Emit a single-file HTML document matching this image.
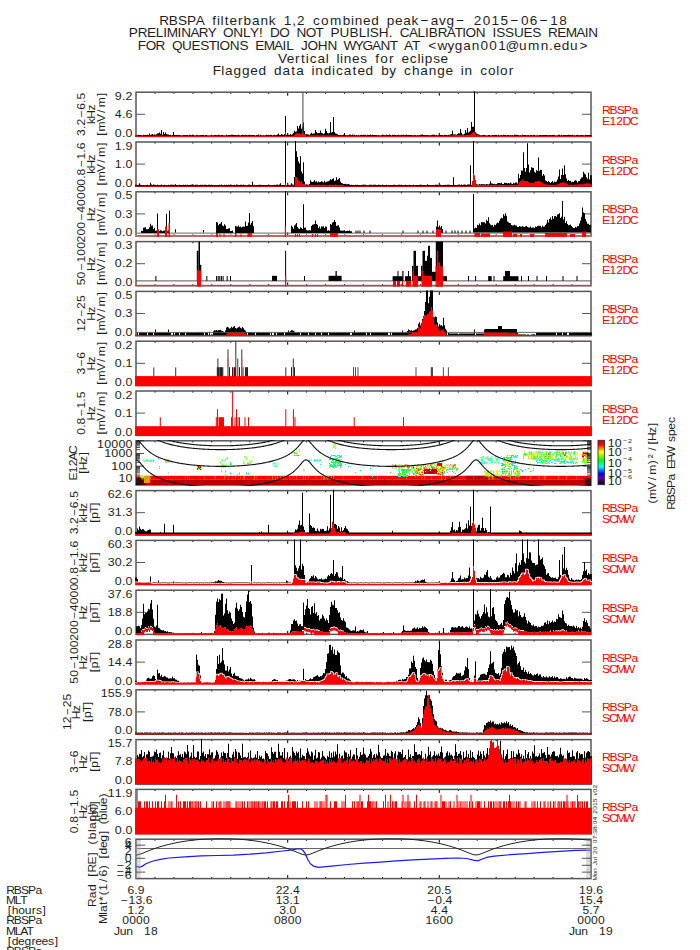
<!DOCTYPE html>
<html><head><meta charset="utf-8"><style>
html,body{margin:0;padding:0;background:#fff;}
svg{display:block;font-family:"Liberation Sans", sans-serif;}
</style></head><body>
<svg width="700" height="950" viewBox="0 0 700 950">
<rect width="700" height="950" fill="#fff"/>
<text transform="translate(363.40,24.60) scale(1.0,1)" x="-204.26 -194.54 -185.42 -176.30 -167.62 -157.41 -151.18 -146.36 -142.80 -138.72 -133.94 -125.53 -119.92 -111.47 -103.01 -94.62 -85.77 -79.65 -71.08 -66.30 -56.40 -50.34 -42.49 -33.47 -20.69 -12.41 -8.67 -0.44 7.79 17.47 23.37 31.60 39.83 48.22 57.22 67.42 75.59 83.00 92.82 104.25 110.37 119.27 128.17 137.07 147.11 157.54 166.44 176.48 186.91 195.81" y="0" font-size="13.58" fill="#1e1e1e">RBSPA filterbank 1,2 combined peak−avg− 2015−06−18</text>
<text transform="translate(363.40,37.20) scale(1.0,1)" x="-234.59 -225.62 -216.35 -207.59 -200.13 -196.78 -185.89 -182.24 -172.96 -164.66 -155.61 -145.40 -140.34 -130.17 -120.37 -113.33 -104.46 -98.67 -93.46 -84.27 -72.42 -66.98 -57.57 -47.98 -38.60 -33.01 -23.82 -13.87 -4.67 2.79 6.37 15.34 25.48 31.27 36.48 45.53 54.07 61.53 65.34 74.31 83.36 91.30 98.91 102.18 112.35 123.83 129.17 132.75 141.65 150.62 160.12 168.80 179.45 184.67 193.94 202.38 212.85 221.28 224.94" y="0" font-size="13.58" fill="#1e1e1e">PRELIMINARY ONLY! DO NOT PUBLISH. CALIBRATION ISSUES REMAIN</text>
<text transform="translate(363.40,49.90) scale(1.0,1)" x="-225.54 -217.77 -207.82 -196.57 -191.52 -181.35 -171.85 -163.17 -154.78 -147.18 -143.90 -133.73 -124.01 -113.36 -108.21 -99.77 -89.30 -80.87 -77.20 -67.97 -62.36 -55.79 -45.62 -35.83 -24.36 -19.98 -8.76 -0.83 8.60 17.12 26.33 35.72 40.64 48.58 57.97 64.79 74.08 84.05 91.45 99.91 108.36 117.04 125.94 134.84 142.18 155.53 164.56 177.34 185.68 190.02 198.25 206.71 216.09" y="0" font-size="13.58" fill="#1e1e1e">FOR QUESTIONS EMAIL JOHN WYGANT AT &lt;wygan001@umn.edu&gt;</text>
<text transform="translate(363.40,62.60) scale(1.0,1)" x="-85.52 -76.76 -68.34 -62.41 -57.58 -53.68 -45.83 -37.55 -32.59 -26.87 -23.31 -19.57 -11.34 -3.17 5.68 11.91 16.92 25.55 32.38 38.05 46.44 54.12 57.68 61.42 69.81 77.21" y="0" font-size="13.58" fill="#1e1e1e">Vertical lines for eclipse</text>
<text transform="translate(363.40,75.30) scale(1.0,1)" x="-150.55 -142.13 -138.39 -129.93 -121.48 -113.25 -105.01 -95.34 -89.44 -80.98 -72.20 -67.19 -57.51 -51.79 -48.05 -39.60 -31.32 -27.43 -19.57 -10.79 -6.00 2.23 11.91 17.81 25.97 34.60 40.66 48.51 56.97 65.42 73.88 82.11 91.56 97.28 101.02 110.70 116.75 124.61 132.88 136.62 145.26" y="0" font-size="13.58" fill="#1e1e1e">Flagged data indicated by change in color</text>
<path d="M155.0,92.2v1.6M155.0,136.4v-1.6M173.9,92.2v1.6M173.9,136.4v-1.6M192.9,92.2v1.6M192.9,136.4v-1.6M211.8,92.2v1.6M211.8,136.4v-1.6M230.8,92.2v1.6M230.8,136.4v-1.6M249.8,92.2v1.6M249.8,136.4v-1.6M268.7,92.2v1.6M268.7,136.4v-1.6M287.7,92.2v3.5M287.7,136.4v-3.5M306.6,92.2v1.6M306.6,136.4v-1.6M325.6,92.2v1.6M325.6,136.4v-1.6M344.5,92.2v1.6M344.5,136.4v-1.6M363.5,92.2v1.6M363.5,136.4v-1.6M382.5,92.2v1.6M382.5,136.4v-1.6M401.4,92.2v1.6M401.4,136.4v-1.6M420.4,92.2v1.6M420.4,136.4v-1.6M439.3,92.2v3.5M439.3,136.4v-3.5M458.3,92.2v1.6M458.3,136.4v-1.6M477.2,92.2v1.6M477.2,136.4v-1.6M496.2,92.2v1.6M496.2,136.4v-1.6M515.2,92.2v1.6M515.2,136.4v-1.6M534.1,92.2v1.6M534.1,136.4v-1.6M553.1,92.2v1.6M553.1,136.4v-1.6M572.0,92.2v1.6M572.0,136.4v-1.6" stroke="#000" stroke-width="1" fill="none"/>
<line x1="136.0" y1="114.3" x2="145.0" y2="114.3" stroke="#575757" stroke-width="1"/>
<line x1="582.0" y1="114.3" x2="591.0" y2="114.3" stroke="#575757" stroke-width="1"/>
<rect x="136.0" y="92.2" width="455.0" height="44.2" fill="none" stroke="#575757" stroke-width="1.5"/>
<path d="M155.0,142.0v1.6M155.0,186.2v-1.6M173.9,142.0v1.6M173.9,186.2v-1.6M192.9,142.0v1.6M192.9,186.2v-1.6M211.8,142.0v1.6M211.8,186.2v-1.6M230.8,142.0v1.6M230.8,186.2v-1.6M249.8,142.0v1.6M249.8,186.2v-1.6M268.7,142.0v1.6M268.7,186.2v-1.6M287.7,142.0v3.5M287.7,186.2v-3.5M306.6,142.0v1.6M306.6,186.2v-1.6M325.6,142.0v1.6M325.6,186.2v-1.6M344.5,142.0v1.6M344.5,186.2v-1.6M363.5,142.0v1.6M363.5,186.2v-1.6M382.5,142.0v1.6M382.5,186.2v-1.6M401.4,142.0v1.6M401.4,186.2v-1.6M420.4,142.0v1.6M420.4,186.2v-1.6M439.3,142.0v3.5M439.3,186.2v-3.5M458.3,142.0v1.6M458.3,186.2v-1.6M477.2,142.0v1.6M477.2,186.2v-1.6M496.2,142.0v1.6M496.2,186.2v-1.6M515.2,142.0v1.6M515.2,186.2v-1.6M534.1,142.0v1.6M534.1,186.2v-1.6M553.1,142.0v1.6M553.1,186.2v-1.6M572.0,142.0v1.6M572.0,186.2v-1.6" stroke="#000" stroke-width="1" fill="none"/>
<line x1="136.0" y1="164.1" x2="145.0" y2="164.1" stroke="#575757" stroke-width="1"/>
<line x1="582.0" y1="164.1" x2="591.0" y2="164.1" stroke="#575757" stroke-width="1"/>
<rect x="136.0" y="142.0" width="455.0" height="44.2" fill="none" stroke="#575757" stroke-width="1.5"/>
<path d="M155.0,191.8v1.6M155.0,236.0v-1.6M173.9,191.8v1.6M173.9,236.0v-1.6M192.9,191.8v1.6M192.9,236.0v-1.6M211.8,191.8v1.6M211.8,236.0v-1.6M230.8,191.8v1.6M230.8,236.0v-1.6M249.8,191.8v1.6M249.8,236.0v-1.6M268.7,191.8v1.6M268.7,236.0v-1.6M287.7,191.8v3.5M287.7,236.0v-3.5M306.6,191.8v1.6M306.6,236.0v-1.6M325.6,191.8v1.6M325.6,236.0v-1.6M344.5,191.8v1.6M344.5,236.0v-1.6M363.5,191.8v1.6M363.5,236.0v-1.6M382.5,191.8v1.6M382.5,236.0v-1.6M401.4,191.8v1.6M401.4,236.0v-1.6M420.4,191.8v1.6M420.4,236.0v-1.6M439.3,191.8v3.5M439.3,236.0v-3.5M458.3,191.8v1.6M458.3,236.0v-1.6M477.2,191.8v1.6M477.2,236.0v-1.6M496.2,191.8v1.6M496.2,236.0v-1.6M515.2,191.8v1.6M515.2,236.0v-1.6M534.1,191.8v1.6M534.1,236.0v-1.6M553.1,191.8v1.6M553.1,236.0v-1.6M572.0,191.8v1.6M572.0,236.0v-1.6" stroke="#000" stroke-width="1" fill="none"/>
<line x1="136.0" y1="213.9" x2="145.0" y2="213.9" stroke="#575757" stroke-width="1"/>
<line x1="582.0" y1="213.9" x2="591.0" y2="213.9" stroke="#575757" stroke-width="1"/>
<rect x="136.0" y="191.8" width="455.0" height="44.2" fill="none" stroke="#575757" stroke-width="1.5"/>
<path d="M155.0,241.6v1.6M155.0,285.8v-1.6M173.9,241.6v1.6M173.9,285.8v-1.6M192.9,241.6v1.6M192.9,285.8v-1.6M211.8,241.6v1.6M211.8,285.8v-1.6M230.8,241.6v1.6M230.8,285.8v-1.6M249.8,241.6v1.6M249.8,285.8v-1.6M268.7,241.6v1.6M268.7,285.8v-1.6M287.7,241.6v3.5M287.7,285.8v-3.5M306.6,241.6v1.6M306.6,285.8v-1.6M325.6,241.6v1.6M325.6,285.8v-1.6M344.5,241.6v1.6M344.5,285.8v-1.6M363.5,241.6v1.6M363.5,285.8v-1.6M382.5,241.6v1.6M382.5,285.8v-1.6M401.4,241.6v1.6M401.4,285.8v-1.6M420.4,241.6v1.6M420.4,285.8v-1.6M439.3,241.6v3.5M439.3,285.8v-3.5M458.3,241.6v1.6M458.3,285.8v-1.6M477.2,241.6v1.6M477.2,285.8v-1.6M496.2,241.6v1.6M496.2,285.8v-1.6M515.2,241.6v1.6M515.2,285.8v-1.6M534.1,241.6v1.6M534.1,285.8v-1.6M553.1,241.6v1.6M553.1,285.8v-1.6M572.0,241.6v1.6M572.0,285.8v-1.6" stroke="#000" stroke-width="1" fill="none"/>
<line x1="136.0" y1="263.7" x2="145.0" y2="263.7" stroke="#575757" stroke-width="1"/>
<line x1="582.0" y1="263.7" x2="591.0" y2="263.7" stroke="#575757" stroke-width="1"/>
<rect x="136.0" y="241.6" width="455.0" height="44.2" fill="none" stroke="#575757" stroke-width="1.5"/>
<path d="M155.0,291.4v1.6M155.0,335.6v-1.6M173.9,291.4v1.6M173.9,335.6v-1.6M192.9,291.4v1.6M192.9,335.6v-1.6M211.8,291.4v1.6M211.8,335.6v-1.6M230.8,291.4v1.6M230.8,335.6v-1.6M249.8,291.4v1.6M249.8,335.6v-1.6M268.7,291.4v1.6M268.7,335.6v-1.6M287.7,291.4v3.5M287.7,335.6v-3.5M306.6,291.4v1.6M306.6,335.6v-1.6M325.6,291.4v1.6M325.6,335.6v-1.6M344.5,291.4v1.6M344.5,335.6v-1.6M363.5,291.4v1.6M363.5,335.6v-1.6M382.5,291.4v1.6M382.5,335.6v-1.6M401.4,291.4v1.6M401.4,335.6v-1.6M420.4,291.4v1.6M420.4,335.6v-1.6M439.3,291.4v3.5M439.3,335.6v-3.5M458.3,291.4v1.6M458.3,335.6v-1.6M477.2,291.4v1.6M477.2,335.6v-1.6M496.2,291.4v1.6M496.2,335.6v-1.6M515.2,291.4v1.6M515.2,335.6v-1.6M534.1,291.4v1.6M534.1,335.6v-1.6M553.1,291.4v1.6M553.1,335.6v-1.6M572.0,291.4v1.6M572.0,335.6v-1.6" stroke="#000" stroke-width="1" fill="none"/>
<line x1="136.0" y1="313.5" x2="145.0" y2="313.5" stroke="#575757" stroke-width="1"/>
<line x1="582.0" y1="313.5" x2="591.0" y2="313.5" stroke="#575757" stroke-width="1"/>
<rect x="136.0" y="291.4" width="455.0" height="44.2" fill="none" stroke="#575757" stroke-width="1.5"/>
<path d="M155.0,341.2v1.6M155.0,385.4v-1.6M173.9,341.2v1.6M173.9,385.4v-1.6M192.9,341.2v1.6M192.9,385.4v-1.6M211.8,341.2v1.6M211.8,385.4v-1.6M230.8,341.2v1.6M230.8,385.4v-1.6M249.8,341.2v1.6M249.8,385.4v-1.6M268.7,341.2v1.6M268.7,385.4v-1.6M287.7,341.2v3.5M287.7,385.4v-3.5M306.6,341.2v1.6M306.6,385.4v-1.6M325.6,341.2v1.6M325.6,385.4v-1.6M344.5,341.2v1.6M344.5,385.4v-1.6M363.5,341.2v1.6M363.5,385.4v-1.6M382.5,341.2v1.6M382.5,385.4v-1.6M401.4,341.2v1.6M401.4,385.4v-1.6M420.4,341.2v1.6M420.4,385.4v-1.6M439.3,341.2v3.5M439.3,385.4v-3.5M458.3,341.2v1.6M458.3,385.4v-1.6M477.2,341.2v1.6M477.2,385.4v-1.6M496.2,341.2v1.6M496.2,385.4v-1.6M515.2,341.2v1.6M515.2,385.4v-1.6M534.1,341.2v1.6M534.1,385.4v-1.6M553.1,341.2v1.6M553.1,385.4v-1.6M572.0,341.2v1.6M572.0,385.4v-1.6" stroke="#000" stroke-width="1" fill="none"/>
<line x1="136.0" y1="363.3" x2="145.0" y2="363.3" stroke="#575757" stroke-width="1"/>
<line x1="582.0" y1="363.3" x2="591.0" y2="363.3" stroke="#575757" stroke-width="1"/>
<rect x="136.0" y="341.2" width="455.0" height="44.2" fill="none" stroke="#575757" stroke-width="1.5"/>
<path d="M155.0,391.0v1.6M155.0,435.2v-1.6M173.9,391.0v1.6M173.9,435.2v-1.6M192.9,391.0v1.6M192.9,435.2v-1.6M211.8,391.0v1.6M211.8,435.2v-1.6M230.8,391.0v1.6M230.8,435.2v-1.6M249.8,391.0v1.6M249.8,435.2v-1.6M268.7,391.0v1.6M268.7,435.2v-1.6M287.7,391.0v3.5M287.7,435.2v-3.5M306.6,391.0v1.6M306.6,435.2v-1.6M325.6,391.0v1.6M325.6,435.2v-1.6M344.5,391.0v1.6M344.5,435.2v-1.6M363.5,391.0v1.6M363.5,435.2v-1.6M382.5,391.0v1.6M382.5,435.2v-1.6M401.4,391.0v1.6M401.4,435.2v-1.6M420.4,391.0v1.6M420.4,435.2v-1.6M439.3,391.0v3.5M439.3,435.2v-3.5M458.3,391.0v1.6M458.3,435.2v-1.6M477.2,391.0v1.6M477.2,435.2v-1.6M496.2,391.0v1.6M496.2,435.2v-1.6M515.2,391.0v1.6M515.2,435.2v-1.6M534.1,391.0v1.6M534.1,435.2v-1.6M553.1,391.0v1.6M553.1,435.2v-1.6M572.0,391.0v1.6M572.0,435.2v-1.6" stroke="#000" stroke-width="1" fill="none"/>
<line x1="136.0" y1="413.1" x2="145.0" y2="413.1" stroke="#575757" stroke-width="1"/>
<line x1="582.0" y1="413.1" x2="591.0" y2="413.1" stroke="#575757" stroke-width="1"/>
<rect x="136.0" y="391.0" width="455.0" height="44.2" fill="none" stroke="#575757" stroke-width="1.5"/>
<path d="M155.0,440.8v1.6M155.0,485.0v-1.6M173.9,440.8v1.6M173.9,485.0v-1.6M192.9,440.8v1.6M192.9,485.0v-1.6M211.8,440.8v1.6M211.8,485.0v-1.6M230.8,440.8v1.6M230.8,485.0v-1.6M249.8,440.8v1.6M249.8,485.0v-1.6M268.7,440.8v1.6M268.7,485.0v-1.6M287.7,440.8v3.5M287.7,485.0v-3.5M306.6,440.8v1.6M306.6,485.0v-1.6M325.6,440.8v1.6M325.6,485.0v-1.6M344.5,440.8v1.6M344.5,485.0v-1.6M363.5,440.8v1.6M363.5,485.0v-1.6M382.5,440.8v1.6M382.5,485.0v-1.6M401.4,440.8v1.6M401.4,485.0v-1.6M420.4,440.8v1.6M420.4,485.0v-1.6M439.3,440.8v3.5M439.3,485.0v-3.5M458.3,440.8v1.6M458.3,485.0v-1.6M477.2,440.8v1.6M477.2,485.0v-1.6M496.2,440.8v1.6M496.2,485.0v-1.6M515.2,440.8v1.6M515.2,485.0v-1.6M534.1,440.8v1.6M534.1,485.0v-1.6M553.1,440.8v1.6M553.1,485.0v-1.6M572.0,440.8v1.6M572.0,485.0v-1.6" stroke="#000" stroke-width="1" fill="none"/>
<rect x="136.0" y="440.8" width="455.0" height="44.2" fill="none" stroke="#575757" stroke-width="1.5"/>
<path d="M155.0,490.6v1.6M155.0,534.8v-1.6M173.9,490.6v1.6M173.9,534.8v-1.6M192.9,490.6v1.6M192.9,534.8v-1.6M211.8,490.6v1.6M211.8,534.8v-1.6M230.8,490.6v1.6M230.8,534.8v-1.6M249.8,490.6v1.6M249.8,534.8v-1.6M268.7,490.6v1.6M268.7,534.8v-1.6M287.7,490.6v3.5M287.7,534.8v-3.5M306.6,490.6v1.6M306.6,534.8v-1.6M325.6,490.6v1.6M325.6,534.8v-1.6M344.5,490.6v1.6M344.5,534.8v-1.6M363.5,490.6v1.6M363.5,534.8v-1.6M382.5,490.6v1.6M382.5,534.8v-1.6M401.4,490.6v1.6M401.4,534.8v-1.6M420.4,490.6v1.6M420.4,534.8v-1.6M439.3,490.6v3.5M439.3,534.8v-3.5M458.3,490.6v1.6M458.3,534.8v-1.6M477.2,490.6v1.6M477.2,534.8v-1.6M496.2,490.6v1.6M496.2,534.8v-1.6M515.2,490.6v1.6M515.2,534.8v-1.6M534.1,490.6v1.6M534.1,534.8v-1.6M553.1,490.6v1.6M553.1,534.8v-1.6M572.0,490.6v1.6M572.0,534.8v-1.6" stroke="#000" stroke-width="1" fill="none"/>
<line x1="136.0" y1="512.7" x2="145.0" y2="512.7" stroke="#575757" stroke-width="1"/>
<line x1="582.0" y1="512.7" x2="591.0" y2="512.7" stroke="#575757" stroke-width="1"/>
<rect x="136.0" y="490.6" width="455.0" height="44.2" fill="none" stroke="#575757" stroke-width="1.5"/>
<path d="M155.0,540.4v1.6M155.0,584.6v-1.6M173.9,540.4v1.6M173.9,584.6v-1.6M192.9,540.4v1.6M192.9,584.6v-1.6M211.8,540.4v1.6M211.8,584.6v-1.6M230.8,540.4v1.6M230.8,584.6v-1.6M249.8,540.4v1.6M249.8,584.6v-1.6M268.7,540.4v1.6M268.7,584.6v-1.6M287.7,540.4v3.5M287.7,584.6v-3.5M306.6,540.4v1.6M306.6,584.6v-1.6M325.6,540.4v1.6M325.6,584.6v-1.6M344.5,540.4v1.6M344.5,584.6v-1.6M363.5,540.4v1.6M363.5,584.6v-1.6M382.5,540.4v1.6M382.5,584.6v-1.6M401.4,540.4v1.6M401.4,584.6v-1.6M420.4,540.4v1.6M420.4,584.6v-1.6M439.3,540.4v3.5M439.3,584.6v-3.5M458.3,540.4v1.6M458.3,584.6v-1.6M477.2,540.4v1.6M477.2,584.6v-1.6M496.2,540.4v1.6M496.2,584.6v-1.6M515.2,540.4v1.6M515.2,584.6v-1.6M534.1,540.4v1.6M534.1,584.6v-1.6M553.1,540.4v1.6M553.1,584.6v-1.6M572.0,540.4v1.6M572.0,584.6v-1.6" stroke="#000" stroke-width="1" fill="none"/>
<line x1="136.0" y1="562.5" x2="145.0" y2="562.5" stroke="#575757" stroke-width="1"/>
<line x1="582.0" y1="562.5" x2="591.0" y2="562.5" stroke="#575757" stroke-width="1"/>
<rect x="136.0" y="540.4" width="455.0" height="44.2" fill="none" stroke="#575757" stroke-width="1.5"/>
<path d="M155.0,590.2v1.6M155.0,634.4v-1.6M173.9,590.2v1.6M173.9,634.4v-1.6M192.9,590.2v1.6M192.9,634.4v-1.6M211.8,590.2v1.6M211.8,634.4v-1.6M230.8,590.2v1.6M230.8,634.4v-1.6M249.8,590.2v1.6M249.8,634.4v-1.6M268.7,590.2v1.6M268.7,634.4v-1.6M287.7,590.2v3.5M287.7,634.4v-3.5M306.6,590.2v1.6M306.6,634.4v-1.6M325.6,590.2v1.6M325.6,634.4v-1.6M344.5,590.2v1.6M344.5,634.4v-1.6M363.5,590.2v1.6M363.5,634.4v-1.6M382.5,590.2v1.6M382.5,634.4v-1.6M401.4,590.2v1.6M401.4,634.4v-1.6M420.4,590.2v1.6M420.4,634.4v-1.6M439.3,590.2v3.5M439.3,634.4v-3.5M458.3,590.2v1.6M458.3,634.4v-1.6M477.2,590.2v1.6M477.2,634.4v-1.6M496.2,590.2v1.6M496.2,634.4v-1.6M515.2,590.2v1.6M515.2,634.4v-1.6M534.1,590.2v1.6M534.1,634.4v-1.6M553.1,590.2v1.6M553.1,634.4v-1.6M572.0,590.2v1.6M572.0,634.4v-1.6" stroke="#000" stroke-width="1" fill="none"/>
<line x1="136.0" y1="612.3" x2="145.0" y2="612.3" stroke="#575757" stroke-width="1"/>
<line x1="582.0" y1="612.3" x2="591.0" y2="612.3" stroke="#575757" stroke-width="1"/>
<rect x="136.0" y="590.2" width="455.0" height="44.2" fill="none" stroke="#575757" stroke-width="1.5"/>
<path d="M155.0,640.0v1.6M155.0,684.2v-1.6M173.9,640.0v1.6M173.9,684.2v-1.6M192.9,640.0v1.6M192.9,684.2v-1.6M211.8,640.0v1.6M211.8,684.2v-1.6M230.8,640.0v1.6M230.8,684.2v-1.6M249.8,640.0v1.6M249.8,684.2v-1.6M268.7,640.0v1.6M268.7,684.2v-1.6M287.7,640.0v3.5M287.7,684.2v-3.5M306.6,640.0v1.6M306.6,684.2v-1.6M325.6,640.0v1.6M325.6,684.2v-1.6M344.5,640.0v1.6M344.5,684.2v-1.6M363.5,640.0v1.6M363.5,684.2v-1.6M382.5,640.0v1.6M382.5,684.2v-1.6M401.4,640.0v1.6M401.4,684.2v-1.6M420.4,640.0v1.6M420.4,684.2v-1.6M439.3,640.0v3.5M439.3,684.2v-3.5M458.3,640.0v1.6M458.3,684.2v-1.6M477.2,640.0v1.6M477.2,684.2v-1.6M496.2,640.0v1.6M496.2,684.2v-1.6M515.2,640.0v1.6M515.2,684.2v-1.6M534.1,640.0v1.6M534.1,684.2v-1.6M553.1,640.0v1.6M553.1,684.2v-1.6M572.0,640.0v1.6M572.0,684.2v-1.6" stroke="#000" stroke-width="1" fill="none"/>
<line x1="136.0" y1="662.1" x2="145.0" y2="662.1" stroke="#575757" stroke-width="1"/>
<line x1="582.0" y1="662.1" x2="591.0" y2="662.1" stroke="#575757" stroke-width="1"/>
<rect x="136.0" y="640.0" width="455.0" height="44.2" fill="none" stroke="#575757" stroke-width="1.5"/>
<path d="M155.0,689.8v1.6M155.0,734.0v-1.6M173.9,689.8v1.6M173.9,734.0v-1.6M192.9,689.8v1.6M192.9,734.0v-1.6M211.8,689.8v1.6M211.8,734.0v-1.6M230.8,689.8v1.6M230.8,734.0v-1.6M249.8,689.8v1.6M249.8,734.0v-1.6M268.7,689.8v1.6M268.7,734.0v-1.6M287.7,689.8v3.5M287.7,734.0v-3.5M306.6,689.8v1.6M306.6,734.0v-1.6M325.6,689.8v1.6M325.6,734.0v-1.6M344.5,689.8v1.6M344.5,734.0v-1.6M363.5,689.8v1.6M363.5,734.0v-1.6M382.5,689.8v1.6M382.5,734.0v-1.6M401.4,689.8v1.6M401.4,734.0v-1.6M420.4,689.8v1.6M420.4,734.0v-1.6M439.3,689.8v3.5M439.3,734.0v-3.5M458.3,689.8v1.6M458.3,734.0v-1.6M477.2,689.8v1.6M477.2,734.0v-1.6M496.2,689.8v1.6M496.2,734.0v-1.6M515.2,689.8v1.6M515.2,734.0v-1.6M534.1,689.8v1.6M534.1,734.0v-1.6M553.1,689.8v1.6M553.1,734.0v-1.6M572.0,689.8v1.6M572.0,734.0v-1.6" stroke="#000" stroke-width="1" fill="none"/>
<line x1="136.0" y1="711.9" x2="145.0" y2="711.9" stroke="#575757" stroke-width="1"/>
<line x1="582.0" y1="711.9" x2="591.0" y2="711.9" stroke="#575757" stroke-width="1"/>
<rect x="136.0" y="689.8" width="455.0" height="44.2" fill="none" stroke="#575757" stroke-width="1.5"/>
<path d="M155.0,739.6v1.6M155.0,783.8v-1.6M173.9,739.6v1.6M173.9,783.8v-1.6M192.9,739.6v1.6M192.9,783.8v-1.6M211.8,739.6v1.6M211.8,783.8v-1.6M230.8,739.6v1.6M230.8,783.8v-1.6M249.8,739.6v1.6M249.8,783.8v-1.6M268.7,739.6v1.6M268.7,783.8v-1.6M287.7,739.6v3.5M287.7,783.8v-3.5M306.6,739.6v1.6M306.6,783.8v-1.6M325.6,739.6v1.6M325.6,783.8v-1.6M344.5,739.6v1.6M344.5,783.8v-1.6M363.5,739.6v1.6M363.5,783.8v-1.6M382.5,739.6v1.6M382.5,783.8v-1.6M401.4,739.6v1.6M401.4,783.8v-1.6M420.4,739.6v1.6M420.4,783.8v-1.6M439.3,739.6v3.5M439.3,783.8v-3.5M458.3,739.6v1.6M458.3,783.8v-1.6M477.2,739.6v1.6M477.2,783.8v-1.6M496.2,739.6v1.6M496.2,783.8v-1.6M515.2,739.6v1.6M515.2,783.8v-1.6M534.1,739.6v1.6M534.1,783.8v-1.6M553.1,739.6v1.6M553.1,783.8v-1.6M572.0,739.6v1.6M572.0,783.8v-1.6" stroke="#000" stroke-width="1" fill="none"/>
<line x1="136.0" y1="761.7" x2="145.0" y2="761.7" stroke="#575757" stroke-width="1"/>
<line x1="582.0" y1="761.7" x2="591.0" y2="761.7" stroke="#575757" stroke-width="1"/>
<rect x="136.0" y="739.6" width="455.0" height="44.2" fill="none" stroke="#575757" stroke-width="1.5"/>
<path d="M155.0,789.4v1.6M155.0,833.6v-1.6M173.9,789.4v1.6M173.9,833.6v-1.6M192.9,789.4v1.6M192.9,833.6v-1.6M211.8,789.4v1.6M211.8,833.6v-1.6M230.8,789.4v1.6M230.8,833.6v-1.6M249.8,789.4v1.6M249.8,833.6v-1.6M268.7,789.4v1.6M268.7,833.6v-1.6M287.7,789.4v3.5M287.7,833.6v-3.5M306.6,789.4v1.6M306.6,833.6v-1.6M325.6,789.4v1.6M325.6,833.6v-1.6M344.5,789.4v1.6M344.5,833.6v-1.6M363.5,789.4v1.6M363.5,833.6v-1.6M382.5,789.4v1.6M382.5,833.6v-1.6M401.4,789.4v1.6M401.4,833.6v-1.6M420.4,789.4v1.6M420.4,833.6v-1.6M439.3,789.4v3.5M439.3,833.6v-3.5M458.3,789.4v1.6M458.3,833.6v-1.6M477.2,789.4v1.6M477.2,833.6v-1.6M496.2,789.4v1.6M496.2,833.6v-1.6M515.2,789.4v1.6M515.2,833.6v-1.6M534.1,789.4v1.6M534.1,833.6v-1.6M553.1,789.4v1.6M553.1,833.6v-1.6M572.0,789.4v1.6M572.0,833.6v-1.6" stroke="#000" stroke-width="1" fill="none"/>
<line x1="136.0" y1="811.5" x2="145.0" y2="811.5" stroke="#575757" stroke-width="1"/>
<line x1="582.0" y1="811.5" x2="591.0" y2="811.5" stroke="#575757" stroke-width="1"/>
<rect x="136.0" y="789.4" width="455.0" height="44.2" fill="none" stroke="#575757" stroke-width="1.5"/>
<path d="M155.0,839.2v1.6M155.0,878.6v-1.6M173.9,839.2v1.6M173.9,878.6v-1.6M192.9,839.2v1.6M192.9,878.6v-1.6M211.8,839.2v1.6M211.8,878.6v-1.6M230.8,839.2v1.6M230.8,878.6v-1.6M249.8,839.2v1.6M249.8,878.6v-1.6M268.7,839.2v1.6M268.7,878.6v-1.6M287.7,839.2v3.5M287.7,878.6v-3.5M306.6,839.2v1.6M306.6,878.6v-1.6M325.6,839.2v1.6M325.6,878.6v-1.6M344.5,839.2v1.6M344.5,878.6v-1.6M363.5,839.2v1.6M363.5,878.6v-1.6M382.5,839.2v1.6M382.5,878.6v-1.6M401.4,839.2v1.6M401.4,878.6v-1.6M420.4,839.2v1.6M420.4,878.6v-1.6M439.3,839.2v3.5M439.3,878.6v-3.5M458.3,839.2v1.6M458.3,878.6v-1.6M477.2,839.2v1.6M477.2,878.6v-1.6M496.2,839.2v1.6M496.2,878.6v-1.6M515.2,839.2v1.6M515.2,878.6v-1.6M534.1,839.2v1.6M534.1,878.6v-1.6M553.1,839.2v1.6M553.1,878.6v-1.6M572.0,839.2v1.6M572.0,878.6v-1.6" stroke="#000" stroke-width="1" fill="none"/>
<rect x="136.0" y="839.2" width="455.0" height="39.4" fill="none" stroke="#575757" stroke-width="1.5"/>
<defs><clipPath id="cp0"><rect x="135.1" y="91.3" width="456.8" height="46.0"/></clipPath><clipPath id="cp1"><rect x="135.1" y="141.1" width="456.8" height="46.0"/></clipPath><clipPath id="cp2"><rect x="135.1" y="190.9" width="456.8" height="46.0"/></clipPath><clipPath id="cp3"><rect x="135.1" y="240.7" width="456.8" height="46.0"/></clipPath><clipPath id="cp4"><rect x="135.1" y="290.5" width="456.8" height="46.0"/></clipPath><clipPath id="cp5"><rect x="135.1" y="340.3" width="456.8" height="46.0"/></clipPath><clipPath id="cp6"><rect x="135.1" y="390.1" width="456.8" height="46.0"/></clipPath><clipPath id="cp7"><rect x="135.1" y="439.9" width="456.8" height="46.0"/></clipPath><clipPath id="cp8"><rect x="135.1" y="489.7" width="456.8" height="46.0"/></clipPath><clipPath id="cp9"><rect x="135.1" y="539.5" width="456.8" height="46.0"/></clipPath><clipPath id="cp10"><rect x="135.1" y="589.3" width="456.8" height="46.0"/></clipPath><clipPath id="cp11"><rect x="135.1" y="639.1" width="456.8" height="46.0"/></clipPath><clipPath id="cp12"><rect x="135.1" y="688.9" width="456.8" height="46.0"/></clipPath><clipPath id="cp13"><rect x="135.1" y="738.7" width="456.8" height="46.0"/></clipPath><clipPath id="cp14"><rect x="135.1" y="788.5" width="456.8" height="46.0"/></clipPath><clipPath id="cp15"><rect x="135.1" y="838.3" width="456.8" height="41.2"/></clipPath></defs>
<path d="M135.1,137.0V135.4h0.9V135.4h1V135.3h1V134.8h1V135.0h1V135.1h1V135.2h1V135.5h1V134.8h1V135.3h1V135.0h1V135.1h1V134.8h1V135.2h1V133.4h1V135.0h1V134.4h1V133.9h1V134.7h1V134.5h1V134.7h1V134.2h1V133.4h1V133.2h1V132.4h1V133.8h1V130.1h1V134.8h1V131.9h1V133.9h1V132.4h1V134.1h1V134.4h1V134.6h1V135.0h1V134.8h1V135.5h1V135.0h1V132.1h1V135.2h1V134.9h1V135.0h1V135.0h1V135.3h1V135.0h1V135.3h1V135.5h1V135.5h1V135.0h1V135.1h1V135.2h1V135.0h1V135.0h1V135.6h1V134.8h1V134.9h1V135.3h1V134.8h1V135.0h1V135.4h1V135.5h1V135.1h1V134.9h1V135.5h1V135.3h1V135.2h1V135.0h1V135.0h1V135.0h1V135.4h1V135.1h1V134.9h1V135.5h1V135.4h1V135.5h1V135.5h1V134.9h1V135.5h1V135.4h1V135.1h1V135.0h1V135.2h1V135.2h1V134.8h1V135.1h1V135.5h1V135.1h1V135.0h1V135.5h1V135.5h1V135.5h1V134.7h1V135.4h1V134.9h1V135.0h1V135.4h1V134.8h1V134.8h1V134.9h1V134.9h1V135.0h1V135.3h1V135.2h1V134.8h1V135.3h1V135.5h1V135.2h1V134.8h1V135.1h1V135.3h1V134.8h1V135.2h1V135.2h1V134.9h1V134.8h1V135.3h1V135.1h1V135.0h1V135.1h1V135.3h1V135.4h1V135.0h1V135.3h1V134.6h1V135.4h1V134.7h1V135.5h1V135.5h1V135.2h1V135.4h1V135.2h1V134.7h1V135.2h1V135.5h1V135.3h1V134.8h1V135.0h1V135.4h1V135.3h1V134.8h1V135.3h1V134.9h1V134.5h1V133.4h1V134.9h1V135.0h1V133.9h1V134.7h1V135.1h1V134.1h1V116.1h1V134.7h1V134.8h1V134.8h1V134.9h1V134.1h1V134.7h1V134.2h1V132.7h1V130.8h1V131.8h1V131.4h1V125.9h1V128.6h1V125.7h1V123.9h1V128.8h1V126.6h1V122.4h1V130.9h1V134.1h1V134.2h1V134.2h1V134.5h1V135.0h1V133.7h1V132.8h1V133.7h1V133.6h1V133.4h1V130.1h1V132.0h1V133.2h1V133.1h1V132.9h1V130.6h1V132.9h1V133.2h1V133.9h1V133.3h1V128.8h1V131.1h1V132.9h1V133.6h1V133.0h1V121.9h1V132.6h1V132.0h1V117.0h1V132.1h1V133.5h1V133.8h1V134.3h1V135.1h1V135.2h1V134.9h1V135.3h1V134.9h1V134.7h1V133.1h1V135.2h1V135.2h1V135.3h1V135.3h1V134.6h1V134.8h1V135.3h1V134.6h1V135.3h1V134.8h1V135.5h1V135.1h1V135.5h1V134.9h1V135.5h1V134.9h1V134.7h1V135.0h1V135.0h1V134.9h1V134.7h1V135.4h1V134.8h1V135.0h1V135.0h1V134.6h1V135.2h1V134.8h1V134.9h1V135.1h1V135.0h1V135.1h1V135.5h1V135.0h1V135.5h1V135.4h1V135.2h1V134.7h1V135.0h1V135.2h1V135.2h1V134.7h1V135.0h1V135.0h1V134.6h1V135.0h1V135.4h1V134.7h1V134.9h1V134.8h1V135.1h1V135.2h1V135.2h1V134.7h1V135.2h1V135.2h1V135.4h1V135.2h1V134.7h1V135.2h1V134.9h1V134.6h1V135.3h1V135.1h1V135.0h1V135.1h1V135.0h1V135.3h1V135.5h1V134.9h1V135.3h1V135.4h1V134.9h1V135.4h1V135.2h1V134.9h1V134.7h1V134.6h1V134.9h1V134.9h1V135.2h1V135.1h1V135.2h1V135.2h1V135.2h1V135.5h1V135.0h1V134.7h1V134.8h1V134.8h1V135.3h1V134.9h1V135.5h1V135.3h1V135.3h1V135.0h1V135.1h1V135.1h1V135.4h1V134.8h1V135.0h1V134.9h1V135.2h1V134.7h1V134.7h1V134.6h1V134.1h1V130.5h1V134.5h1V134.3h1V134.4h1V134.7h1V134.1h1V133.3h1V133.6h1V129.1h1V132.8h1V134.6h1V134.5h1V133.8h1V130.1h1V132.8h1V127.9h1V132.6h1V131.7h1V130.6h1V121.9h1V126.8h1V126.8h1V90.4h1V131.7h1V133.6h1V134.1h1V134.6h1V134.7h1V135.6h1V135.2h1V135.2h1V134.9h1V135.0h1V135.5h1V135.4h1V135.5h1V134.9h1V134.9h1V135.4h1V135.5h1V135.0h1V135.3h1V134.9h1V135.1h1V135.0h1V135.6h1V134.8h1V135.5h1V135.2h1V134.9h1V135.6h1V134.8h1V135.1h1V134.9h1V135.4h1V134.9h1V135.0h1V135.4h1V135.1h1V135.5h1V135.1h1V135.4h1V134.8h1V135.2h1V134.8h1V135.1h1V135.0h1V135.4h1V135.2h1V135.4h1V134.8h1V135.2h1V135.0h1V134.9h1V135.4h1V135.2h1V134.9h1V135.4h1V135.1h1V135.0h1V135.5h1V135.1h1V135.0h1V135.4h1V135.5h1V135.3h1V135.4h1V134.9h1V134.9h1V135.2h1V135.3h1V135.0h1V135.0h1V135.0h1V134.9h1V135.2h1V135.3h1V135.3h1V135.1h1V135.2h1V134.9h1V135.0h1V135.2h1V135.4h1V135.4h1V135.5h1V134.8h1V134.8h1V135.4h1V134.8h1V135.6h1V134.9h1V135.0h1V135.0h1V135.2h1V134.9h1V134.8h1V135.1h1V135.0h1V135.5h1V135.1h1V135.4h1V135.2h1V135.5h1V134.9h1V134.8h1V135.3h1V135.5h1V135.1h1V135.1h1V135.3h1V135.2h1V135.4h1V134.8h1V134.9h1V135.0h1V135.0h1V135.1h1V135.2h1h0.9V137.0Z" fill="#000" clip-path="url(#cp0)"/>
<path d="M135.1,137.0V136.0h0.9V136.0h1V136.1h1V136.0h1V136.0h1V136.0h1V136.0h1V135.9h1V136.0h1V136.0h1V135.9h1V136.0h1V135.9h1V136.0h1V135.8h1V135.9h1V135.8h1V135.7h1V135.6h1V135.7h1V135.4h1V135.5h1V135.5h1V135.4h1V135.4h1V135.4h1V135.6h1V135.5h1V135.7h1V135.7h1V135.8h1V135.8h1V136.0h1V136.0h1V136.1h1V136.0h1V136.0h1V136.0h1V136.0h1V136.0h1V136.0h1V136.0h1V136.1h1V136.1h1V136.0h1V136.0h1V136.0h1V136.0h1V136.0h1V136.0h1V136.0h1V136.0h1V136.0h1V136.0h1V136.0h1V136.1h1V136.0h1V136.0h1V136.0h1V136.1h1V136.0h1V136.1h1V136.0h1V136.1h1V136.0h1V136.1h1V136.0h1V136.1h1V136.0h1V136.0h1V136.0h1V136.0h1V136.1h1V136.0h1V136.0h1V136.0h1V136.0h1V136.1h1V136.1h1V136.0h1V136.0h1V136.0h1V136.0h1V136.0h1V136.0h1V136.0h1V136.1h1V136.0h1V136.0h1V136.0h1V136.0h1V136.1h1V136.1h1V136.0h1V136.0h1V136.0h1V136.1h1V136.0h1V136.0h1V136.0h1V136.0h1V136.0h1V136.1h1V136.0h1V136.0h1V136.0h1V136.1h1V136.0h1V136.0h1V136.0h1V136.0h1V136.0h1V136.0h1V136.0h1V136.0h1V136.1h1V136.0h1V136.0h1V136.0h1V136.0h1V136.1h1V136.0h1V136.0h1V136.0h1V136.0h1V136.1h1V136.0h1V136.0h1V136.1h1V136.0h1V136.0h1V136.1h1V136.0h1V136.0h1V136.0h1V136.0h1V136.0h1V136.0h1V136.0h1V136.0h1V136.0h1V136.0h1V136.0h1V136.0h1V136.1h1V136.0h1V136.1h1V136.0h1V136.0h1V136.0h1V132.5h1V136.0h1V136.0h1V136.0h1V136.0h1V136.0h1V136.0h1V135.8h1V135.8h1V135.1h1V134.0h1V133.3h1V133.9h1V133.6h1V133.2h1V133.9h1V133.4h1V133.0h1V133.7h1V134.1h1V135.1h1V135.8h1V135.7h1V135.7h1V135.4h1V135.2h1V135.2h1V135.3h1V135.3h1V135.4h1V135.3h1V135.5h1V135.2h1V135.2h1V135.6h1V135.3h1V135.5h1V135.3h1V135.3h1V135.3h1V135.6h1V135.3h1V135.4h1V135.5h1V135.5h1V135.3h1V135.5h1V135.5h1V135.4h1V135.3h1V135.4h1V135.6h1V135.6h1V135.8h1V135.9h1V136.1h1V136.0h1V136.0h1V136.0h1V136.0h1V136.0h1V136.0h1V136.0h1V136.1h1V136.0h1V136.0h1V136.0h1V136.0h1V136.0h1V136.0h1V136.0h1V136.1h1V136.0h1V136.1h1V136.1h1V136.0h1V136.0h1V136.0h1V136.1h1V136.0h1V136.0h1V136.0h1V136.0h1V136.0h1V136.0h1V136.0h1V136.0h1V136.1h1V136.0h1V136.1h1V136.1h1V136.0h1V136.0h1V136.0h1V136.0h1V136.1h1V136.0h1V136.0h1V136.1h1V136.0h1V136.0h1V136.0h1V136.0h1V136.0h1V136.1h1V136.0h1V136.0h1V136.0h1V136.0h1V136.1h1V136.0h1V136.0h1V136.0h1V136.0h1V136.0h1V136.0h1V136.0h1V136.0h1V136.0h1V136.1h1V136.0h1V136.0h1V136.1h1V136.1h1V136.1h1V136.0h1V136.0h1V136.0h1V136.0h1V136.1h1V136.1h1V136.1h1V136.0h1V136.1h1V136.0h1V136.0h1V136.1h1V136.0h1V136.0h1V136.0h1V136.0h1V136.0h1V136.0h1V136.1h1V136.0h1V136.0h1V136.0h1V136.1h1V136.0h1V136.0h1V136.0h1V136.1h1V136.1h1V136.0h1V136.0h1V136.0h1V136.0h1V136.0h1V136.0h1V136.0h1V136.0h1V135.8h1V135.7h1V135.6h1V135.4h1V135.4h1V135.4h1V135.4h1V135.2h1V135.2h1V135.0h1V135.3h1V135.2h1V135.0h1V135.0h1V135.2h1V135.2h1V135.2h1V134.9h1V135.2h1V135.0h1V135.1h1V135.1h1V135.0h1V134.8h1V134.5h1V133.8h1V132.8h1V132.1h1V131.7h1V134.3h1V134.9h1V135.1h1V135.6h1V135.9h1V136.0h1V136.0h1V136.0h1V136.1h1V136.1h1V136.0h1V136.1h1V136.0h1V136.0h1V136.0h1V136.0h1V136.0h1V136.1h1V136.0h1V136.0h1V136.0h1V136.0h1V136.0h1V136.0h1V136.0h1V136.1h1V136.0h1V136.1h1V136.1h1V136.0h1V136.1h1V136.0h1V136.1h1V136.0h1V136.0h1V136.0h1V136.0h1V136.0h1V136.0h1V136.0h1V136.0h1V136.1h1V136.1h1V136.0h1V136.0h1V136.0h1V136.0h1V136.0h1V136.0h1V136.0h1V136.0h1V136.0h1V136.0h1V136.1h1V136.0h1V136.1h1V136.0h1V136.0h1V136.1h1V136.0h1V136.1h1V136.0h1V136.0h1V136.1h1V136.0h1V136.0h1V136.0h1V136.1h1V136.0h1V136.1h1V136.0h1V136.1h1V136.0h1V136.0h1V136.0h1V136.1h1V136.1h1V136.0h1V136.0h1V136.0h1V136.0h1V136.1h1V136.0h1V136.0h1V136.0h1V136.0h1V136.0h1V136.0h1V136.0h1V136.1h1V136.0h1V136.0h1V136.0h1V136.0h1V136.1h1V136.1h1V136.0h1V136.1h1V136.0h1V136.1h1V136.0h1V136.0h1V136.0h1V136.1h1V136.0h1V136.0h1V136.1h1V136.0h1V136.0h1V136.0h1V136.1h1V136.0h1V136.1h1V136.0h1V136.0h1V136.0h1h0.9V137.0Z" fill="#ff0000" clip-path="url(#cp0)"/>
<path d="M135.1,186.8V184.8h0.9V184.8h1V184.9h1V184.8h1V183.2h1V184.8h1V185.1h1V185.2h1V184.9h1V185.2h1V185.2h1V185.0h1V184.8h1V185.2h1V185.2h1V182.7h1V184.6h1V185.1h1V184.6h1V184.9h1V185.3h1V185.2h1V184.7h1V184.9h1V185.2h1V184.9h1V184.6h1V185.2h1V184.9h1V184.8h1V185.2h1V185.1h1V185.2h1V184.7h1V184.9h1V184.7h1V184.7h1V184.8h1V185.1h1V185.3h1V184.2h1V185.1h1V184.9h1V185.2h1V184.8h1V185.0h1V185.1h1V185.2h1V184.7h1V185.0h1V184.7h1V185.1h1V184.8h1V185.0h1V185.0h1V184.7h1V184.7h1V184.6h1V184.8h1V185.0h1V184.7h1V184.8h1V184.8h1V185.3h1V185.1h1V184.8h1V184.9h1V184.7h1V185.3h1V184.8h1V184.8h1V185.1h1V185.3h1V184.8h1V184.7h1V185.0h1V185.0h1V185.0h1V185.2h1V184.9h1V184.9h1V184.9h1V185.1h1V185.0h1V184.7h1V185.2h1V184.6h1V185.0h1V185.2h1V184.7h1V185.1h1V184.7h1V185.1h1V184.8h1V185.1h1V184.6h1V185.1h1V185.2h1V185.0h1V184.7h1V185.2h1V184.6h1V184.7h1V185.1h1V184.9h1V184.8h1V184.7h1V185.1h1V184.6h1V184.9h1V185.2h1V185.3h1V185.2h1V184.7h1V184.8h1V184.9h1V185.1h1V181.7h1V185.1h1V184.8h1V185.2h1V185.0h1V185.1h1V185.1h1V184.8h1V184.8h1V185.0h1V185.3h1V184.9h1V185.3h1V184.9h1V185.0h1V185.1h1V184.8h1V185.0h1V185.0h1V185.2h1V185.0h1V185.2h1V184.7h1V185.0h1V184.7h1V184.6h1V185.2h1V184.6h1V183.2h1V185.3h1V185.1h1V184.9h1V184.9h1V140.2h1V185.0h1V185.0h1V184.7h1V185.0h1V184.8h1V183.2h1V184.6h1V184.8h1V177.1h1V140.2h1V151.2h1V157.1h1V161.4h1V163.5h1V156.2h1V171.5h1V173.6h1V162.2h1V181.5h1V184.5h1V184.8h1V184.6h1V184.8h1V184.1h1V180.2h1V181.7h1V181.9h1V181.6h1V180.2h1V181.8h1V181.2h1V182.4h1V181.5h1V182.3h1V181.9h1V181.2h1V181.8h1V182.4h1V180.8h1V182.2h1V181.7h1V181.6h1V181.2h1V180.4h1V179.2h1V179.7h1V179.0h1V178.2h1V181.0h1V180.6h1V177.2h1V180.1h1V179.1h1V178.2h1V181.4h1V183.1h1V183.3h1V183.9h1V183.9h1V183.8h1V184.2h1V184.3h1V184.1h1V184.6h1V184.9h1V184.8h1V185.1h1V184.9h1V185.3h1V184.8h1V185.1h1V184.8h1V185.1h1V185.0h1V185.2h1V184.9h1V184.7h1V185.3h1V184.8h1V184.8h1V185.2h1V185.3h1V185.3h1V184.7h1V184.8h1V184.8h1V185.0h1V184.8h1V184.8h1V184.7h1V184.9h1V184.9h1V184.8h1V184.8h1V185.0h1V185.2h1V185.1h1V185.1h1V185.1h1V185.0h1V184.8h1V185.2h1V185.1h1V185.1h1V185.0h1V185.2h1V184.9h1V184.7h1V184.8h1V185.3h1V185.0h1V185.2h1V184.8h1V184.8h1V185.0h1V185.2h1V184.9h1V185.2h1V185.1h1V184.7h1V184.9h1V185.0h1V185.3h1V184.8h1V184.9h1V185.3h1V185.2h1V184.7h1V185.2h1V185.2h1V184.9h1V184.9h1V185.1h1V185.0h1V185.2h1V184.7h1V185.3h1V184.9h1V185.1h1V185.0h1V185.3h1V184.2h1V185.0h1V185.3h1V184.9h1V185.3h1V185.1h1V185.1h1V185.3h1V184.8h1V184.7h1V184.8h1V185.2h1V185.3h1V184.7h1V185.3h1V185.3h1V185.0h1V185.0h1V184.8h1V184.9h1V184.8h1V184.8h1V184.8h1V185.1h1V184.9h1V185.1h1V177.2h1V184.9h1V184.9h1V185.2h1V185.1h1V185.1h1V184.6h1V184.9h1V184.5h1V185.1h1V184.8h1V184.6h1V184.8h1V185.0h1V184.5h1V184.5h1V184.5h1V165.2h1V185.1h1V184.5h1V140.2h1V184.3h1V184.8h1V184.2h1V184.4h1V184.7h1V184.1h1V184.4h1V184.1h1V184.3h1V184.2h1V184.2h1V184.4h1V184.0h1V184.3h1V184.4h1V183.7h1V181.2h1V183.5h1V183.4h1V183.9h1V183.8h1V184.3h1V184.2h1V183.2h1V182.9h1V183.0h1V183.2h1V182.8h1V184.1h1V183.9h1V182.8h1V183.0h1V183.0h1V183.6h1V182.9h1V183.5h1V182.6h1V183.5h1V184.0h1V182.7h1V183.5h1V182.5h1V182.6h1V183.5h1V173.8h1V178.2h1V175.0h1V170.6h1V170.7h1V152.2h1V168.0h1V171.8h1V167.9h1V143.2h1V164.5h1V172.5h1V170.3h1V167.2h1V167.7h1V167.9h1V171.8h1V172.7h1V170.1h1V170.9h1V157.5h1V171.1h1V169.7h1V170.1h1V175.8h1V173.9h1V175.6h1V180.5h1V180.9h1V182.0h1V180.9h1V182.1h1V183.0h1V181.9h1V181.0h1V182.7h1V181.6h1V181.9h1V181.5h1V179.5h1V176.5h1V169.5h1V179.1h1V175.0h1V168.4h1V175.1h1V165.2h1V174.2h1V178.4h1V181.0h1V180.0h1V181.1h1V180.7h1V182.2h1V181.7h1V182.0h1V180.8h1V180.3h1V180.8h1V182.4h1V181.3h1V181.0h1V179.2h1V177.4h1V177.3h1V171.7h1V173.6h1V174.5h1V177.2h1V178.8h1V172.7h1V179.4h1V175.3h1h0.9V186.8Z" fill="#000" clip-path="url(#cp1)"/>
<path d="M135.1,186.8V185.8h0.9V185.8h1V185.8h1V185.8h1V185.9h1V185.9h1V185.9h1V185.9h1V185.8h1V185.9h1V185.9h1V185.9h1V185.9h1V185.8h1V185.8h1V185.8h1V185.9h1V185.8h1V185.8h1V185.8h1V185.8h1V185.9h1V185.8h1V185.9h1V185.9h1V185.8h1V185.8h1V185.8h1V185.9h1V185.8h1V185.8h1V185.8h1V185.8h1V185.8h1V185.8h1V185.9h1V185.8h1V185.9h1V185.8h1V185.9h1V185.8h1V185.8h1V185.8h1V185.9h1V185.9h1V185.9h1V185.9h1V185.9h1V185.9h1V185.9h1V185.8h1V185.8h1V185.8h1V185.8h1V185.8h1V185.9h1V185.9h1V185.8h1V185.8h1V185.8h1V185.8h1V185.8h1V185.8h1V185.8h1V185.9h1V185.8h1V185.8h1V185.9h1V185.8h1V185.9h1V185.8h1V185.9h1V185.9h1V185.8h1V185.9h1V185.9h1V185.8h1V185.9h1V185.9h1V185.8h1V185.8h1V185.8h1V185.8h1V185.8h1V185.8h1V185.8h1V185.8h1V185.8h1V185.8h1V185.8h1V185.8h1V185.8h1V185.9h1V185.8h1V185.9h1V185.9h1V185.8h1V185.9h1V185.8h1V185.8h1V185.8h1V185.9h1V185.8h1V185.8h1V185.8h1V185.9h1V185.8h1V185.8h1V185.9h1V185.8h1V185.8h1V185.9h1V185.8h1V185.8h1V185.9h1V185.8h1V185.8h1V185.8h1V185.8h1V185.9h1V185.8h1V185.8h1V185.8h1V185.9h1V185.8h1V185.9h1V185.8h1V185.8h1V185.9h1V185.9h1V185.8h1V185.8h1V185.8h1V185.8h1V185.8h1V185.8h1V185.8h1V185.8h1V185.9h1V185.8h1V185.8h1V185.8h1V185.8h1V185.8h1V185.9h1V185.9h1V185.8h1V185.8h1V185.9h1V185.9h1V183.3h1V185.4h1V185.5h1V185.4h1V185.4h1V185.5h1V185.6h1V185.6h1V185.8h1V185.6h1V176.5h1V176.9h1V178.5h1V180.4h1V181.1h1V182.7h1V181.6h1V183.5h1V183.8h1V184.2h1V185.7h1V185.4h1V185.5h1V185.0h1V185.1h1V185.1h1V184.7h1V185.0h1V184.8h1V185.1h1V185.1h1V184.9h1V184.6h1V184.8h1V184.7h1V185.0h1V184.8h1V184.8h1V184.9h1V184.6h1V184.9h1V185.2h1V185.0h1V185.0h1V184.6h1V184.8h1V185.1h1V184.8h1V184.9h1V184.7h1V184.6h1V184.8h1V184.9h1V184.9h1V185.1h1V184.8h1V184.6h1V185.0h1V185.3h1V185.7h1V185.9h1V185.8h1V185.9h1V185.9h1V185.8h1V185.9h1V185.9h1V185.9h1V185.8h1V185.9h1V185.8h1V185.9h1V185.8h1V185.9h1V185.9h1V185.8h1V185.9h1V185.9h1V185.8h1V185.8h1V185.9h1V185.9h1V185.8h1V185.8h1V185.8h1V185.8h1V185.8h1V185.8h1V185.8h1V185.8h1V185.8h1V185.8h1V185.9h1V185.8h1V185.9h1V185.9h1V185.8h1V185.8h1V185.8h1V185.9h1V185.8h1V185.8h1V185.9h1V185.8h1V185.8h1V185.9h1V185.9h1V185.8h1V185.8h1V185.9h1V185.8h1V185.8h1V185.9h1V185.8h1V185.9h1V185.8h1V185.8h1V185.8h1V185.9h1V185.9h1V185.9h1V185.9h1V185.8h1V185.9h1V185.8h1V185.9h1V185.8h1V185.9h1V185.8h1V185.8h1V185.9h1V185.8h1V185.8h1V185.9h1V185.8h1V185.9h1V185.9h1V185.9h1V185.9h1V185.8h1V185.8h1V185.8h1V185.9h1V185.9h1V185.9h1V185.9h1V185.8h1V185.8h1V185.9h1V185.9h1V185.8h1V185.9h1V185.9h1V185.9h1V185.8h1V185.9h1V185.9h1V185.8h1V185.8h1V185.9h1V185.9h1V185.8h1V185.9h1V185.8h1V185.8h1V185.9h1V185.9h1V185.9h1V185.9h1V185.9h1V185.8h1V185.8h1V185.9h1V185.8h1V185.8h1V185.8h1V185.9h1V185.9h1V185.8h1V185.9h1V185.8h1V185.8h1V185.8h1V185.8h1V185.8h1V185.9h1V185.8h1V180.9h1V173.5h1V175.2h1V180.1h1V185.2h1V185.0h1V185.1h1V185.0h1V185.2h1V184.8h1V184.9h1V185.0h1V185.0h1V185.0h1V184.8h1V185.1h1V185.2h1V185.0h1V184.7h1V185.0h1V185.2h1V184.7h1V184.7h1V184.9h1V185.2h1V185.2h1V184.8h1V184.8h1V185.0h1V185.1h1V184.8h1V185.0h1V184.8h1V185.0h1V185.0h1V185.1h1V185.1h1V185.1h1V184.8h1V184.8h1V185.0h1V184.9h1V184.7h1V185.2h1V185.0h1V184.8h1V183.7h1V181.9h1V180.8h1V181.3h1V179.4h1V181.1h1V181.0h1V181.0h1V181.2h1V181.0h1V182.0h1V183.1h1V183.2h1V183.2h1V183.0h1V182.8h1V182.2h1V181.2h1V181.4h1V181.0h1V180.9h1V180.8h1V181.6h1V182.0h1V182.8h1V183.4h1V184.0h1V184.6h1V184.5h1V184.4h1V184.5h1V184.8h1V185.0h1V184.9h1V185.0h1V185.0h1V185.0h1V184.9h1V184.7h1V184.1h1V184.2h1V183.5h1V182.7h1V183.0h1V182.6h1V183.1h1V182.6h1V183.4h1V183.2h1V184.1h1V185.2h1V185.0h1V184.7h1V184.6h1V185.1h1V184.9h1V184.6h1V184.5h1V184.8h1V184.4h1V184.3h1V184.3h1V184.3h1V184.0h1V184.5h1V184.0h1V183.6h1V184.1h1V183.4h1V183.6h1V183.3h1V183.6h1V184.2h1h0.9V186.8Z" fill="#ff0000" clip-path="url(#cp1)"/>
<rect x="302.35" y="92.20" width="1.10" height="43.20" fill="#555"/>
<line x1="136.0" y1="233.10" x2="591.0" y2="233.10" stroke="#666" stroke-width="1.0"/>
<path d="M136,236.0V236.0h1V236.0h1V236.0h1V236.0h1V236.0h1V230.8h1V231.0h1V227.7h1V227.5h1V227.2h1V229.3h1V229.3h1V229.1h1V227.2h1V223.8h1V225.8h1V225.5h1V229.0h1V227.7h1V230.7h1V230.6h1V231.0h1V230.7h1V231.0h1V230.3h1V230.4h1V231.2h1V230.8h1V230.5h1V230.5h1V236.0h1V231.1h1V230.6h1V236.0h1V236.0h1V236.0h1V236.0h1V236.0h1V236.0h1V236.0h1V236.0h1V236.0h1V236.0h1V236.0h1V236.0h1V236.0h1V236.0h1V236.0h1V236.0h1V236.0h1V236.0h1V236.0h1V236.0h1V236.0h1V236.0h1V236.0h1V236.0h1V236.0h1V236.0h1V236.0h1V236.0h1V236.0h1V236.0h1V236.0h1V236.0h1V236.0h1V236.0h1V236.0h1V236.0h1V236.0h1V236.0h1V236.0h1V236.0h1V236.0h1V236.0h1V236.0h1V236.0h1V236.0h1V236.0h1V236.0h1V222.1h1V222.6h1V225.2h1V223.9h1V223.6h1V222.0h1V225.6h1V226.3h1V224.2h1V225.6h1V229.0h1V229.0h1V228.5h1V228.3h1V231.0h1V230.9h1V230.5h1V236.0h1V236.0h1V225.9h1V226.4h1V226.5h1V225.4h1V227.1h1V226.6h1V227.6h1V226.8h1V226.6h1V226.8h1V221.6h1V226.1h1V225.7h1V222.6h1V222.2h1V224.8h1V222.8h1V220.9h1V226.3h1V236.0h1V236.0h1V236.0h1V236.0h1V236.0h1V236.0h1V236.0h1V236.0h1V236.0h1V236.0h1V236.0h1V236.0h1V236.0h1V236.0h1V236.0h1V236.0h1V236.0h1V236.0h1V236.0h1V236.0h1V236.0h1V236.0h1V236.0h1V236.0h1V236.0h1V236.0h1V236.0h1V236.0h1V236.0h1V236.0h1V236.0h1V236.0h1V236.0h1V236.0h1V236.0h1V236.0h1V236.0h1V225.4h1V227.0h1V228.7h1V225.6h1V224.6h1V222.9h1V227.0h1V228.4h1V229.0h1V227.2h1V228.1h1V228.9h1V228.5h1V227.8h1V227.6h1V230.0h1V230.5h1V230.6h1V230.3h1V230.6h1V226.1h1V224.7h1V224.6h1V223.9h1V224.0h1V224.1h1V224.8h1V228.2h1V226.4h1V228.6h1V226.4h1V226.5h1V226.2h1V228.0h1V226.4h1V226.8h1V230.7h1V230.3h1V230.8h1V224.0h1V224.7h1V222.6h1V221.9h1V220.1h1V222.1h1V226.0h1V225.4h1V225.2h1V227.5h1V230.4h1V230.5h1V230.8h1V230.5h1V230.3h1V231.3h1V231.0h1V230.7h1V230.9h1V230.6h1V231.3h1V231.3h1V236.0h1V236.0h1V236.0h1V236.0h1V236.0h1V236.0h1V236.0h1V236.0h1V236.0h1V236.0h1V236.0h1V236.0h1V236.0h1V236.0h1V236.0h1V236.0h1V236.0h1V236.0h1V236.0h1V236.0h1V236.0h1V236.0h1V236.0h1V236.0h1V236.0h1V236.0h1V236.0h1V236.0h1V236.0h1V236.0h1V236.0h1V236.0h1V236.0h1V236.0h1V236.0h1V236.0h1V236.0h1V236.0h1V236.0h1V236.0h1V236.0h1V236.0h1V236.0h1V236.0h1V236.0h1V236.0h1V236.0h1V236.0h1V236.0h1V236.0h1V236.0h1V236.0h1V236.0h1V236.0h1V236.0h1V236.0h1V236.0h1V236.0h1V236.0h1V236.0h1V236.0h1V236.0h1V236.0h1V236.0h1V236.0h1V236.0h1V236.0h1V236.0h1V236.0h1V236.0h1V236.0h1V236.0h1V236.0h1V236.0h1V236.0h1V236.0h1V236.0h1V236.0h1V236.0h1V236.0h1V236.0h1V236.0h1V236.0h1V236.0h1V226.6h1V226.4h1V227.3h1V225.4h1V227.5h1V226.1h1V229.1h1V236.0h1V236.0h1V236.0h1V236.0h1V236.0h1V236.0h1V236.0h1V236.0h1V236.0h1V236.0h1V236.0h1V236.0h1V236.0h1V236.0h1V236.0h1V236.0h1V236.0h1V236.0h1V236.0h1V236.0h1V236.0h1V236.0h1V236.0h1V236.0h1V236.0h1V236.0h1V236.0h1V236.0h1V236.0h1V236.0h1V236.0h1V236.0h1V236.0h1V236.0h1V236.0h1V236.0h1V236.0h1V236.0h1V236.0h1V236.0h1V236.0h1V236.0h1V236.0h1V236.0h1V236.0h1V236.0h1V236.0h1V236.0h1V236.0h1V236.0h1V236.0h1V236.0h1V236.0h1V236.0h1V236.0h1V236.0h1V236.0h1V236.0h1V236.0h1V236.0h1V236.0h1V236.0h1V236.0h1V236.0h1V236.0h1V236.0h1V236.0h1V236.0h1V236.0h1V236.0h1V236.0h1V236.0h1V236.0h1V236.0h1V236.0h1V236.0h1V236.0h1V236.0h1V236.0h1V236.0h1V236.0h1V236.0h1V236.0h1V236.0h1V236.0h1V236.0h1V236.0h1V236.0h1V236.0h1V236.0h1V236.0h1V236.0h1V236.0h1V236.0h1V236.0h1V236.0h1V236.0h1V236.0h1V236.0h1V236.0h1V236.0h1V236.0h1V236.0h1V236.0h1V236.0h1V236.0h1V236.0h1V236.0h1V236.0h1V236.0h1V236.0h1V236.0h1V236.0h1V236.0h1V236.0h1V236.0h1V236.0h1V236.0h1V236.0h1V236.0h1V236.0h1V236.0h1V236.0h1V236.0h1V236.0h1V236.0h1V236.0h1V236.0h1V236.0h1V236.0h1V236.0h1V236.0h1V236.0h1V236.0h1V236.0h1V236.0h1V236.0h1V236.0h1V236.0h1V236.0h1V236.0h1V236.0h1V236.0h1V236.0h1V236.0h1V236.0h1V236.0h1V236.0h1V236.0h-1V236.0h-1V236.0h-1V236.0h-1V236.0h-1V236.0h-1V236.0h-1V236.0h-1V236.0h-1V236.0h-1V236.0h-1V236.0h-1V236.0h-1V236.0h-1V236.0h-1V236.0h-1V236.0h-1V236.0h-1V236.0h-1V236.0h-1V236.0h-1V236.0h-1V236.0h-1V236.0h-1V236.0h-1V236.0h-1V236.0h-1V236.0h-1V236.0h-1V236.0h-1V236.0h-1V236.0h-1V236.0h-1V236.0h-1V236.0h-1V236.0h-1V236.0h-1V236.0h-1V236.0h-1V236.0h-1V236.0h-1V236.0h-1V236.0h-1V236.0h-1V236.0h-1V236.0h-1V236.0h-1V236.0h-1V236.0h-1V236.0h-1V236.0h-1V236.0h-1V236.0h-1V236.0h-1V236.0h-1V236.0h-1V236.0h-1V236.0h-1V236.0h-1V236.0h-1V236.0h-1V236.0h-1V236.0h-1V236.0h-1V236.0h-1V236.0h-1V236.0h-1V236.0h-1V236.0h-1V236.0h-1V236.0h-1V236.0h-1V236.0h-1V236.0h-1V236.0h-1V236.0h-1V236.0h-1V236.0h-1V236.0h-1V236.0h-1V236.0h-1V236.0h-1V236.0h-1V236.0h-1V236.0h-1V236.0h-1V236.0h-1V236.0h-1V236.0h-1V236.0h-1V236.0h-1V236.0h-1V236.0h-1V236.0h-1V236.0h-1V236.0h-1V236.0h-1V236.0h-1V236.0h-1V236.0h-1V236.0h-1V236.0h-1V236.0h-1V236.0h-1V236.0h-1V236.0h-1V236.0h-1V236.0h-1V236.0h-1V236.0h-1V236.0h-1V236.0h-1V236.0h-1V236.0h-1V236.0h-1V236.0h-1V236.0h-1V236.0h-1V236.0h-1V236.0h-1V236.0h-1V236.0h-1V236.0h-1V236.0h-1V236.0h-1V236.0h-1V236.0h-1V236.0h-1V236.0h-1V236.0h-1V236.0h-1V236.0h-1V236.0h-1V236.0h-1V236.0h-1V236.0h-1V236.0h-1V236.0h-1V236.0h-1V236.0h-1V236.0h-1V236.0h-1V236.0h-1V236.0h-1V236.0h-1V236.0h-1V236.0h-1V236.0h-1V233.1h-1V233.1h-1V233.1h-1V233.1h-1V233.1h-1V233.1h-1V233.1h-1V236.0h-1V236.0h-1V236.0h-1V236.0h-1V236.0h-1V236.0h-1V236.0h-1V236.0h-1V236.0h-1V236.0h-1V236.0h-1V236.0h-1V236.0h-1V236.0h-1V236.0h-1V236.0h-1V236.0h-1V236.0h-1V236.0h-1V236.0h-1V236.0h-1V236.0h-1V236.0h-1V236.0h-1V236.0h-1V236.0h-1V236.0h-1V236.0h-1V236.0h-1V236.0h-1V236.0h-1V236.0h-1V236.0h-1V236.0h-1V236.0h-1V236.0h-1V236.0h-1V236.0h-1V236.0h-1V236.0h-1V236.0h-1V236.0h-1V236.0h-1V236.0h-1V236.0h-1V236.0h-1V236.0h-1V236.0h-1V236.0h-1V236.0h-1V236.0h-1V236.0h-1V236.0h-1V236.0h-1V236.0h-1V236.0h-1V236.0h-1V236.0h-1V236.0h-1V236.0h-1V236.0h-1V236.0h-1V236.0h-1V236.0h-1V236.0h-1V236.0h-1V236.0h-1V236.0h-1V236.0h-1V236.0h-1V236.0h-1V236.0h-1V236.0h-1V236.0h-1V236.0h-1V236.0h-1V236.0h-1V236.0h-1V236.0h-1V236.0h-1V236.0h-1V236.0h-1V236.0h-1V236.0h-1V233.1h-1V233.1h-1V233.1h-1V233.1h-1V233.1h-1V233.1h-1V233.1h-1V233.1h-1V233.1h-1V233.1h-1V233.1h-1V233.1h-1V233.1h-1V233.1h-1V233.1h-1V233.1h-1V233.1h-1V233.1h-1V233.1h-1V233.1h-1V233.1h-1V233.1h-1V233.1h-1V233.1h-1V233.1h-1V233.1h-1V233.1h-1V233.1h-1V233.1h-1V233.1h-1V233.1h-1V233.1h-1V233.1h-1V233.1h-1V233.1h-1V233.1h-1V233.1h-1V233.1h-1V233.1h-1V233.1h-1V233.1h-1V233.1h-1V233.1h-1V233.1h-1V233.1h-1V233.1h-1V233.1h-1V233.1h-1V233.1h-1V233.1h-1V233.1h-1V233.1h-1V233.1h-1V233.1h-1V233.1h-1V233.1h-1V233.1h-1V233.1h-1V233.1h-1V233.1h-1V233.1h-1V236.0h-1V236.0h-1V236.0h-1V236.0h-1V236.0h-1V236.0h-1V236.0h-1V236.0h-1V236.0h-1V236.0h-1V236.0h-1V236.0h-1V236.0h-1V236.0h-1V236.0h-1V236.0h-1V236.0h-1V236.0h-1V236.0h-1V236.0h-1V236.0h-1V236.0h-1V236.0h-1V236.0h-1V236.0h-1V236.0h-1V236.0h-1V236.0h-1V236.0h-1V236.0h-1V236.0h-1V236.0h-1V236.0h-1V236.0h-1V236.0h-1V236.0h-1V236.0h-1V233.1h-1V233.1h-1V233.1h-1V233.1h-1V233.1h-1V233.1h-1V233.1h-1V233.1h-1V233.1h-1V233.1h-1V233.1h-1V233.1h-1V233.1h-1V233.1h-1V233.1h-1V233.1h-1V233.1h-1V233.1h-1V233.1h-1V236.0h-1V236.0h-1V233.1h-1V233.1h-1V233.1h-1V233.1h-1V233.1h-1V233.1h-1V233.1h-1V233.1h-1V233.1h-1V233.1h-1V233.1h-1V233.1h-1V233.1h-1V233.1h-1V233.1h-1V233.1h-1V233.1h-1V236.0h-1V236.0h-1V236.0h-1V236.0h-1V236.0h-1V236.0h-1V236.0h-1V236.0h-1V236.0h-1V236.0h-1V236.0h-1V236.0h-1V236.0h-1V236.0h-1V236.0h-1V236.0h-1V236.0h-1V236.0h-1V236.0h-1V236.0h-1V236.0h-1V236.0h-1V236.0h-1V236.0h-1V236.0h-1V236.0h-1V236.0h-1V236.0h-1V236.0h-1V236.0h-1V236.0h-1V236.0h-1V236.0h-1V236.0h-1V236.0h-1V236.0h-1V236.0h-1V236.0h-1V236.0h-1V236.0h-1V236.0h-1V236.0h-1V236.0h-1V236.0h-1V236.0h-1V236.0h-1V236.0h-1V233.1h-1V233.1h-1V236.0h-1V233.1h-1V233.1h-1V233.1h-1V233.1h-1V233.1h-1V233.1h-1V233.1h-1V233.1h-1V233.1h-1V233.1h-1V233.1h-1V233.1h-1V233.1h-1V233.1h-1V233.1h-1V233.1h-1V233.1h-1V233.1h-1V233.1h-1V233.1h-1V233.1h-1V233.1h-1V233.1h-1V233.1h-1V233.1h-1V236.0h-1V236.0h-1V236.0h-1V236.0h-1V236.0h-1Z" fill="#000" clip-path="url(#cp2)"/>
<path d="M136,236.0V236.0h1V236.0h1V236.0h1V236.0h1V236.0h1V236.0h1V236.0h1V236.0h1V236.0h1V236.0h1V236.0h1V236.0h1V236.0h1V236.0h1V236.0h1V236.0h1V236.0h1V236.0h1V236.0h1V236.0h1V236.0h1V213.4h1V236.0h1V236.0h1V236.0h1V236.0h1V236.0h1V236.0h1V236.0h1V236.0h1V213.8h1V236.0h1V236.0h1V210.5h1V236.0h1V236.0h1V236.0h1V236.0h1V236.0h1V229.2h1V236.0h1V236.0h1V236.0h1V236.0h1V236.0h1V236.0h1V236.0h1V236.0h1V236.0h1V236.0h1V236.0h1V236.0h1V236.0h1V236.0h1V236.0h1V236.0h1V236.0h1V236.0h1V236.0h1V236.0h1V236.0h1V236.0h1V236.0h1V236.0h1V236.0h1V236.0h1V236.0h1V230.0h1V236.0h1V236.0h1V236.0h1V236.0h1V236.0h1V236.0h1V236.0h1V236.0h1V236.0h1V236.0h1V236.0h1V236.0h1V236.0h1V236.0h1V236.0h1V236.0h1V236.0h1V236.0h1V236.0h1V236.0h1V236.0h1V236.0h1V236.0h1V236.0h1V236.0h1V236.0h1V236.0h1V236.0h1V236.0h1V236.0h1V236.0h1V236.0h1V236.0h1V236.0h1V236.0h1V236.0h1V236.0h1V236.0h1V236.0h1V236.0h1V236.0h1V236.0h1V236.0h1V236.0h1V236.0h1V213.0h1V236.0h1V236.0h1V236.0h1V236.0h1V236.0h1V236.0h1V236.0h1V236.0h1V236.0h1V236.0h1V236.0h1V236.0h1V236.0h1V236.0h1V236.0h1V236.0h1V236.0h1V236.0h1V236.0h1V236.0h1V236.0h1V236.0h1V236.0h1V236.0h1V236.0h1V236.0h1V236.0h1V236.0h1V236.0h1V236.0h1V236.0h1V236.0h1V236.0h1V236.0h1V236.0h1V190.0h1V236.0h1V236.0h1V236.0h1V236.0h1V236.0h1V236.0h1V236.0h1V236.0h1V236.0h1V236.0h1V236.0h1V236.0h1V236.0h1V236.0h1V236.0h1V236.0h1V236.0h1V204.2h1V236.0h1V236.0h1V236.0h1V236.0h1V236.0h1V236.0h1V236.0h1V236.0h1V236.0h1V236.0h1V236.0h1V220.5h1V236.0h1V236.0h1V236.0h1V236.0h1V236.0h1V236.0h1V236.0h1V236.0h1V236.0h1V236.0h1V236.0h1V236.0h1V236.0h1V236.0h1V236.0h1V236.0h1V236.0h1V236.0h1V236.0h1V236.0h1V236.0h1V236.0h1V236.0h1V236.0h1V236.0h1V236.0h1V236.0h1V236.0h1V236.0h1V236.0h1V236.0h1V236.0h1V236.0h1V236.0h1V236.0h1V236.0h1V236.0h1V236.0h1V236.0h1V236.0h1V236.0h1V236.0h1V236.0h1V236.0h1V236.0h1V236.0h1V236.0h1V236.0h1V236.0h1V236.0h1V236.0h1V236.0h1V236.0h1V236.0h1V236.0h1V236.0h1V236.0h1V236.0h1V236.0h1V236.0h1V236.0h1V236.0h1V236.0h1V236.0h1V236.0h1V236.0h1V236.0h1V236.0h1V236.0h1V236.0h1V236.0h1V236.0h1V236.0h1V236.0h1V236.0h1V236.0h1V236.0h1V236.0h1V236.0h1V236.0h1V236.0h1V236.0h1V236.0h1V236.0h1V236.0h1V236.0h1V236.0h1V236.0h1V236.0h1V236.0h1V236.0h1V236.0h1V236.0h1V236.0h1V236.0h1V236.0h1V236.0h1V236.0h1V236.0h1V236.0h1V236.0h1V236.0h1V236.0h1V236.0h1V236.0h1V236.0h1V236.0h1V236.0h1V236.0h1V236.0h1V236.0h1V236.0h1V236.0h1V236.0h1V236.0h1V236.0h1V236.0h1V236.0h1V236.0h1V236.0h1V236.0h1V220.5h1V236.0h1V236.0h1V236.0h1V236.0h1V236.0h1V236.0h1V236.0h1V236.0h1V236.0h1V236.0h1V236.0h1V236.0h1V236.0h1V236.0h1V236.0h1V236.0h1V236.0h1V236.0h1V236.0h1V236.0h1V236.0h1V236.0h1V236.0h1V236.0h1V236.0h1V236.0h1V236.0h1V236.0h1V236.0h1V236.0h1V236.0h1V236.0h1V236.0h1V236.0h1V236.0h1V194.0h1V228.2h1V227.5h1V228.1h1V224.8h1V225.3h1V223.6h1V225.3h1V222.0h1V222.3h1V222.2h1V222.2h1V223.6h1V219.8h1V221.0h1V217.2h1V223.3h1V224.5h1V225.2h1V225.1h1V226.8h1V224.7h1V225.2h1V223.4h1V222.5h1V223.1h1V220.7h1V218.7h1V217.7h1V218.2h1V214.3h1V215.7h1V213.3h1V215.8h1V221.5h1V222.3h1V222.9h1V223.3h1V225.0h1V225.4h1V225.2h1V224.7h1V225.4h1V225.5h1V227.0h1V227.0h1V226.0h1V226.4h1V226.8h1V225.9h1V226.7h1V227.0h1V226.2h1V226.1h1V226.9h1V227.6h1V227.4h1V226.6h1V227.8h1V227.5h1V227.6h1V227.9h1V226.4h1V227.1h1V226.0h1V225.8h1V225.7h1V226.1h1V227.4h1V225.7h1V226.8h1V226.5h1V225.1h1V223.4h1V219.7h1V222.4h1V218.9h1V217.6h1V219.7h1V216.0h1V218.7h1V216.2h1V216.1h1V216.8h1V214.6h1V213.9h1V213.2h1V217.9h1V216.8h1V201.0h1V219.6h1V216.8h1V222.9h1V221.2h1V223.9h1V225.2h1V225.0h1V224.5h1V225.9h1V227.2h1V228.1h1V228.1h1V226.8h1V227.4h1V226.3h1V226.1h1V223.5h1V220.8h1V216.8h1V207.5h1V212.5h1V213.2h1V218.9h1V221.5h1V223.8h1V223.8h1V225.0h1V224.8h1V232.5h-1V232.5h-1V232.5h-1V232.5h-1V232.5h-1V232.5h-1V232.5h-1V232.5h-1V232.5h-1V232.5h-1V232.5h-1V232.5h-1V232.5h-1V232.5h-1V232.5h-1V232.5h-1V232.5h-1V232.5h-1V232.5h-1V232.5h-1V232.5h-1V232.5h-1V232.5h-1V232.5h-1V232.5h-1V232.5h-1V232.5h-1V232.5h-1V232.5h-1V232.5h-1V232.5h-1V232.5h-1V232.5h-1V232.5h-1V232.5h-1V232.5h-1V232.5h-1V232.5h-1V232.5h-1V232.5h-1V232.5h-1V232.5h-1V232.5h-1V232.5h-1V232.5h-1V232.5h-1V232.5h-1V232.5h-1V232.5h-1V232.5h-1V232.5h-1V232.5h-1V232.5h-1V232.5h-1V232.5h-1V232.5h-1V232.5h-1V232.5h-1V232.5h-1V232.5h-1V232.5h-1V232.5h-1V232.5h-1V232.5h-1V232.5h-1V232.5h-1V232.5h-1V232.5h-1V232.5h-1V232.5h-1V232.5h-1V232.5h-1V232.5h-1V232.5h-1V232.5h-1V232.5h-1V232.5h-1V232.5h-1V232.5h-1V232.5h-1V232.5h-1V232.5h-1V232.5h-1V232.5h-1V232.5h-1V232.5h-1V232.5h-1V232.5h-1V232.5h-1V232.5h-1V232.5h-1V232.5h-1V232.5h-1V232.5h-1V232.5h-1V232.5h-1V232.5h-1V232.5h-1V232.5h-1V232.5h-1V232.5h-1V232.5h-1V232.5h-1V232.5h-1V232.5h-1V232.5h-1V232.5h-1V232.5h-1V232.5h-1V232.5h-1V232.5h-1V232.5h-1V232.5h-1V232.5h-1V232.5h-1V232.5h-1V232.5h-1V232.5h-1V236.0h-1V236.0h-1V236.0h-1V236.0h-1V236.0h-1V236.0h-1V236.0h-1V236.0h-1V236.0h-1V236.0h-1V236.0h-1V236.0h-1V236.0h-1V236.0h-1V236.0h-1V236.0h-1V236.0h-1V236.0h-1V236.0h-1V236.0h-1V236.0h-1V236.0h-1V236.0h-1V236.0h-1V236.0h-1V236.0h-1V236.0h-1V236.0h-1V236.0h-1V236.0h-1V236.0h-1V236.0h-1V236.0h-1V236.0h-1V236.0h-1V232.5h-1V236.0h-1V236.0h-1V236.0h-1V236.0h-1V236.0h-1V236.0h-1V236.0h-1V236.0h-1V236.0h-1V236.0h-1V236.0h-1V236.0h-1V236.0h-1V236.0h-1V236.0h-1V236.0h-1V236.0h-1V236.0h-1V236.0h-1V236.0h-1V236.0h-1V236.0h-1V236.0h-1V236.0h-1V236.0h-1V236.0h-1V236.0h-1V236.0h-1V236.0h-1V236.0h-1V236.0h-1V236.0h-1V236.0h-1V236.0h-1V236.0h-1V236.0h-1V236.0h-1V236.0h-1V236.0h-1V236.0h-1V236.0h-1V236.0h-1V236.0h-1V236.0h-1V236.0h-1V236.0h-1V236.0h-1V236.0h-1V236.0h-1V236.0h-1V236.0h-1V236.0h-1V236.0h-1V236.0h-1V236.0h-1V236.0h-1V236.0h-1V236.0h-1V236.0h-1V236.0h-1V236.0h-1V236.0h-1V236.0h-1V236.0h-1V236.0h-1V236.0h-1V236.0h-1V236.0h-1V236.0h-1V236.0h-1V236.0h-1V236.0h-1V236.0h-1V236.0h-1V236.0h-1V236.0h-1V236.0h-1V236.0h-1V236.0h-1V236.0h-1V236.0h-1V236.0h-1V236.0h-1V236.0h-1V236.0h-1V236.0h-1V236.0h-1V236.0h-1V236.0h-1V236.0h-1V236.0h-1V236.0h-1V236.0h-1V236.0h-1V236.0h-1V236.0h-1V236.0h-1V236.0h-1V236.0h-1V236.0h-1V236.0h-1V236.0h-1V236.0h-1V236.0h-1V236.0h-1V236.0h-1V236.0h-1V236.0h-1V236.0h-1V236.0h-1V236.0h-1V236.0h-1V236.0h-1V236.0h-1V236.0h-1V236.0h-1V236.0h-1V236.0h-1V236.0h-1V236.0h-1V236.0h-1V232.5h-1V236.0h-1V236.0h-1V236.0h-1V236.0h-1V236.0h-1V236.0h-1V236.0h-1V236.0h-1V236.0h-1V236.0h-1V236.0h-1V232.5h-1V236.0h-1V236.0h-1V236.0h-1V236.0h-1V236.0h-1V236.0h-1V236.0h-1V236.0h-1V236.0h-1V236.0h-1V236.0h-1V236.0h-1V236.0h-1V236.0h-1V236.0h-1V236.0h-1V236.0h-1V232.5h-1V236.0h-1V236.0h-1V236.0h-1V236.0h-1V236.0h-1V236.0h-1V236.0h-1V236.0h-1V236.0h-1V236.0h-1V236.0h-1V236.0h-1V236.0h-1V236.0h-1V236.0h-1V236.0h-1V236.0h-1V236.0h-1V236.0h-1V236.0h-1V236.0h-1V236.0h-1V236.0h-1V236.0h-1V236.0h-1V236.0h-1V236.0h-1V236.0h-1V236.0h-1V236.0h-1V236.0h-1V236.0h-1V236.0h-1V236.0h-1V236.0h-1V232.5h-1V236.0h-1V236.0h-1V236.0h-1V236.0h-1V236.0h-1V236.0h-1V236.0h-1V236.0h-1V236.0h-1V236.0h-1V236.0h-1V236.0h-1V236.0h-1V236.0h-1V236.0h-1V236.0h-1V236.0h-1V236.0h-1V236.0h-1V236.0h-1V236.0h-1V236.0h-1V236.0h-1V236.0h-1V236.0h-1V236.0h-1V236.0h-1V236.0h-1V236.0h-1V236.0h-1V236.0h-1V236.0h-1V236.0h-1V236.0h-1V236.0h-1V236.0h-1V236.0h-1V236.0h-1V236.0h-1V236.0h-1V236.0h-1V236.0h-1V236.0h-1V236.0h-1V236.0h-1V232.5h-1V236.0h-1V236.0h-1V236.0h-1V236.0h-1V236.0h-1V236.0h-1V236.0h-1V236.0h-1V236.0h-1V236.0h-1V236.0h-1V236.0h-1V236.0h-1V236.0h-1V236.0h-1V236.0h-1V236.0h-1V236.0h-1V236.0h-1V236.0h-1V236.0h-1V236.0h-1V236.0h-1V236.0h-1V236.0h-1V236.0h-1V236.0h-1V232.5h-1V236.0h-1V236.0h-1V236.0h-1V236.0h-1V236.0h-1V232.5h-1V236.0h-1V236.0h-1V232.5h-1V236.0h-1V236.0h-1V236.0h-1V236.0h-1V236.0h-1V236.0h-1V236.0h-1V236.0h-1V232.5h-1V236.0h-1V236.0h-1V236.0h-1V236.0h-1V236.0h-1V236.0h-1V236.0h-1V236.0h-1V236.0h-1V236.0h-1V236.0h-1V236.0h-1V236.0h-1V236.0h-1V236.0h-1V236.0h-1V236.0h-1V236.0h-1V236.0h-1V236.0h-1V236.0h-1Z" fill="#000" clip-path="url(#cp2)"/>
<rect x="355.50" y="230.50" width="1.00" height="2.60" fill="#000"/>
<rect x="357.50" y="230.50" width="1.00" height="2.60" fill="#000"/>
<rect x="359.50" y="230.50" width="1.00" height="2.60" fill="#000"/>
<rect x="363.50" y="230.50" width="1.00" height="2.60" fill="#000"/>
<rect x="369.50" y="230.50" width="1.00" height="2.60" fill="#000"/>
<rect x="402.50" y="230.50" width="1.00" height="2.60" fill="#000"/>
<rect x="417.50" y="230.50" width="1.00" height="2.60" fill="#000"/>
<rect x="422.50" y="230.50" width="1.00" height="2.60" fill="#000"/>
<rect x="426.50" y="230.50" width="1.00" height="2.60" fill="#000"/>
<rect x="432.50" y="230.50" width="1.00" height="2.60" fill="#000"/>
<rect x="445.50" y="230.50" width="1.00" height="2.60" fill="#000"/>
<rect x="451.50" y="230.50" width="1.00" height="2.60" fill="#000"/>
<rect x="454.50" y="230.50" width="1.00" height="2.60" fill="#000"/>
<rect x="457.50" y="230.50" width="1.00" height="2.60" fill="#000"/>
<rect x="461.50" y="230.50" width="1.00" height="2.60" fill="#000"/>
<rect x="465.50" y="230.50" width="1.00" height="2.60" fill="#000"/>
<rect x="469.50" y="230.50" width="1.00" height="2.60" fill="#000"/>
<path d="M135.1,236.6V235.1h0.9V235.1h1V235.1h1V235.1h1V235.1h1V235.1h1V235.1h1V235.1h1V235.1h1V235.1h1V235.1h1V235.1h1V235.1h1V235.1h1V235.1h1V235.1h1V235.1h1V235.1h1V235.1h1V235.1h1V235.1h1V235.1h1V235.1h1V235.1h1V235.1h1V235.1h1V235.1h1V235.1h1V235.1h1V235.1h1V235.1h1V235.1h1V235.1h1V235.1h1V235.1h1V235.1h1V235.1h1V235.1h1V235.1h1V235.1h1V235.1h1V235.1h1V235.1h1V235.1h1V235.1h1V235.1h1V235.1h1V235.1h1V235.1h1V235.1h1V235.1h1V235.1h1V235.1h1V235.1h1V235.1h1V235.1h1V235.1h1V235.1h1V235.1h1V235.1h1V235.1h1V235.1h1V235.1h1V235.1h1V235.1h1V235.1h1V235.1h1V235.1h1V235.1h1V235.1h1V235.1h1V235.1h1V235.1h1V235.1h1V235.1h1V235.1h1V235.1h1V235.1h1V235.1h1V235.1h1V235.1h1V235.1h1V235.1h1V235.1h1V235.1h1V235.1h1V235.1h1V235.1h1V235.1h1V235.1h1V235.1h1V235.1h1V235.1h1V235.1h1V235.1h1V235.1h1V235.1h1V235.1h1V235.1h1V235.1h1V235.1h1V235.1h1V235.1h1V235.1h1V235.1h1V235.1h1V235.1h1V235.1h1V235.1h1V235.1h1V235.1h1V235.1h1V235.1h1V235.1h1V235.1h1V235.1h1V235.1h1V235.1h1V235.1h1V235.1h1V235.1h1V235.1h1V235.1h1V235.1h1V235.1h1V235.1h1V235.1h1V235.1h1V235.1h1V235.1h1V235.1h1V235.1h1V235.1h1V235.1h1V235.1h1V235.1h1V235.1h1V235.1h1V235.1h1V235.1h1V235.1h1V235.1h1V235.1h1V235.1h1V235.1h1V235.1h1V235.1h1V235.1h1V235.1h1V235.1h1V235.1h1V235.1h1V235.1h1V235.1h1V235.1h1V235.1h1V235.1h1V235.1h1V235.1h1V235.1h1V235.1h1V235.1h1V235.1h1V235.1h1V235.1h1V235.1h1V235.1h1V235.1h1V235.1h1V235.1h1V235.1h1V235.1h1V235.1h1V235.1h1V235.1h1V235.1h1V235.1h1V235.1h1V235.1h1V235.1h1V235.1h1V235.1h1V235.1h1V235.1h1V235.1h1V235.1h1V235.1h1V235.1h1V235.1h1V235.1h1V235.1h1V235.1h1V235.1h1V235.1h1V235.1h1V235.1h1V235.1h1V235.1h1V235.1h1V235.1h1V235.1h1V235.1h1V235.1h1V235.1h1V235.1h1V235.1h1V235.1h1V235.1h1V235.1h1V235.1h1V235.1h1V235.1h1V235.1h1V235.1h1V235.1h1V235.1h1V235.1h1V235.1h1V235.1h1V235.1h1V235.1h1V235.1h1V235.1h1V235.1h1V235.1h1V235.1h1V235.1h1V235.1h1V235.1h1V235.1h1V235.1h1V235.1h1V235.1h1V235.1h1V235.1h1V235.1h1V235.1h1V235.1h1V235.1h1V235.1h1V235.1h1V235.1h1V235.1h1V235.1h1V235.1h1V235.1h1V235.1h1V235.1h1V235.1h1V235.1h1V235.1h1V235.1h1V235.1h1V235.1h1V235.1h1V235.1h1V235.1h1V235.1h1V235.1h1V235.1h1V235.1h1V235.1h1V235.1h1V235.1h1V235.1h1V235.1h1V235.1h1V235.1h1V235.1h1V235.1h1V235.1h1V235.1h1V235.1h1V235.1h1V235.1h1V235.1h1V235.1h1V235.1h1V235.1h1V235.1h1V235.1h1V235.1h1V235.1h1V235.1h1V235.1h1V235.1h1V235.1h1V235.1h1V235.1h1V235.1h1V235.1h1V235.1h1V235.1h1V235.1h1V235.1h1V235.1h1V235.1h1V235.1h1V235.1h1V235.1h1V235.1h1V235.1h1V235.1h1V235.1h1V235.1h1V235.1h1V235.1h1V235.1h1V235.1h1V235.1h1V235.1h1V235.1h1V235.1h1V235.1h1V235.1h1V235.1h1V235.1h1V235.1h1V235.1h1V235.1h1V235.1h1V235.1h1V235.1h1V235.1h1V235.1h1V235.1h1V235.1h1V235.1h1V235.1h1V235.1h1V235.1h1V235.1h1V235.1h1V235.1h1V235.1h1V235.1h1V235.1h1V235.1h1V235.1h1V235.1h1V235.1h1V235.1h1V235.1h1V235.1h1V235.1h1V235.1h1V235.1h1V235.1h1V235.1h1V235.1h1V235.1h1V235.1h1V235.1h1V235.1h1V235.1h1V235.1h1V235.1h1V235.1h1V235.1h1V235.1h1V235.1h1V235.1h1V235.1h1V235.1h1V235.1h1V235.1h1V235.1h1V235.1h1V235.1h1V235.1h1V235.1h1V235.1h1V235.1h1V235.1h1V235.1h1V235.1h1V235.1h1V235.1h1V235.1h1V235.1h1V235.1h1V235.1h1V235.1h1V235.1h1V235.1h1V235.1h1V235.1h1V235.1h1V235.1h1V235.1h1V235.1h1V235.1h1V235.1h1V235.1h1V235.1h1V235.1h1V235.1h1V235.1h1V235.1h1V235.1h1V235.1h1V235.1h1V235.1h1V235.1h1V235.1h1V235.1h1V235.1h1V235.1h1V235.1h1V235.1h1V235.1h1V235.1h1V235.1h1V235.1h1V235.1h1V235.1h1V235.1h1V235.1h1V235.1h1V235.1h1V235.1h1V235.1h1V235.1h1V235.1h1V235.1h1V235.1h1V235.1h1V235.1h1V235.1h1V235.1h1V235.1h1V235.1h1V235.1h1V235.1h1V235.1h1V235.1h1V235.1h1V235.1h1V235.1h1V235.1h1V235.1h1V235.1h1V235.1h1V235.1h1V235.1h1V235.1h1V235.1h1V235.1h1V235.1h1V235.1h1V235.1h1V235.1h1V235.1h1V235.1h1V235.1h1V235.1h1h0.9V236.6Z" fill="#ff5050" clip-path="url(#cp2)"/>
<rect x="157.00" y="229.20" width="2.00" height="7.70" fill="#ff0000"/>
<rect x="165.00" y="226.50" width="2.00" height="10.40" fill="#ff0000"/>
<rect x="168.50" y="223.30" width="1.50" height="13.60" fill="#ff0000"/>
<rect x="216.00" y="233.00" width="2.00" height="3.90" fill="#ff0000"/>
<rect x="219.50" y="233.50" width="1.00" height="3.40" fill="#ff0000"/>
<rect x="223.50" y="233.50" width="1.00" height="3.40" fill="#ff0000"/>
<rect x="235.00" y="233.00" width="1.50" height="3.90" fill="#ff0000"/>
<rect x="240.50" y="233.50" width="1.00" height="3.40" fill="#ff0000"/>
<rect x="247.50" y="233.00" width="4.50" height="3.90" fill="#ff0000"/>
<rect x="284.80" y="226.40" width="1.20" height="10.50" fill="#ff0000"/>
<rect x="295.00" y="234.00" width="1.00" height="2.90" fill="#ff0000"/>
<rect x="297.00" y="234.00" width="1.00" height="2.90" fill="#ff0000"/>
<rect x="299.00" y="234.00" width="1.00" height="2.90" fill="#ff0000"/>
<rect x="312.00" y="234.00" width="1.00" height="2.90" fill="#ff0000"/>
<rect x="315.00" y="234.00" width="1.00" height="2.90" fill="#ff0000"/>
<rect x="317.00" y="234.00" width="1.00" height="2.90" fill="#ff0000"/>
<rect x="330.00" y="233.00" width="8.00" height="3.90" fill="#ff0000"/>
<rect x="436.00" y="229.20" width="5.00" height="7.70" fill="#ff0000"/>
<rect x="474.50" y="233.00" width="5.50" height="3.90" fill="#ff0000"/>
<rect x="481.00" y="233.50" width="9.00" height="3.40" fill="#ff0000"/>
<rect x="503.00" y="231.50" width="9.00" height="5.40" fill="#ff0000"/>
<rect x="513.00" y="234.00" width="4.00" height="2.90" fill="#ff0000"/>
<rect x="520.00" y="234.00" width="2.00" height="2.90" fill="#ff0000"/>
<rect x="530.00" y="234.00" width="4.00" height="2.90" fill="#ff0000"/>
<rect x="545.00" y="233.00" width="22.00" height="3.90" fill="#ff0000"/>
<rect x="570.00" y="234.00" width="5.00" height="2.90" fill="#ff0000"/>
<rect x="582.00" y="231.50" width="4.00" height="5.40" fill="#ff0000"/>
<line x1="136.0" y1="280.90" x2="591.0" y2="280.90" stroke="#555" stroke-width="1.0"/>
<rect x="196.80" y="250.80" width="1.70" height="30.10" fill="#000"/>
<rect x="198.50" y="241.80" width="1.50" height="39.10" fill="#000"/>
<rect x="200.00" y="264.80" width="1.30" height="16.10" fill="#000"/>
<rect x="272.00" y="275.80" width="5.00" height="5.10" fill="#000"/>
<rect x="328.60" y="275.80" width="13.00" height="5.10" fill="#000"/>
<rect x="335.50" y="271.00" width="1.30" height="9.90" fill="#000"/>
<rect x="392.60" y="276.20" width="10.20" height="4.70" fill="#000"/>
<rect x="397.50" y="271.00" width="1.00" height="9.90" fill="#000"/>
<rect x="402.30" y="271.00" width="1.20" height="9.90" fill="#000"/>
<rect x="405.00" y="276.20" width="6.00" height="4.70" fill="#000"/>
<rect x="408.00" y="271.00" width="1.00" height="9.90" fill="#000"/>
<rect x="412.00" y="265.80" width="1.50" height="15.10" fill="#000"/>
<rect x="413.50" y="250.80" width="2.50" height="30.10" fill="#000"/>
<rect x="416.00" y="265.80" width="2.00" height="15.10" fill="#000"/>
<rect x="418.00" y="276.20" width="3.00" height="4.70" fill="#000"/>
<rect x="421.00" y="265.80" width="1.50" height="15.10" fill="#000"/>
<rect x="422.50" y="250.80" width="2.50" height="30.10" fill="#000"/>
<rect x="425.00" y="260.80" width="2.00" height="20.10" fill="#000"/>
<rect x="427.00" y="255.80" width="1.00" height="25.10" fill="#000"/>
<rect x="428.00" y="245.80" width="2.00" height="35.10" fill="#000"/>
<rect x="430.00" y="257.80" width="2.00" height="23.10" fill="#000"/>
<rect x="432.00" y="271.80" width="4.00" height="9.10" fill="#000"/>
<rect x="435.80" y="241.60" width="7.20" height="39.30" fill="#000"/>
<rect x="443.00" y="276.20" width="4.00" height="4.70" fill="#000"/>
<rect x="488.30" y="276.20" width="3.40" height="4.70" fill="#000"/>
<rect x="503.20" y="276.20" width="2.30" height="4.70" fill="#000"/>
<rect x="505.00" y="271.00" width="5.00" height="9.90" fill="#000"/>
<rect x="510.00" y="276.20" width="8.50" height="4.70" fill="#000"/>
<rect x="155.40" y="276.00" width="1.00" height="4.90" fill="#000"/>
<rect x="206.30" y="276.00" width="1.00" height="4.90" fill="#000"/>
<rect x="216.10" y="276.00" width="1.00" height="4.90" fill="#000"/>
<rect x="217.70" y="276.00" width="1.00" height="4.90" fill="#000"/>
<rect x="219.30" y="276.00" width="1.00" height="4.90" fill="#000"/>
<rect x="220.90" y="276.00" width="1.00" height="4.90" fill="#000"/>
<rect x="222.60" y="276.00" width="1.00" height="4.90" fill="#000"/>
<rect x="226.70" y="276.00" width="1.00" height="4.90" fill="#000"/>
<rect x="230.00" y="276.00" width="1.00" height="4.90" fill="#000"/>
<rect x="304.00" y="276.00" width="1.00" height="4.90" fill="#000"/>
<rect x="468.00" y="276.00" width="1.00" height="4.90" fill="#000"/>
<rect x="475.10" y="276.00" width="1.00" height="4.90" fill="#000"/>
<rect x="488.50" y="276.00" width="1.00" height="4.90" fill="#000"/>
<rect x="493.50" y="276.00" width="1.00" height="4.90" fill="#000"/>
<rect x="521.00" y="276.00" width="1.00" height="4.90" fill="#000"/>
<rect x="528.00" y="276.00" width="1.00" height="4.90" fill="#000"/>
<rect x="536.50" y="276.00" width="1.00" height="4.90" fill="#000"/>
<rect x="546.00" y="276.00" width="1.00" height="4.90" fill="#000"/>
<rect x="562.50" y="276.00" width="1.00" height="4.90" fill="#000"/>
<rect x="576.50" y="276.00" width="1.00" height="4.90" fill="#000"/>
<rect x="199.00" y="241.60" width="1.00" height="39.30" fill="#000"/>
<rect x="285.10" y="250.80" width="1.00" height="30.10" fill="#000"/>
<line x1="136.0" y1="285.30" x2="591.0" y2="285.30" stroke="#ff3030" stroke-width="1.0"/>
<rect x="197.00" y="270.30" width="4.00" height="16.40" fill="#ff0000"/>
<rect x="285.00" y="275.80" width="1.20" height="10.90" fill="#ff0000"/>
<rect x="393.00" y="280.90" width="3.00" height="5.80" fill="#ff0000"/>
<rect x="397.00" y="280.90" width="3.00" height="5.80" fill="#ff0000"/>
<rect x="402.00" y="280.90" width="1.20" height="5.80" fill="#ff0000"/>
<rect x="406.00" y="280.90" width="5.00" height="5.80" fill="#ff0000"/>
<rect x="412.50" y="271.00" width="1.50" height="15.70" fill="#ff0000"/>
<rect x="414.00" y="275.80" width="4.00" height="10.90" fill="#ff0000"/>
<rect x="421.50" y="271.00" width="1.50" height="15.70" fill="#ff0000"/>
<rect x="423.00" y="275.80" width="9.00" height="10.90" fill="#ff0000"/>
<rect x="435.50" y="266.30" width="1.30" height="20.40" fill="#ff0000"/>
<rect x="436.80" y="250.80" width="1.40" height="35.90" fill="#ff0000"/>
<rect x="438.20" y="262.20" width="1.80" height="24.50" fill="#ff0000"/>
<rect x="440.00" y="266.30" width="3.00" height="20.40" fill="#ff0000"/>
<path d="M135.1,336.2V335.6h0.9V335.6h1V332.7h1V335.6h1V332.7h1V332.6h1V332.6h1V332.6h1V332.6h1V332.7h1V332.6h1V332.5h1V335.6h1V332.7h1V332.7h1V332.5h1V332.6h1V332.7h1V335.6h1V332.7h1V329.6h1V332.7h1V332.7h1V332.5h1V332.7h1V332.5h1V332.7h1V332.6h1V332.6h1V332.6h1V332.7h1V332.5h1V332.5h1V329.6h1V332.7h1V332.5h1V335.6h1V335.6h1V332.7h1V335.6h1V332.7h1V332.5h1V332.5h1V332.6h1V335.6h1V332.6h1V332.5h1V332.6h1V332.6h1V332.5h1V335.6h1V332.6h1V332.6h1V332.5h1V332.7h1V332.6h1V332.6h1V332.7h1V332.7h1V332.5h1V332.7h1V332.6h1V332.6h1V332.6h1V332.5h1V332.5h1V332.6h1V332.7h1V332.7h1V335.6h1V332.5h1V332.5h1V332.7h1V335.6h1V332.6h1V335.6h1V335.6h1V335.6h1V331.3h1V330.3h1V330.6h1V330.1h1V330.7h1V330.0h1V330.2h1V329.8h1V330.7h1V330.9h1V331.5h1V332.2h1V330.5h1V327.6h1V326.7h1V327.4h1V328.5h1V328.3h1V326.8h1V327.7h1V326.8h1V325.9h1V327.9h1V328.4h1V327.8h1V327.3h1V326.4h1V327.7h1V328.5h1V327.1h1V328.2h1V329.8h1V330.8h1V332.2h1V335.6h1V332.6h1V332.5h1V332.6h1V332.6h1V332.6h1V332.6h1V332.7h1V335.6h1V332.7h1V332.6h1V332.6h1V332.6h1V332.7h1V332.6h1V332.7h1V332.5h1V332.6h1V332.7h1V332.6h1V332.6h1V332.7h1V332.5h1V335.6h1V332.6h1V335.6h1V335.6h1V332.6h1V332.7h1V335.6h1V332.7h1V332.7h1V332.6h1V332.6h1V332.7h1V332.6h1V332.5h1V335.6h1V332.6h1V332.6h1V332.6h1V330.6h1V332.0h1V331.1h1V330.2h1V330.2h1V330.7h1V331.5h1V332.7h1V332.6h1V332.6h1V332.5h1V332.5h1V335.6h1V332.6h1V332.5h1V332.6h1V332.5h1V332.7h1V332.7h1V332.6h1V335.6h1V332.6h1V332.5h1V332.7h1V332.7h1V332.7h1V332.6h1V335.6h1V332.7h1V332.6h1V332.7h1V332.6h1V332.7h1V335.6h1V332.5h1V332.6h1V332.6h1V332.5h1V332.6h1V332.6h1V335.6h1V332.5h1V332.6h1V332.6h1V332.7h1V332.5h1V332.5h1V332.7h1V332.5h1V332.6h1V332.7h1V332.6h1V332.7h1V332.7h1V332.5h1V332.6h1V332.6h1V332.6h1V332.7h1V332.7h1V332.6h1V332.6h1V335.6h1V335.6h1V332.5h1V332.7h1V330.6h1V332.6h1V332.5h1V332.7h1V332.6h1V332.5h1V332.5h1V332.5h1V332.6h1V332.6h1V332.6h1V332.7h1V335.6h1V332.5h1V332.6h1V332.6h1V335.6h1V332.6h1V332.5h1V332.6h1V332.7h1V332.6h1V332.5h1V332.6h1V332.6h1V332.5h1V332.6h1V332.7h1V332.7h1V332.6h1V332.6h1V332.7h1V332.6h1V332.6h1V335.6h1V335.6h1V332.5h1V335.6h1V332.7h1V332.6h1V332.7h1V332.6h1V332.5h1V332.7h1V332.7h1V332.5h1V332.6h1V332.6h1V330.6h1V332.6h1V332.6h1V332.5h1V332.1h1V331.0h1V329.4h1V330.3h1V330.7h1V330.3h1V331.0h1V330.6h1V330.2h1V329.4h1V329.3h1V327.9h1V323.8h1V322.3h1V325.4h1V323.3h1V318.9h1V318.7h1V311.0h1V301.9h1V289.6h1V289.6h1V303.2h1V296.8h1V289.6h1V289.6h1V289.6h1V317.0h1V317.2h1V316.6h1V317.1h1V322.5h1V326.5h1V324.3h1V325.4h1V325.3h1V326.3h1V317.7h1V325.2h1V328.7h1V330.5h1V335.6h1V333.0h1V333.4h1V333.4h1V333.4h1V333.4h1V333.4h1V333.4h1V333.4h1V333.4h1V333.4h1V335.6h1V333.4h1V333.4h1V333.4h1V333.4h1V333.4h1V333.4h1V333.4h1V333.4h1V333.4h1V333.4h1V333.4h1V333.4h1V333.4h1V333.4h1V333.4h1V329.6h1V335.6h1V333.4h1V333.4h1V333.4h1V333.4h1V333.4h1V333.4h1V333.4h1V333.4h1V330.2h1V329.7h1V329.8h1V329.9h1V330.4h1V329.6h1V330.4h1V330.2h1V330.3h1V329.3h1V329.8h1V330.0h1V329.1h1V330.3h1V328.8h1V327.0h1V327.1h1V327.1h1V329.4h1V329.6h1V330.3h1V329.2h1V330.2h1V329.4h1V329.7h1V330.2h1V330.4h1V329.7h1V329.9h1V330.1h1V329.5h1V329.4h1V329.9h1V332.2h1V334.4h1V334.4h1V334.4h1V334.4h1V334.4h1V334.4h1V334.4h1V334.4h1V335.6h1V334.4h1V334.4h1V335.6h1V335.6h1V334.4h1V334.4h1V334.4h1V334.4h1V335.6h1V332.7h1V332.6h1V332.5h1V332.5h1V332.7h1V332.5h1V332.7h1V332.6h1V332.7h1V332.7h1V332.5h1V332.7h1V332.5h1V332.7h1V332.7h1V332.6h1V332.5h1V332.5h1V332.6h1V332.7h1V335.6h1V332.6h1V332.7h1V332.7h1V332.6h1V332.6h1V335.6h1V332.6h1V332.7h1V332.7h1V332.6h1V335.6h1V335.6h1V332.6h1V332.5h1V332.7h1V332.7h1V332.6h1V332.6h1V332.6h1V332.5h1V332.6h1V332.6h1V332.6h1V332.7h1V332.6h1V332.5h1V332.5h1V332.6h1V332.5h1V332.6h1V332.5h1V332.7h1V332.6h1V332.6h1h0.9V336.2Z" fill="#000" clip-path="url(#cp4)"/>
<line x1="136.0" y1="332.40" x2="591.0" y2="332.40" stroke="#555" stroke-width="0.9"/>
<rect x="484.50" y="329.00" width="32.50" height="3.40" fill="#000"/>
<rect x="498.00" y="326.10" width="4.00" height="6.30" fill="#000"/>
<path d="M135.1,336.2V335.1h0.9V335.1h1V335.1h1V335.1h1V335.1h1V335.1h1V335.1h1V335.1h1V335.1h1V335.1h1V335.1h1V335.1h1V335.1h1V335.1h1V335.1h1V335.1h1V335.1h1V335.1h1V335.1h1V335.1h1V335.1h1V335.1h1V335.1h1V335.1h1V335.1h1V335.1h1V335.1h1V335.1h1V335.1h1V335.1h1V335.1h1V335.1h1V335.1h1V335.1h1V335.1h1V335.1h1V335.1h1V335.1h1V335.1h1V335.1h1V335.1h1V335.1h1V335.1h1V335.1h1V335.1h1V335.1h1V335.0h1V335.1h1V335.1h1V335.1h1V335.1h1V335.1h1V335.1h1V335.1h1V335.1h1V335.0h1V335.1h1V335.0h1V335.1h1V335.0h1V335.1h1V335.1h1V335.1h1V335.1h1V335.0h1V335.1h1V335.1h1V335.1h1V335.0h1V335.0h1V335.1h1V335.1h1V335.0h1V335.1h1V335.0h1V335.1h1V335.0h1V335.1h1V335.0h1V335.0h1V335.1h1V335.0h1V335.1h1V335.0h1V335.0h1V335.0h1V335.0h1V335.0h1V335.1h1V335.0h1V335.0h1V334.5h1V333.3h1V332.8h1V332.8h1V332.7h1V332.7h1V332.6h1V332.6h1V332.7h1V332.8h1V332.8h1V332.8h1V332.8h1V332.7h1V332.8h1V332.7h1V332.7h1V332.6h1V332.9h1V333.4h1V334.5h1V335.1h1V335.1h1V335.1h1V335.1h1V335.1h1V335.1h1V335.1h1V335.1h1V335.1h1V335.1h1V335.1h1V335.1h1V335.1h1V335.1h1V335.1h1V335.1h1V335.1h1V335.1h1V335.1h1V335.1h1V335.1h1V335.1h1V335.1h1V335.1h1V335.1h1V335.1h1V335.1h1V335.1h1V335.1h1V335.1h1V335.1h1V335.1h1V335.1h1V335.1h1V335.1h1V335.1h1V335.1h1V335.1h1V335.1h1V335.1h1V335.1h1V335.1h1V335.1h1V335.1h1V335.1h1V335.1h1V335.1h1V335.1h1V335.1h1V335.1h1V335.1h1V335.1h1V335.1h1V335.1h1V335.1h1V335.1h1V335.1h1V335.1h1V335.1h1V335.1h1V335.1h1V335.1h1V335.1h1V335.1h1V335.1h1V335.1h1V335.1h1V335.1h1V335.1h1V335.1h1V335.1h1V335.1h1V335.1h1V335.1h1V335.1h1V335.1h1V335.1h1V335.1h1V335.1h1V335.1h1V335.1h1V335.1h1V335.1h1V335.1h1V335.1h1V335.1h1V335.1h1V335.1h1V335.1h1V335.1h1V335.1h1V335.1h1V335.1h1V335.1h1V335.1h1V335.1h1V335.1h1V335.1h1V335.1h1V335.1h1V335.1h1V335.1h1V335.1h1V335.1h1V335.1h1V335.1h1V335.1h1V335.1h1V335.1h1V335.1h1V335.1h1V335.1h1V335.1h1V335.1h1V335.1h1V335.1h1V335.1h1V335.1h1V335.1h1V335.1h1V335.1h1V335.1h1V335.1h1V335.1h1V335.1h1V335.1h1V335.1h1V335.1h1V335.1h1V335.1h1V335.1h1V335.1h1V335.1h1V335.1h1V335.1h1V335.1h1V335.1h1V335.1h1V335.1h1V335.1h1V335.1h1V335.1h1V335.1h1V335.1h1V335.1h1V335.1h1V335.1h1V335.1h1V335.1h1V335.1h1V335.1h1V335.1h1V335.1h1V335.1h1V335.1h1V335.1h1V335.1h1V335.1h1V335.1h1V335.1h1V335.1h1V334.3h1V333.7h1V333.9h1V333.7h1V332.6h1V332.3h1V332.4h1V332.3h1V332.3h1V332.3h1V326.3h1V329.4h1V328.5h1V324.5h1V320.4h1V315.9h1V314.9h1V316.1h1V315.5h1V313.7h1V313.8h1V311.7h1V310.5h1V306.7h1V310.5h1V318.7h1V324.7h1V324.2h1V324.3h1V326.7h1V328.4h1V330.2h1V330.8h1V330.0h1V329.8h1V329.3h1V331.9h1V333.9h1V334.7h1V335.1h1V335.1h1V335.1h1V335.1h1V335.1h1V335.1h1V335.1h1V335.1h1V335.1h1V335.1h1V335.1h1V335.1h1V335.1h1V335.1h1V335.1h1V335.1h1V335.1h1V335.1h1V335.1h1V335.1h1V335.1h1V335.1h1V335.1h1V335.1h1V335.1h1V335.1h1V335.1h1V335.1h1V335.1h1V335.1h1V335.1h1V335.1h1V335.1h1V335.1h1V335.1h1V335.1h1V335.1h1V332.6h1V332.7h1V332.7h1V332.4h1V332.7h1V332.6h1V332.6h1V332.6h1V332.7h1V332.5h1V332.7h1V332.4h1V332.5h1V332.6h1V332.5h1V332.7h1V332.6h1V332.6h1V332.5h1V332.4h1V332.4h1V332.5h1V333.0h1V333.2h1V333.1h1V333.3h1V333.1h1V333.3h1V333.1h1V333.2h1V333.2h1V333.1h1V333.2h1V334.2h1V335.1h1V335.1h1V335.1h1V335.1h1V335.1h1V335.1h1V335.1h1V335.1h1V335.1h1V335.1h1V335.1h1V335.1h1V335.1h1V335.1h1V335.1h1V335.1h1V335.1h1V335.1h1V335.1h1V335.1h1V335.1h1V335.1h1V335.1h1V335.1h1V335.1h1V335.1h1V335.1h1V335.1h1V335.1h1V335.1h1V335.1h1V335.1h1V335.1h1V335.1h1V335.1h1V335.1h1V335.1h1V335.1h1V335.1h1V335.1h1V335.1h1V335.1h1V335.1h1V335.1h1V335.1h1V335.1h1V335.1h1V335.1h1V335.1h1V335.1h1V335.1h1V335.1h1V335.1h1V335.1h1V335.1h1V335.1h1V335.1h1V335.1h1V335.1h1V335.1h1V335.1h1V335.1h1V335.1h1V335.1h1V335.1h1V335.1h1V335.1h1V335.1h1V335.1h1V335.1h1V335.1h1V335.1h1V335.1h1h0.9V336.2Z" fill="#ff0000" clip-path="url(#cp4)"/>
<rect x="216.80" y="367.20" width="2.70" height="13.20" fill="#222"/>
<rect x="219.50" y="367.20" width="3.00" height="13.20" fill="#222"/>
<rect x="222.30" y="367.20" width="1.00" height="13.20" fill="#222"/>
<rect x="229.00" y="367.20" width="1.00" height="13.20" fill="#222"/>
<rect x="232.00" y="367.20" width="1.00" height="13.20" fill="#222"/>
<rect x="239.00" y="367.20" width="1.00" height="13.20" fill="#222"/>
<rect x="245.00" y="367.20" width="1.00" height="13.20" fill="#222"/>
<rect x="247.00" y="367.20" width="1.00" height="13.20" fill="#222"/>
<rect x="291.00" y="367.20" width="1.00" height="13.20" fill="#222"/>
<rect x="294.00" y="367.20" width="1.00" height="13.20" fill="#222"/>
<rect x="353.20" y="367.20" width="0.80" height="13.20" fill="#222"/>
<rect x="355.10" y="367.20" width="0.80" height="13.20" fill="#222"/>
<rect x="357.60" y="367.20" width="0.80" height="13.20" fill="#222"/>
<rect x="415.60" y="367.20" width="0.80" height="13.20" fill="#222"/>
<rect x="430.80" y="367.20" width="1.00" height="13.20" fill="#222"/>
<rect x="432.20" y="367.20" width="0.80" height="13.20" fill="#222"/>
<rect x="442.90" y="367.20" width="0.80" height="13.20" fill="#222"/>
<rect x="447.90" y="367.20" width="0.80" height="13.20" fill="#222"/>
<rect x="233.50" y="367.20" width="2.50" height="13.20" fill="#7a0000"/>
<rect x="242.60" y="367.20" width="0.90" height="13.20" fill="#7a0000"/>
<rect x="153.30" y="367.40" width="1.00" height="9.00" fill="#333"/>
<rect x="175.20" y="367.40" width="1.00" height="9.00" fill="#333"/>
<rect x="217.40" y="358.50" width="1.00" height="17.90" fill="#333"/>
<rect x="227.50" y="349.40" width="1.00" height="27.00" fill="#333"/>
<rect x="235.30" y="341.20" width="1.00" height="35.20" fill="#333"/>
<rect x="237.30" y="358.50" width="1.00" height="17.90" fill="#333"/>
<rect x="241.30" y="349.40" width="1.00" height="27.00" fill="#333"/>
<rect x="285.30" y="367.40" width="1.00" height="9.00" fill="#333"/>
<rect x="292.80" y="358.40" width="1.00" height="18.00" fill="#333"/>
<rect x="246.00" y="367.20" width="1.00" height="9.20" fill="#333"/>
<rect x="227.50" y="358.50" width="1.00" height="8.70" fill="#ff4040"/>
<rect x="235.00" y="358.50" width="1.00" height="8.70" fill="#ff4040"/>
<rect x="241.30" y="358.50" width="1.00" height="8.70" fill="#ff4040"/>
<rect x="135.10" y="376.10" width="456.80" height="10.20" fill="#ff0000"/>
<rect x="159.80" y="417.20" width="1.00" height="10.00" fill="#ff0000"/>
<rect x="215.80" y="417.20" width="1.00" height="10.00" fill="#ff0000"/>
<rect x="217.00" y="409.20" width="1.00" height="18.00" fill="#ff0000"/>
<rect x="231.00" y="417.20" width="1.00" height="10.00" fill="#ff0000"/>
<rect x="232.10" y="391.00" width="1.00" height="36.20" fill="#ff0000"/>
<rect x="234.50" y="417.20" width="1.00" height="10.00" fill="#ff0000"/>
<rect x="236.00" y="409.20" width="1.00" height="18.00" fill="#ff0000"/>
<rect x="237.50" y="417.20" width="1.00" height="10.00" fill="#ff0000"/>
<rect x="239.00" y="417.20" width="1.00" height="10.00" fill="#ff0000"/>
<rect x="244.50" y="417.20" width="1.00" height="10.00" fill="#ff0000"/>
<rect x="248.00" y="417.20" width="1.00" height="10.00" fill="#ff0000"/>
<rect x="285.30" y="409.20" width="1.00" height="18.00" fill="#ff0000"/>
<rect x="292.90" y="409.20" width="1.00" height="18.00" fill="#ff0000"/>
<rect x="294.50" y="417.20" width="1.00" height="10.00" fill="#ff0000"/>
<rect x="353.70" y="417.20" width="1.00" height="10.00" fill="#ff0000"/>
<rect x="403.00" y="417.20" width="1.00" height="10.00" fill="#ff0000"/>
<rect x="218.50" y="417.20" width="5.50" height="18.90" fill="#ff0000"/>
<rect x="135.10" y="426.20" width="456.80" height="9.90" fill="#ff0000"/>
<path d="M135.1,535.4V531.7h0.9V531.7h1V528.5h1V530.2h1V526.5h1V528.7h1V530.0h1V528.9h1V529.2h1V530.5h1V531.3h1V531.2h1V530.4h1V529.9h1V529.5h1V529.7h1V532.5h1V532.5h1V532.5h1V532.5h1V532.5h1V532.5h1V532.5h1V532.5h1V532.5h1V532.1h1V532.5h1V532.5h1V532.5h1V523.8h1V532.5h1V532.5h1V532.5h1V532.5h1V532.5h1V532.5h1V532.5h1V532.5h1V524.8h1V532.5h1V532.5h1V532.5h1V532.5h1V532.5h1V532.5h1V532.5h1V532.5h1V532.5h1V532.5h1V532.5h1V532.5h1V532.5h1V532.5h1V532.5h1V532.5h1V532.5h1V532.5h1V532.5h1V532.5h1V532.5h1V532.5h1V532.5h1V532.5h1V532.5h1V532.5h1V532.5h1V532.5h1V532.5h1V532.5h1V532.5h1V532.5h1V532.5h1V532.5h1V532.5h1V532.5h1V532.5h1V532.5h1V532.5h1V532.5h1V532.5h1V532.5h1V532.5h1V532.5h1V532.5h1V532.5h1V532.5h1V532.5h1V532.5h1V532.5h1V532.5h1V532.5h1V532.5h1V532.5h1V532.5h1V532.5h1V532.5h1V532.5h1V532.5h1V532.5h1V532.5h1V532.5h1V532.5h1V532.5h1V532.5h1V532.5h1V532.5h1V532.5h1V532.5h1V532.5h1V532.5h1V532.5h1V532.5h1V532.5h1V532.5h1V532.5h1V532.5h1V532.5h1V532.5h1V532.5h1V532.5h1V532.5h1V532.5h1V532.5h1V532.4h1V532.0h1V532.5h1V531.4h1V532.4h1V532.5h1V532.5h1V532.5h1V532.5h1V532.5h1V524.8h1V532.5h1V532.5h1V532.5h1V532.5h1V532.5h1V532.5h1V532.5h1V532.5h1V532.5h1V532.5h1V532.5h1V532.5h1V532.5h1V532.5h1V532.5h1V532.5h1V532.5h1V532.5h1V530.8h1V532.5h1V532.5h1V532.5h1V532.5h1V532.5h1V532.5h1V531.8h1V529.6h1V530.0h1V528.7h1V524.7h1V520.6h1V525.5h1V524.7h1V492.8h1V526.5h1V530.1h1V532.5h1V532.5h1V532.3h1V532.5h1V513.4h1V524.9h1V526.1h1V528.0h1V527.3h1V528.1h1V530.8h1V530.9h1V528.4h1V530.8h1V531.6h1V528.7h1V529.5h1V528.7h1V529.1h1V531.0h1V530.9h1V530.4h1V526.2h1V530.5h1V528.5h1V494.8h1V532.4h1V528.3h1V488.8h1V524.0h1V524.0h1V525.0h1V528.7h1V526.1h1V527.4h1V531.4h1V527.2h1V531.1h1V530.1h1V528.0h1V526.0h1V528.6h1V529.3h1V531.1h1V532.5h1V532.5h1V532.5h1V532.5h1V532.5h1V532.5h1V532.5h1V532.5h1V532.5h1V532.5h1V532.5h1V532.5h1V532.5h1V532.5h1V532.5h1V532.5h1V532.5h1V532.5h1V532.5h1V532.5h1V532.5h1V532.5h1V532.5h1V532.5h1V532.5h1V532.5h1V532.5h1V532.5h1V532.5h1V532.5h1V532.5h1V532.5h1V532.5h1V532.5h1V532.5h1V532.5h1V532.5h1V532.5h1V532.5h1V532.5h1V532.5h1V532.5h1V532.5h1V530.8h1V532.5h1V532.5h1V532.5h1V532.5h1V532.5h1V532.5h1V532.5h1V532.5h1V532.5h1V532.5h1V532.5h1V532.5h1V532.5h1V532.5h1V532.5h1V532.5h1V532.5h1V532.5h1V532.5h1V532.5h1V532.5h1V532.5h1V532.5h1V532.5h1V532.5h1V532.5h1V532.5h1V532.5h1V532.5h1V532.5h1V532.5h1V532.5h1V532.5h1V532.5h1V532.5h1V532.5h1V532.5h1V532.5h1V532.5h1V532.5h1V532.5h1V532.5h1V532.5h1V532.5h1V532.5h1V532.5h1V532.5h1V532.5h1V532.5h1V532.5h1V532.5h1V532.5h1V532.5h1V532.5h1V532.5h1V532.5h1V532.5h1V530.8h1V527.2h1V522.1h1V530.2h1V529.5h1V531.6h1V529.9h1V530.6h1V527.2h1V521.8h1V526.9h1V532.0h1V529.8h1V529.7h1V529.2h1V528.3h1V523.4h1V528.5h1V520.3h1V525.6h1V506.4h1V526.0h1V527.2h1V488.8h1V529.6h1V529.9h1V531.3h1V527.6h1V524.9h1V524.7h1V530.5h1V528.0h1V517.8h1V527.9h1V530.8h1V528.0h1V530.1h1V532.4h1V532.0h1V532.3h1V506.4h1V532.5h1V532.5h1V532.5h1V532.5h1V532.5h1V532.5h1V532.5h1V532.5h1V532.5h1V532.5h1V532.5h1V532.5h1V532.5h1V532.5h1V532.5h1V532.5h1V532.5h1V532.5h1V532.5h1V532.5h1V532.5h1V532.5h1V532.5h1V532.5h1V532.5h1V532.5h1V532.5h1V532.5h1V530.6h1V531.0h1V531.5h1V532.5h1V532.5h1V532.5h1V532.5h1V532.2h1V532.5h1V532.5h1V532.5h1V532.5h1V532.5h1V532.5h1V532.5h1V532.5h1V532.5h1V532.5h1V532.5h1V532.5h1V532.5h1V532.5h1V532.5h1V532.5h1V532.5h1V532.5h1V532.5h1V532.5h1V532.5h1V532.5h1V532.5h1V532.5h1V532.5h1V532.5h1V532.5h1V532.5h1V532.5h1V532.5h1V532.5h1V532.5h1V532.5h1V532.5h1V532.5h1V532.5h1V532.5h1V532.5h1V532.5h1V532.5h1V532.5h1V532.5h1V532.5h1V532.5h1V532.5h1V532.5h1V532.5h1V532.5h1V532.5h1V532.5h1V532.5h1V532.5h1V532.5h1V532.5h1V532.5h1V532.5h1V532.5h1V532.5h1V532.5h1V532.5h1V532.5h1V532.5h1V532.5h1V532.5h1h0.9V535.4Z" fill="#000" clip-path="url(#cp8)"/>
<path d="M135.1,535.4V533.8h0.9V533.8h1V533.9h1V533.9h1V534.0h1V534.0h1V534.0h1V533.9h1V534.0h1V534.0h1V534.0h1V534.0h1V533.9h1V534.0h1V534.0h1V533.9h1V534.0h1V534.0h1V533.8h1V534.0h1V533.8h1V533.9h1V534.0h1V534.0h1V534.0h1V534.0h1V533.9h1V533.9h1V534.0h1V534.0h1V533.9h1V534.0h1V534.0h1V534.0h1V533.9h1V534.0h1V533.9h1V534.0h1V534.0h1V534.0h1V533.8h1V533.9h1V533.8h1V534.0h1V534.0h1V533.8h1V533.9h1V534.0h1V534.0h1V534.0h1V534.0h1V533.8h1V534.0h1V533.9h1V533.9h1V534.0h1V533.8h1V534.0h1V534.0h1V533.9h1V533.9h1V534.0h1V533.9h1V533.9h1V534.0h1V534.0h1V533.9h1V533.9h1V533.9h1V534.0h1V533.8h1V533.8h1V533.9h1V533.9h1V533.9h1V533.9h1V534.0h1V533.9h1V533.8h1V534.0h1V534.0h1V533.8h1V534.0h1V533.8h1V534.0h1V534.0h1V534.0h1V534.0h1V533.9h1V533.8h1V534.0h1V534.0h1V534.0h1V534.0h1V534.0h1V533.9h1V533.9h1V533.9h1V533.9h1V533.9h1V534.0h1V534.0h1V533.9h1V533.9h1V534.0h1V533.8h1V534.0h1V533.9h1V533.9h1V534.0h1V533.9h1V534.0h1V534.0h1V533.9h1V534.0h1V533.9h1V533.8h1V533.8h1V534.0h1V534.0h1V533.9h1V534.0h1V533.9h1V534.0h1V534.0h1V533.9h1V533.9h1V533.9h1V534.0h1V533.8h1V533.8h1V533.9h1V534.0h1V533.9h1V534.0h1V534.0h1V534.0h1V533.9h1V534.0h1V534.0h1V534.0h1V534.0h1V534.0h1V533.9h1V533.9h1V534.0h1V533.9h1V533.9h1V534.0h1V534.0h1V534.0h1V533.8h1V533.8h1V534.0h1V534.0h1V534.0h1V533.8h1V533.8h1V533.1h1V532.5h1V532.9h1V532.7h1V532.6h1V532.5h1V531.8h1V531.8h1V532.1h1V531.8h1V531.6h1V531.9h1V533.0h1V533.7h1V533.7h1V533.5h1V533.5h1V533.5h1V533.4h1V533.7h1V533.3h1V533.5h1V533.7h1V533.6h1V533.5h1V533.6h1V533.3h1V533.6h1V533.5h1V533.6h1V533.7h1V533.5h1V533.3h1V533.6h1V533.5h1V533.4h1V533.4h1V531.9h1V528.1h1V521.7h1V523.7h1V527.8h1V531.0h1V532.4h1V531.8h1V531.9h1V532.3h1V532.7h1V532.0h1V532.3h1V532.7h1V532.1h1V532.9h1V534.0h1V533.9h1V533.9h1V533.9h1V534.0h1V534.0h1V534.0h1V533.8h1V533.9h1V533.9h1V533.9h1V533.9h1V533.9h1V533.9h1V533.9h1V534.0h1V533.8h1V534.0h1V533.9h1V534.0h1V534.0h1V534.0h1V534.0h1V533.9h1V534.0h1V533.8h1V533.9h1V534.0h1V534.0h1V533.9h1V534.0h1V534.0h1V534.0h1V533.9h1V533.9h1V534.0h1V534.0h1V534.0h1V533.9h1V534.0h1V534.0h1V534.0h1V534.0h1V533.9h1V534.0h1V534.0h1V533.9h1V533.9h1V534.0h1V534.0h1V533.8h1V533.8h1V534.0h1V533.9h1V534.0h1V533.9h1V533.9h1V534.0h1V534.0h1V533.8h1V534.0h1V533.9h1V533.8h1V533.8h1V534.0h1V534.0h1V533.9h1V533.9h1V534.0h1V533.9h1V534.0h1V534.0h1V534.0h1V534.0h1V534.0h1V534.0h1V534.0h1V533.8h1V533.9h1V533.8h1V534.0h1V533.8h1V533.9h1V533.9h1V533.9h1V533.8h1V533.9h1V534.0h1V534.0h1V533.9h1V533.9h1V534.0h1V534.0h1V533.9h1V534.0h1V534.0h1V534.0h1V534.0h1V533.8h1V534.0h1V533.9h1V534.0h1V533.9h1V534.0h1V533.5h1V532.6h1V532.6h1V532.8h1V533.0h1V532.5h1V533.0h1V532.7h1V532.5h1V532.7h1V532.5h1V532.7h1V532.8h1V532.4h1V532.9h1V533.0h1V532.7h1V532.9h1V533.0h1V532.7h1V533.0h1V529.8h1V522.9h1V520.9h1V524.5h1V528.1h1V533.0h1V532.9h1V532.9h1V532.9h1V532.8h1V533.2h1V533.1h1V533.3h1V533.1h1V533.1h1V533.3h1V533.0h1V533.1h1V533.3h1V533.6h1V534.0h1V533.9h1V533.8h1V533.9h1V534.0h1V534.0h1V533.9h1V534.0h1V533.9h1V534.0h1V534.0h1V533.9h1V533.9h1V533.9h1V533.9h1V534.0h1V534.0h1V534.0h1V533.9h1V534.0h1V534.0h1V533.9h1V533.9h1V533.9h1V533.9h1V533.8h1V534.0h1V533.8h1V533.9h1V534.0h1V533.8h1V533.9h1V534.0h1V534.0h1V533.9h1V534.0h1V534.0h1V534.0h1V533.9h1V533.9h1V533.9h1V533.9h1V533.9h1V534.0h1V533.8h1V534.0h1V534.0h1V533.9h1V534.0h1V534.0h1V534.0h1V533.8h1V533.9h1V533.9h1V533.9h1V534.0h1V534.0h1V533.8h1V534.0h1V533.8h1V533.8h1V534.0h1V533.9h1V534.0h1V534.0h1V534.0h1V533.9h1V533.9h1V533.9h1V534.0h1V534.0h1V533.9h1V534.0h1V534.0h1V534.0h1V533.9h1V534.0h1V533.8h1V533.9h1V533.8h1V533.8h1V533.9h1V533.9h1V534.0h1V533.9h1V534.0h1V534.0h1V533.9h1V534.0h1V534.0h1V533.9h1V534.0h1V533.8h1V534.0h1V534.0h1V534.0h1V534.0h1V533.9h1V533.9h1V533.9h1h0.9V535.4Z" fill="#ff0000" clip-path="url(#cp8)"/>
<path d="M135.1,585.2V577.3h0.9V577.3h1V579.0h1V582.4h1V582.4h1V582.1h1V582.4h1V582.4h1V582.1h1V582.4h1V582.4h1V582.4h1V582.1h1V582.4h1V582.2h1V576.6h1V582.4h1V582.4h1V582.4h1V582.4h1V582.4h1V582.4h1V582.4h1V580.6h1V582.4h1V582.4h1V582.4h1V582.4h1V582.4h1V582.4h1V582.4h1V582.4h1V582.4h1V582.4h1V582.4h1V582.4h1V582.4h1V582.4h1V581.6h1V582.4h1V582.4h1V582.4h1V582.4h1V582.4h1V582.4h1V582.4h1V582.4h1V582.4h1V582.4h1V582.4h1V582.4h1V582.4h1V582.4h1V582.4h1V582.4h1V582.4h1V582.4h1V582.4h1V582.4h1V582.4h1V582.4h1V582.4h1V582.4h1V582.4h1V582.4h1V582.4h1V582.4h1V582.4h1V582.4h1V582.4h1V582.4h1V582.4h1V582.4h1V582.4h1V582.4h1V582.4h1V582.2h1V582.4h1V582.2h1V581.9h1V581.3h1V581.5h1V581.3h1V580.1h1V580.8h1V580.7h1V581.0h1V581.9h1V581.9h1V582.4h1V582.4h1V582.4h1V582.4h1V582.4h1V582.4h1V582.4h1V582.4h1V582.4h1V582.4h1V582.4h1V582.4h1V582.4h1V582.4h1V582.4h1V582.4h1V582.4h1V582.4h1V582.4h1V582.4h1V582.4h1V582.4h1V582.4h1V582.4h1V582.4h1V582.4h1V582.4h1V565.1h1V582.4h1V582.4h1V582.4h1V582.4h1V582.4h1V582.4h1V582.4h1V582.4h1V582.4h1V582.4h1V582.4h1V582.4h1V582.4h1V582.4h1V582.4h1V582.4h1V582.4h1V582.4h1V582.4h1V582.4h1V582.4h1V582.4h1V582.4h1V582.4h1V582.4h1V582.4h1V582.4h1V582.4h1V582.4h1V582.4h1V582.4h1V582.4h1V582.4h1V582.4h1V580.6h1V582.4h1V582.4h1V582.4h1V582.4h1V582.4h1V581.4h1V577.5h1V538.6h1V565.2h1V567.8h1V571.0h1V568.5h1V565.7h1V538.6h1V569.6h1V563.8h1V565.9h1V575.0h1V580.7h1V582.1h1V581.8h1V581.3h1V579.3h1V578.0h1V576.1h1V576.6h1V575.2h1V578.3h1V576.1h1V577.2h1V578.7h1V579.4h1V578.9h1V579.2h1V578.2h1V579.5h1V579.4h1V579.3h1V578.6h1V579.0h1V576.5h1V575.0h1V576.0h1V574.1h1V572.9h1V574.3h1V560.1h1V576.0h1V574.0h1V571.9h1V572.4h1V576.5h1V578.1h1V577.0h1V577.7h1V566.0h1V579.9h1V579.0h1V580.5h1V581.3h1V581.3h1V582.0h1V582.4h1V582.4h1V582.4h1V582.4h1V582.4h1V582.4h1V582.4h1V582.4h1V582.4h1V582.4h1V582.4h1V582.4h1V582.4h1V582.4h1V582.4h1V582.4h1V582.4h1V582.4h1V582.4h1V582.4h1V582.4h1V582.4h1V582.4h1V582.4h1V582.4h1V582.4h1V582.4h1V582.4h1V582.4h1V582.4h1V582.4h1V582.4h1V582.4h1V582.4h1V582.4h1V582.4h1V582.4h1V582.4h1V582.4h1V582.4h1V582.4h1V582.4h1V582.4h1V582.4h1V582.4h1V582.4h1V582.4h1V582.4h1V582.4h1V582.4h1V582.4h1V582.4h1V582.4h1V582.4h1V582.4h1V582.4h1V582.4h1V582.4h1V582.4h1V582.4h1V582.4h1V582.4h1V582.4h1V582.4h1V582.4h1V582.1h1V581.0h1V581.5h1V580.2h1V580.8h1V581.5h1V580.7h1V580.1h1V579.7h1V579.9h1V579.2h1V581.7h1V582.2h1V582.4h1V582.4h1V582.4h1V582.4h1V582.4h1V582.4h1V582.4h1V582.4h1V582.4h1V582.4h1V582.4h1V582.4h1V582.4h1V582.4h1V582.4h1V582.4h1V582.4h1V582.4h1V582.4h1V582.4h1V582.4h1V582.4h1V582.4h1V581.3h1V578.4h1V572.1h1V578.6h1V580.1h1V581.7h1V580.9h1V580.8h1V578.5h1V577.7h1V575.6h1V579.5h1V579.1h1V579.3h1V577.4h1V578.7h1V577.9h1V578.1h1V575.5h1V567.6h1V576.6h1V578.8h1V576.4h1V538.6h1V579.0h1V578.1h1V577.9h1V578.3h1V577.9h1V579.3h1V576.7h1V577.9h1V578.3h1V577.4h1V574.5h1V575.0h1V572.1h1V569.9h1V576.7h1V577.8h1V576.0h1V578.3h1V579.8h1V579.9h1V579.4h1V579.7h1V577.5h1V576.6h1V577.8h1V577.4h1V575.5h1V575.1h1V574.0h1V572.8h1V573.8h1V577.3h1V577.3h1V574.8h1V575.2h1V577.6h1V572.7h1V575.0h1V567.6h1V571.0h1V573.2h1V563.2h1V553.6h1V571.4h1V565.4h1V562.4h1V564.8h1V560.1h1V538.6h1V553.5h1V561.7h1V563.4h1V557.9h1V538.6h1V558.7h1V552.3h1V552.5h1V560.6h1V562.7h1V563.0h1V563.1h1V565.2h1V564.8h1V564.5h1V538.6h1V555.6h1V559.7h1V558.9h1V557.4h1V564.6h1V566.2h1V568.9h1V574.8h1V573.5h1V573.0h1V576.1h1V577.0h1V577.7h1V577.3h1V577.9h1V578.1h1V577.5h1V579.0h1V579.1h1V577.2h1V560.1h1V575.0h1V575.7h1V554.6h1V568.5h1V547.1h1V569.9h1V567.7h1V570.0h1V574.8h1V578.4h1V579.9h1V578.1h1V579.5h1V579.8h1V580.4h1V580.0h1V579.4h1V579.9h1V579.5h1V580.0h1V580.1h1V578.9h1V575.0h1V571.3h1V562.3h1V570.8h1V569.6h1V574.9h1V573.1h1V574.2h1V574.1h1h0.9V585.2Z" fill="#000" clip-path="url(#cp9)"/>
<path d="M135.1,585.2V582.3h0.9V582.3h1V582.5h1V582.6h1V582.3h1V582.5h1V582.8h1V582.4h1V582.8h1V582.7h1V582.5h1V582.6h1V582.5h1V582.2h1V582.7h1V582.6h1V583.5h1V583.8h1V583.8h1V583.8h1V583.7h1V583.8h1V583.6h1V583.8h1V583.6h1V583.6h1V583.8h1V583.7h1V583.8h1V583.7h1V583.7h1V583.8h1V583.6h1V583.6h1V583.6h1V583.7h1V583.7h1V583.8h1V583.6h1V583.7h1V583.7h1V583.8h1V583.7h1V583.7h1V583.8h1V583.8h1V583.8h1V583.6h1V583.8h1V583.8h1V583.6h1V583.6h1V583.7h1V583.7h1V583.7h1V583.7h1V583.8h1V583.8h1V583.6h1V583.8h1V583.7h1V583.7h1V583.8h1V583.7h1V583.6h1V583.8h1V583.7h1V583.8h1V583.6h1V583.8h1V583.7h1V583.8h1V583.7h1V583.8h1V583.6h1V583.7h1V583.8h1V583.7h1V583.8h1V583.7h1V583.6h1V583.8h1V583.8h1V583.8h1V583.6h1V583.6h1V583.8h1V583.7h1V583.8h1V583.8h1V583.8h1V583.6h1V583.8h1V583.6h1V583.6h1V583.6h1V583.6h1V583.8h1V583.8h1V583.7h1V583.8h1V583.7h1V583.8h1V583.8h1V583.8h1V583.7h1V583.7h1V583.8h1V583.8h1V583.7h1V583.8h1V583.8h1V583.8h1V583.8h1V583.6h1V583.6h1V582.2h1V583.7h1V583.8h1V583.8h1V583.7h1V583.6h1V583.7h1V583.8h1V583.8h1V583.6h1V583.8h1V583.6h1V583.8h1V583.6h1V583.7h1V583.8h1V583.8h1V583.7h1V583.8h1V583.7h1V583.8h1V583.7h1V583.6h1V583.8h1V583.8h1V583.6h1V583.7h1V583.8h1V583.6h1V583.8h1V583.8h1V583.8h1V583.8h1V583.7h1V583.7h1V583.7h1V583.6h1V583.8h1V583.8h1V583.7h1V583.8h1V582.5h1V578.6h1V575.3h1V575.0h1V577.6h1V578.2h1V579.2h1V579.6h1V579.6h1V579.9h1V580.1h1V580.1h1V580.0h1V582.5h1V583.0h1V582.3h1V582.4h1V582.2h1V582.2h1V582.5h1V582.2h1V582.3h1V582.6h1V582.6h1V582.7h1V582.2h1V582.5h1V582.3h1V582.9h1V583.2h1V583.1h1V583.2h1V583.5h1V583.3h1V583.4h1V583.4h1V583.2h1V583.1h1V582.4h1V581.6h1V582.0h1V581.9h1V582.5h1V582.4h1V582.3h1V582.5h1V581.7h1V582.5h1V582.2h1V582.2h1V582.3h1V581.9h1V582.3h1V582.6h1V583.8h1V583.6h1V583.7h1V583.8h1V583.7h1V583.6h1V583.7h1V583.7h1V583.8h1V583.7h1V583.6h1V583.6h1V583.6h1V583.8h1V583.8h1V583.8h1V583.7h1V583.6h1V583.7h1V583.8h1V583.8h1V583.7h1V583.6h1V583.6h1V583.8h1V583.8h1V583.7h1V583.7h1V583.6h1V583.7h1V583.7h1V583.8h1V583.8h1V583.7h1V583.6h1V583.8h1V583.8h1V583.6h1V583.6h1V583.8h1V583.8h1V583.8h1V583.7h1V583.8h1V583.7h1V583.7h1V583.6h1V583.8h1V583.8h1V583.8h1V583.7h1V583.7h1V583.8h1V583.8h1V583.8h1V583.8h1V583.6h1V583.6h1V583.8h1V583.7h1V583.8h1V583.8h1V583.8h1V583.7h1V583.8h1V583.8h1V583.8h1V583.7h1V583.7h1V583.6h1V583.7h1V583.7h1V583.8h1V583.6h1V583.7h1V583.8h1V583.8h1V583.6h1V583.8h1V583.7h1V583.8h1V583.6h1V583.6h1V583.8h1V583.6h1V583.8h1V583.8h1V583.6h1V583.7h1V583.7h1V583.8h1V583.8h1V583.8h1V583.7h1V583.2h1V583.0h1V582.9h1V582.9h1V582.7h1V582.7h1V582.9h1V583.2h1V582.7h1V582.7h1V582.8h1V583.0h1V583.1h1V582.9h1V582.8h1V582.8h1V583.1h1V582.9h1V583.0h1V582.7h1V582.9h1V582.9h1V583.0h1V582.8h1V582.6h1V583.1h1V583.2h1V583.1h1V582.6h1V583.1h1V581.8h1V579.4h1V577.1h1V567.2h1V570.8h1V580.1h1V583.0h1V582.9h1V582.8h1V583.1h1V582.8h1V582.8h1V583.0h1V582.8h1V583.2h1V583.1h1V582.9h1V583.0h1V583.2h1V583.1h1V583.0h1V582.8h1V583.2h1V582.8h1V582.8h1V583.2h1V583.1h1V583.1h1V582.7h1V582.7h1V582.5h1V582.8h1V582.4h1V582.2h1V582.3h1V582.8h1V582.5h1V582.6h1V582.7h1V582.1h1V582.5h1V582.3h1V582.6h1V582.2h1V582.1h1V582.2h1V582.5h1V582.2h1V580.9h1V577.7h1V576.8h1V575.0h1V573.5h1V573.3h1V575.0h1V573.9h1V569.5h1V570.1h1V574.0h1V577.4h1V578.4h1V579.6h1V581.6h1V581.3h1V580.6h1V580.6h1V578.1h1V578.6h1V577.5h1V579.3h1V578.0h1V580.3h1V580.6h1V580.4h1V581.7h1V582.1h1V582.2h1V582.3h1V582.3h1V582.6h1V582.2h1V582.5h1V582.6h1V582.5h1V582.3h1V582.5h1V582.5h1V582.7h1V582.5h1V582.3h1V580.3h1V578.2h1V576.0h1V576.6h1V575.1h1V577.5h1V578.6h1V581.0h1V582.1h1V582.6h1V582.3h1V582.7h1V582.5h1V582.5h1V582.8h1V582.6h1V582.5h1V582.2h1V582.5h1V582.7h1V582.7h1V582.2h1V581.6h1V580.2h1V579.5h1V578.8h1V580.5h1V580.5h1V580.6h1V580.3h1V581.7h1h0.9V585.2Z" fill="#ff0000" clip-path="url(#cp9)" stroke="#fff" stroke-width="1.6" paint-order="stroke" stroke-linejoin="miter"/>
<path d="M136,626.2V626.2h1V626.2h1V625.8h1V626.2h1V628.3h1V625.2h1V618.4h1V603.7h1V614.2h1V612.5h1V612.6h1V611.2h1V608.7h1V609.4h1V603.6h1V599.9h1V609.5h1V618.7h1V626.4h1V627.2h1V625.6h1V604.8h1V627.7h1V628.3h1V629.5h1V630.1h1V630.6h1V630.0h1V631.2h1V631.0h1V631.8h1V631.3h1V632.3h1V632.1h1V632.2h1V632.3h1V632.8h1V632.7h1V633.2h1V633.1h1V633.0h1V633.2h1V633.0h1V633.1h1V633.2h1V633.2h1V633.0h1V633.1h1V633.0h1V633.2h1V633.2h1V633.0h1V633.0h1V633.0h1V633.0h1V633.0h1V633.1h1V633.1h1V633.2h1V632.9h1V632.9h1V633.2h1V633.1h1V633.1h1V633.0h1V631.9h1V633.2h1V632.9h1V633.2h1V633.2h1V633.1h1V633.2h1V633.0h1V633.2h1V633.2h1V633.1h1V633.0h1V633.2h1V631.2h1V614.8h1V601.7h1V598.4h1V602.1h1V599.2h1V600.2h1V593.7h1V593.4h1V615.5h1V613.5h1V603.8h1V598.6h1V610.2h1V613.7h1V611.5h1V612.8h1V618.6h1V621.1h1V624.1h1V622.8h1V607.7h1V602.7h1V608.8h1V610.9h1V609.3h1V604.8h1V607.0h1V611.7h1V616.8h1V617.5h1V612.0h1V601.5h1V594.6h1V590.5h1V601.9h1V601.0h1V603.8h1V616.4h1V627.7h1V631.4h1V632.9h1V633.2h1V633.0h1V633.1h1V633.1h1V632.9h1V633.1h1V632.8h1V633.2h1V633.2h1V633.2h1V633.2h1V633.1h1V633.1h1V632.8h1V633.2h1V632.9h1V633.1h1V632.8h1V632.9h1V633.1h1V633.1h1V633.0h1V633.0h1V633.2h1V633.1h1V633.0h1V632.9h1V633.2h1V633.0h1V632.9h1V633.0h1V633.2h1V633.1h1V632.7h1V630.2h1V623.9h1V623.9h1V620.6h1V619.3h1V621.0h1V620.4h1V623.6h1V626.0h1V624.5h1V624.0h1V626.2h1V626.2h1V602.6h1V615.1h1V609.2h1V605.4h1V599.1h1V607.9h1V608.9h1V614.5h1V606.9h1V606.1h1V612.9h1V603.2h1V613.7h1V612.2h1V615.9h1V614.9h1V620.6h1V618.7h1V618.5h1V614.5h1V616.3h1V618.5h1V620.8h1V618.4h1V620.2h1V623.1h1V614.9h1V607.0h1V601.7h1V604.8h1V605.2h1V600.2h1V607.9h1V608.1h1V610.2h1V612.9h1V612.2h1V617.4h1V620.0h1V620.7h1V618.3h1V620.8h1V622.0h1V627.4h1V627.8h1V628.6h1V629.6h1V630.6h1V630.9h1V630.5h1V630.2h1V630.4h1V626.4h1V631.7h1V631.1h1V631.5h1V630.5h1V629.7h1V630.1h1V630.2h1V629.5h1V631.7h1V632.3h1V632.6h1V630.9h1V633.1h1V633.2h1V633.0h1V633.0h1V633.2h1V632.9h1V633.0h1V633.1h1V632.9h1V633.1h1V633.2h1V633.0h1V633.1h1V632.9h1V633.0h1V631.9h1V633.2h1V633.0h1V633.2h1V633.2h1V633.1h1V633.1h1V633.2h1V633.2h1V633.2h1V631.9h1V632.9h1V633.2h1V633.2h1V633.2h1V633.1h1V633.2h1V633.2h1V632.5h1V630.9h1V625.4h1V630.0h1V630.7h1V631.0h1V630.8h1V630.7h1V631.0h1V630.7h1V630.4h1V628.8h1V628.2h1V627.4h1V628.8h1V628.5h1V627.2h1V629.0h1V627.8h1V628.2h1V627.9h1V626.2h1V627.6h1V626.5h1V627.2h1V628.0h1V629.0h1V632.0h1V632.8h1V633.0h1V633.1h1V632.9h1V633.0h1V633.0h1V632.8h1V633.0h1V632.8h1V633.1h1V632.8h1V633.0h1V633.1h1V632.7h1V627.9h1V632.8h1V633.0h1V632.7h1V633.0h1V632.5h1V632.9h1V630.1h1V627.4h1V627.0h1V627.6h1V627.6h1V627.3h1V627.7h1V627.4h1V625.9h1V625.9h1V627.3h1V626.7h1V625.9h1V627.5h1V628.1h1V627.1h1V626.6h1V627.2h1V628.0h1V626.5h1V628.8h1V628.2h1V628.8h1V588.4h1V620.6h1V614.2h1V614.6h1V610.5h1V613.7h1V616.5h1V618.4h1V616.1h1V614.3h1V612.1h1V604.5h1V613.4h1V607.2h1V612.3h1V616.5h1V617.3h1V588.4h1V616.3h1V608.1h1V607.1h1V614.0h1V619.7h1V621.0h1V622.6h1V625.0h1V625.3h1V624.3h1V622.7h1V625.2h1V619.9h1V604.0h1V600.3h1V597.5h1V597.1h1V598.0h1V591.8h1V600.6h1V605.0h1V609.5h1V612.4h1V612.6h1V609.1h1V610.5h1V609.9h1V616.3h1V611.5h1V614.9h1V617.1h1V617.4h1V616.6h1V613.3h1V617.0h1V620.2h1V623.5h1V620.7h1V622.1h1V623.1h1V625.3h1V625.4h1V624.6h1V626.5h1V626.0h1V626.1h1V627.5h1V626.5h1V627.3h1V627.0h1V625.7h1V625.9h1V625.5h1V622.8h1V622.2h1V624.0h1V620.6h1V624.3h1V621.2h1V623.0h1V622.0h1V620.4h1V622.6h1V621.6h1V622.0h1V618.8h1V619.2h1V614.3h1V616.9h1V617.5h1V617.9h1V610.4h1V614.2h1V621.2h1V623.0h1V623.5h1V625.9h1V624.8h1V626.1h1V625.9h1V626.0h1V626.6h1V625.6h1V626.4h1V628.0h1V625.8h1V628.2h1V627.0h1V628.5h1V627.4h1V628.8h1V626.7h1V621.1h1V618.2h1V622.0h1V620.2h1V622.7h1V626.1h1V626.6h1V628.7h1V632.4h-1V632.6h-1V632.1h-1V632.5h-1V632.2h-1V631.6h-1V631.4h-1V631.5h-1V631.6h-1V630.4h-1V631.9h-1V631.6h-1V630.3h-1V632.0h-1V631.6h-1V632.1h-1V632.2h-1V632.2h-1V631.8h-1V632.4h-1V632.3h-1V632.5h-1V632.1h-1V632.2h-1V630.4h-1V631.6h-1V630.0h-1V629.3h-1V629.3h-1V629.5h-1V630.3h-1V630.4h-1V630.2h-1V630.5h-1V630.2h-1V630.4h-1V631.8h-1V630.3h-1V632.1h-1V631.9h-1V630.5h-1V631.6h-1V632.2h-1V631.7h-1V632.0h-1V631.5h-1V632.1h-1V631.8h-1V631.9h-1V632.4h-1V631.6h-1V631.6h-1V632.4h-1V632.5h-1V632.3h-1V632.0h-1V631.8h-1V632.0h-1V632.4h-1V632.4h-1V632.3h-1V632.1h-1V632.4h-1V631.9h-1V631.4h-1V631.7h-1V631.4h-1V630.1h-1V630.2h-1V630.1h-1V629.9h-1V629.4h-1V629.8h-1V628.4h-1V627.7h-1V627.3h-1V627.4h-1V627.8h-1V626.1h-1V625.6h-1V624.1h-1V623.9h-1V622.9h-1V621.5h-1V622.6h-1V622.4h-1V626.0h-1V628.9h-1V629.4h-1V629.6h-1V629.2h-1V629.2h-1V630.0h-1V629.1h-1V629.6h-1V630.2h-1V629.1h-1V630.0h-1V629.1h-1V629.2h-1V628.8h-1V626.8h-1V625.8h-1V625.8h-1V627.3h-1V626.3h-1V627.9h-1V628.4h-1V627.9h-1V627.2h-1V627.9h-1V628.4h-1V628.9h-1V628.9h-1V629.1h-1V626.9h-1V623.9h-1V627.1h-1V629.4h-1V632.5h-1V632.0h-1V632.6h-1V632.1h-1V632.4h-1V632.3h-1V632.6h-1V632.6h-1V632.3h-1V632.6h-1V632.1h-1V632.6h-1V632.5h-1V631.9h-1V632.1h-1V632.4h-1V632.1h-1V632.0h-1V632.2h-1V632.2h-1V632.3h-1V632.5h-1V633.2h-1V633.4h-1V633.4h-1V633.4h-1V633.2h-1V633.1h-1V633.1h-1V633.4h-1V633.1h-1V633.4h-1V633.2h-1V633.5h-1V633.2h-1V633.2h-1V633.2h-1V633.5h-1V633.3h-1V633.5h-1V633.5h-1V633.2h-1V633.4h-1V633.0h-1V632.4h-1V632.2h-1V632.6h-1V632.5h-1V632.0h-1V632.3h-1V632.3h-1V632.3h-1V632.5h-1V632.6h-1V632.3h-1V632.3h-1V631.9h-1V632.2h-1V632.1h-1V632.0h-1V632.5h-1V632.5h-1V632.4h-1V632.6h-1V632.3h-1V632.6h-1V632.6h-1V632.2h-1V632.3h-1V633.0h-1V633.3h-1V633.2h-1V633.4h-1V633.2h-1V633.3h-1V633.4h-1V633.4h-1V633.4h-1V633.4h-1V633.4h-1V633.2h-1V633.2h-1V633.4h-1V633.2h-1V633.4h-1V633.2h-1V633.4h-1V633.2h-1V633.4h-1V633.2h-1V633.5h-1V633.5h-1V633.3h-1V633.2h-1V633.3h-1V633.5h-1V633.2h-1V633.1h-1V633.5h-1V633.2h-1V633.3h-1V633.2h-1V633.2h-1V633.1h-1V633.4h-1V633.4h-1V633.3h-1V633.3h-1V633.1h-1V633.2h-1V633.2h-1V633.2h-1V633.1h-1V633.1h-1V633.1h-1V633.2h-1V633.3h-1V633.2h-1V633.4h-1V633.4h-1V633.2h-1V633.2h-1V633.1h-1V633.1h-1V632.8h-1V632.9h-1V632.5h-1V632.3h-1V630.4h-1V630.4h-1V630.1h-1V629.5h-1V630.0h-1V629.6h-1V627.8h-1V627.3h-1V626.9h-1V626.6h-1V626.6h-1V626.9h-1V627.0h-1V627.6h-1V630.1h-1V632.3h-1V631.9h-1V632.1h-1V632.3h-1V632.2h-1V632.0h-1V631.5h-1V631.8h-1V631.6h-1V630.2h-1V630.1h-1V629.5h-1V629.6h-1V629.4h-1V629.6h-1V628.7h-1V628.9h-1V629.0h-1V628.9h-1V628.0h-1V627.9h-1V628.3h-1V627.8h-1V627.1h-1V626.8h-1V630.0h-1V630.1h-1V631.9h-1V631.8h-1V631.9h-1V631.8h-1V631.8h-1V631.5h-1V631.4h-1V631.5h-1V631.5h-1V631.5h-1V632.4h-1V633.2h-1V633.3h-1V633.2h-1V633.5h-1V633.5h-1V633.4h-1V633.3h-1V633.2h-1V633.2h-1V633.5h-1V633.1h-1V633.3h-1V633.1h-1V633.5h-1V633.4h-1V633.4h-1V633.1h-1V633.1h-1V633.3h-1V633.4h-1V633.2h-1V633.1h-1V633.4h-1V633.4h-1V633.4h-1V633.4h-1V633.3h-1V633.3h-1V633.2h-1V633.3h-1V633.5h-1V633.2h-1V633.4h-1V633.4h-1V633.2h-1V633.3h-1V632.9h-1V631.1h-1V629.4h-1V626.5h-1V625.5h-1V626.2h-1V626.0h-1V627.7h-1V626.1h-1V628.0h-1V629.7h-1V628.9h-1V629.6h-1V628.3h-1V627.9h-1V629.7h-1V629.9h-1V629.5h-1V627.5h-1V628.2h-1V629.5h-1V631.4h-1V631.4h-1V631.7h-1V631.5h-1V631.2h-1V630.4h-1V629.4h-1V629.1h-1V627.6h-1V627.3h-1V628.2h-1V628.1h-1V626.9h-1V625.6h-1V625.7h-1V626.7h-1V623.5h-1V625.6h-1V629.2h-1V633.2h-1V633.3h-1V633.3h-1V633.2h-1V633.2h-1V633.5h-1V633.4h-1V633.2h-1V633.3h-1V633.2h-1V633.3h-1V633.2h-1V633.4h-1V633.5h-1V633.1h-1V633.3h-1V633.2h-1V633.2h-1V633.2h-1V633.2h-1V633.2h-1V633.2h-1V633.3h-1V633.2h-1V633.2h-1V633.4h-1V633.4h-1V633.1h-1V633.3h-1V633.2h-1V633.5h-1V633.2h-1V633.3h-1V633.2h-1V633.3h-1V633.2h-1V633.4h-1V633.3h-1V633.2h-1V633.3h-1V633.4h-1V633.1h-1V633.4h-1V633.1h-1V633.2h-1V633.3h-1V633.4h-1V633.3h-1V633.3h-1V633.2h-1V633.4h-1V633.3h-1V633.4h-1V633.3h-1V633.4h-1V633.2h-1V633.1h-1V633.2h-1V633.2h-1V633.1h-1V632.6h-1V630.4h-1V627.2h-1V626.2h-1V626.0h-1V628.0h-1V626.3h-1V628.2h-1V627.8h-1V627.0h-1V628.5h-1V629.0h-1V629.2h-1V630.5h-1V633.3h-1V633.4h-1V633.4h-1V633.5h-1V633.3h-1Z" fill="#000" clip-path="url(#cp10)"/>
<path d="M136,633.3V633.3h1V633.5h1V633.4h1V633.4h1V633.3h1V631.4h1V630.1h1V629.9h1V629.4h1V627.9h1V628.7h1V629.1h1V627.2h1V628.9h1V626.9h1V627.1h1V628.1h1V631.3h1V632.6h1V633.1h1V633.2h1V633.2h1V633.1h1V633.2h1V633.4h1V633.3h1V633.4h1V633.3h1V633.4h1V633.2h1V633.3h1V633.3h1V633.4h1V633.3h1V633.2h1V633.1h1V633.4h1V633.1h1V633.4h1V633.3h1V633.2h1V633.3h1V633.4h1V633.2h1V633.3h1V633.2h1V633.3h1V633.2h1V633.5h1V633.1h1V633.3h1V633.1h1V633.4h1V633.4h1V633.2h1V633.2h1V633.3h1V633.2h1V633.2h1V633.2h1V633.2h1V633.1h1V633.2h1V633.3h1V633.1h1V633.5h1V633.4h1V633.2h1V633.3h1V633.1h1V633.3h1V633.2h1V633.4h1V633.5h1V633.1h1V633.2h1V633.3h1V633.3h1V633.2h1V629.2h1V625.6h1V623.5h1V626.7h1V625.7h1V625.6h1V626.9h1V628.1h1V628.2h1V627.3h1V627.6h1V629.1h1V629.4h1V630.4h1V631.2h1V631.5h1V631.7h1V631.4h1V631.4h1V629.5h1V628.2h1V627.5h1V629.5h1V629.9h1V629.7h1V627.9h1V628.3h1V629.6h1V628.9h1V629.7h1V628.0h1V626.1h1V627.7h1V626.0h1V626.2h1V625.5h1V626.5h1V629.4h1V631.1h1V632.9h1V633.3h1V633.2h1V633.4h1V633.4h1V633.2h1V633.5h1V633.3h1V633.2h1V633.3h1V633.3h1V633.4h1V633.4h1V633.4h1V633.4h1V633.1h1V633.2h1V633.4h1V633.3h1V633.1h1V633.1h1V633.4h1V633.4h1V633.5h1V633.1h1V633.3h1V633.1h1V633.5h1V633.2h1V633.2h1V633.3h1V633.4h1V633.5h1V633.5h1V633.2h1V633.3h1V633.2h1V632.4h1V631.5h1V631.5h1V631.5h1V631.4h1V631.5h1V631.8h1V631.8h1V631.9h1V631.8h1V631.9h1V631.0h1V630.9h1V627.7h1V628.0h1V628.7h1V629.2h1V628.8h1V628.9h1V629.8h1V629.9h1V629.8h1V629.6h1V630.5h1V630.3h1V630.5h1V630.4h1V631.0h1V631.1h1V631.6h1V631.8h1V631.5h1V632.0h1V632.2h1V632.3h1V632.1h1V631.9h1V632.3h1V631.0h1V628.5h1V627.9h1V627.8h1V627.5h1V627.5h1V627.8h1V628.2h1V628.7h1V630.5h1V630.9h1V630.4h1V631.0h1V631.3h1V631.3h1V632.3h1V632.5h1V632.9h1V632.8h1V633.1h1V633.1h1V633.2h1V633.2h1V633.4h1V633.4h1V633.2h1V633.3h1V633.2h1V633.1h1V633.1h1V633.1h1V633.2h1V633.2h1V633.2h1V633.1h1V633.3h1V633.3h1V633.4h1V633.4h1V633.1h1V633.2h1V633.2h1V633.3h1V633.1h1V633.5h1V633.1h1V633.2h1V633.5h1V633.3h1V633.2h1V633.3h1V633.5h1V633.5h1V633.2h1V633.4h1V633.2h1V633.4h1V633.2h1V633.4h1V633.2h1V633.4h1V633.1h1V633.1h1V633.4h1V633.4h1V633.4h1V633.4h1V633.4h1V633.3h1V633.2h1V633.4h1V633.2h1V633.3h1V633.0h1V632.3h1V632.2h1V632.6h1V632.6h1V632.3h1V632.6h1V632.4h1V632.5h1V632.5h1V632.0h1V632.1h1V632.2h1V631.9h1V632.3h1V632.3h1V632.6h1V632.5h1V632.3h1V632.3h1V632.3h1V632.0h1V632.5h1V632.6h1V632.2h1V632.4h1V633.0h1V633.4h1V633.2h1V633.5h1V633.5h1V633.3h1V633.5h1V633.2h1V633.2h1V633.2h1V633.5h1V633.2h1V633.4h1V633.1h1V633.4h1V633.1h1V633.1h1V633.2h1V633.4h1V633.4h1V633.4h1V633.2h1V632.5h1V632.3h1V632.2h1V632.2h1V632.0h1V632.1h1V632.4h1V632.1h1V631.9h1V632.5h1V632.6h1V632.1h1V632.6h1V632.3h1V632.6h1V632.6h1V632.3h1V632.4h1V632.1h1V632.6h1V632.0h1V632.5h1V630.3h1V628.0h1V624.8h1V627.8h1V630.0h1V629.8h1V629.8h1V629.3h1V628.8h1V628.1h1V628.8h1V629.3h1V628.8h1V627.2h1V628.2h1V626.7h1V626.7h1V627.7h1V629.7h1V630.1h1V630.0h1V630.9h1V630.0h1V631.1h1V630.5h1V630.0h1V630.9h1V630.1h1V630.1h1V630.5h1V630.3h1V629.8h1V626.9h1V623.3h1V623.5h1V622.4h1V623.8h1V624.8h1V625.0h1V626.5h1V627.0h1V628.7h1V628.3h1V628.2h1V628.6h1V629.3h1V630.7h1V630.3h1V630.8h1V631.0h1V631.1h1V631.0h1V631.4h1V631.7h1V631.4h1V631.9h1V632.4h1V632.1h1V632.3h1V632.4h1V632.4h1V632.0h1V631.8h1V632.0h1V632.3h1V632.5h1V632.4h1V631.6h1V631.6h1V632.4h1V631.9h1V631.8h1V632.1h1V631.5h1V632.0h1V631.7h1V632.2h1V631.6h1V631.4h1V631.9h1V632.1h1V631.2h1V631.8h1V631.3h1V631.1h1V631.4h1V631.1h1V631.3h1V631.2h1V630.4h1V630.2h1V630.2h1V630.9h1V631.6h1V631.3h1V632.2h1V632.1h1V632.5h1V632.3h1V632.4h1V631.8h1V632.2h1V632.2h1V632.1h1V631.6h1V632.0h1V631.2h1V631.6h1V631.9h1V631.3h1V631.6h1V631.5h1V631.4h1V631.6h1V632.2h1V632.5h1V632.1h1V632.6h1V632.4h1V635.3h-1V635.3h-1V635.3h-1V635.3h-1V635.3h-1V635.3h-1V635.3h-1V635.3h-1V635.3h-1V635.3h-1V635.3h-1V635.3h-1V635.3h-1V635.3h-1V635.3h-1V635.3h-1V635.3h-1V635.3h-1V635.3h-1V635.3h-1V635.3h-1V635.3h-1V635.3h-1V635.3h-1V635.3h-1V635.3h-1V635.3h-1V635.3h-1V635.3h-1V635.3h-1V635.3h-1V635.3h-1V635.3h-1V635.3h-1V635.3h-1V635.3h-1V635.3h-1V635.3h-1V635.3h-1V635.3h-1V635.3h-1V635.3h-1V635.3h-1V635.3h-1V635.3h-1V635.3h-1V635.3h-1V635.3h-1V635.3h-1V635.3h-1V635.3h-1V635.3h-1V635.3h-1V635.3h-1V635.3h-1V635.3h-1V635.3h-1V635.3h-1V635.3h-1V635.3h-1V635.3h-1V635.3h-1V635.3h-1V635.3h-1V635.3h-1V635.3h-1V635.3h-1V635.3h-1V635.3h-1V635.3h-1V635.3h-1V635.3h-1V635.3h-1V632.3h-1V631.6h-1V631.2h-1V631.3h-1V631.7h-1V630.0h-1V629.5h-1V628.0h-1V627.8h-1V626.8h-1V625.4h-1V626.5h-1V626.3h-1V629.9h-1V632.8h-1V635.3h-1V635.3h-1V635.3h-1V635.3h-1V635.3h-1V635.3h-1V635.3h-1V635.3h-1V635.3h-1V635.3h-1V635.3h-1V635.3h-1V632.7h-1V630.7h-1V629.7h-1V629.7h-1V631.2h-1V630.2h-1V631.8h-1V632.3h-1V631.8h-1V631.1h-1V631.8h-1V632.3h-1V635.3h-1V632.8h-1V635.3h-1V630.8h-1V627.8h-1V631.0h-1V635.3h-1V635.3h-1V635.3h-1V635.3h-1V635.3h-1V635.3h-1V635.3h-1V635.3h-1V635.3h-1V635.3h-1V635.3h-1V635.3h-1V635.3h-1V635.3h-1V635.3h-1V635.3h-1V635.3h-1V635.3h-1V635.3h-1V635.3h-1V635.3h-1V635.3h-1V635.3h-1V635.3h-1V635.3h-1V635.3h-1V635.3h-1V635.3h-1V635.3h-1V635.3h-1V635.3h-1V635.3h-1V635.3h-1V635.3h-1V635.3h-1V635.3h-1V635.3h-1V635.3h-1V635.3h-1V635.3h-1V635.3h-1V635.3h-1V635.3h-1V635.3h-1V635.3h-1V635.3h-1V635.3h-1V635.3h-1V635.3h-1V635.3h-1V635.3h-1V635.3h-1V635.3h-1V635.3h-1V635.3h-1V635.3h-1V635.3h-1V635.3h-1V635.3h-1V635.3h-1V635.3h-1V635.3h-1V635.3h-1V635.3h-1V635.3h-1V635.3h-1V635.3h-1V635.3h-1V635.3h-1V635.3h-1V635.3h-1V635.3h-1V635.3h-1V635.3h-1V635.3h-1V635.3h-1V635.3h-1V635.3h-1V635.3h-1V635.3h-1V635.3h-1V635.3h-1V635.3h-1V635.3h-1V635.3h-1V635.3h-1V635.3h-1V635.3h-1V635.3h-1V635.3h-1V635.3h-1V635.3h-1V635.3h-1V635.3h-1V635.3h-1V635.3h-1V635.3h-1V635.3h-1V635.3h-1V635.3h-1V635.3h-1V635.3h-1V635.3h-1V635.3h-1V635.3h-1V635.3h-1V635.3h-1V635.3h-1V635.3h-1V635.3h-1V635.3h-1V635.3h-1V635.3h-1V635.3h-1V635.3h-1V635.3h-1V635.3h-1V635.3h-1V635.3h-1V635.3h-1V635.3h-1V635.3h-1V635.3h-1V635.3h-1V635.3h-1V635.3h-1V635.3h-1V635.3h-1V635.3h-1V635.3h-1V635.3h-1V635.3h-1V635.3h-1V635.3h-1V635.3h-1V631.7h-1V631.2h-1V630.8h-1V630.5h-1V630.5h-1V630.8h-1V630.9h-1V631.5h-1V635.3h-1V635.3h-1V635.3h-1V635.3h-1V635.3h-1V635.3h-1V635.3h-1V635.3h-1V635.3h-1V635.3h-1V635.3h-1V635.3h-1V635.3h-1V635.3h-1V635.3h-1V635.3h-1V632.6h-1V632.8h-1V635.3h-1V632.8h-1V631.9h-1V631.8h-1V632.2h-1V631.7h-1V631.0h-1V630.7h-1V635.3h-1V635.3h-1V635.3h-1V635.3h-1V635.3h-1V635.3h-1V635.3h-1V635.3h-1V635.3h-1V635.3h-1V635.3h-1V635.3h-1V635.3h-1V635.3h-1V635.3h-1V635.3h-1V635.3h-1V635.3h-1V635.3h-1V635.3h-1V635.3h-1V635.3h-1V635.3h-1V635.3h-1V635.3h-1V635.3h-1V635.3h-1V635.3h-1V635.3h-1V635.3h-1V635.3h-1V635.3h-1V635.3h-1V635.3h-1V635.3h-1V635.3h-1V635.3h-1V635.3h-1V635.3h-1V635.3h-1V635.3h-1V635.3h-1V635.3h-1V635.3h-1V635.3h-1V635.3h-1V635.3h-1V635.3h-1V635.3h-1V635.3h-1V635.3h-1V635.3h-1V635.3h-1V635.3h-1V635.3h-1V635.3h-1V635.3h-1V635.3h-1V635.3h-1V635.3h-1V635.3h-1V635.3h-1V635.3h-1V635.3h-1V635.3h-1V635.3h-1V635.3h-1V635.3h-1V635.3h-1V635.3h-1V635.3h-1V635.3h-1V635.3h-1V635.3h-1V635.3h-1V635.3h-1V635.3h-1V635.3h-1V635.3h-1V635.3h-1V635.3h-1V635.3h-1V635.3h-1V635.3h-1V635.3h-1V635.3h-1V635.3h-1V635.3h-1V635.3h-1V635.3h-1V635.3h-1V635.3h-1V635.3h-1V635.3h-1V635.3h-1V635.3h-1V635.3h-1V635.3h-1V635.3h-1V635.3h-1V635.3h-1V635.3h-1V635.3h-1V635.3h-1V635.3h-1V635.3h-1V635.3h-1V635.3h-1V635.3h-1V635.3h-1V635.3h-1V635.3h-1V635.3h-1V635.3h-1V635.3h-1V635.3h-1V635.3h-1V635.3h-1V635.3h-1V635.3h-1V635.3h-1V635.3h-1V635.3h-1V635.3h-1V635.3h-1V635.3h-1V635.3h-1V635.3h-1V635.3h-1V635.3h-1V635.3h-1V635.3h-1V635.3h-1V635.3h-1V635.3h-1V635.3h-1V635.3h-1V635.3h-1V635.3h-1V635.3h-1V635.3h-1V635.3h-1V635.3h-1V635.3h-1V635.3h-1V635.3h-1V635.3h-1V635.3h-1V635.3h-1V635.3h-1V635.3h-1V631.1h-1V630.1h-1V629.9h-1V631.9h-1V630.2h-1V632.1h-1V631.7h-1V630.9h-1V632.4h-1V635.3h-1V635.3h-1V635.3h-1V635.3h-1V635.3h-1V635.3h-1V635.3h-1V635.3h-1Z" fill="#ff0000" clip-path="url(#cp10)"/>
<path d="M135.1,684.8V680.8h0.9V680.8h1V681.9h1V682.4h1V682.4h1V682.2h1V682.7h1V682.8h1V682.7h1V682.7h1V681.3h1V679.4h1V678.2h1V677.8h1V678.6h1V678.7h1V678.4h1V676.3h1V675.3h1V676.1h1V678.9h1V681.1h1V669.8h1V673.4h1V672.9h1V676.2h1V674.8h1V677.0h1V676.8h1V676.1h1V676.4h1V677.5h1V677.5h1V678.5h1V678.4h1V678.2h1V678.4h1V676.6h1V678.2h1V678.3h1V679.4h1V679.8h1V680.7h1V680.7h1V681.8h1V682.5h1V682.2h1V682.7h1V682.6h1V682.7h1V682.3h1V682.3h1V682.6h1V682.3h1V682.4h1V682.8h1V682.6h1V682.8h1V682.7h1V682.3h1V679.4h1V654.6h1V659.7h1V664.8h1V665.7h1V675.4h1V682.5h1V682.5h1V682.2h1V682.7h1V682.7h1V682.7h1V682.3h1V682.8h1V682.5h1V682.4h1V682.6h1V682.5h1V682.7h1V682.5h1V678.4h1V668.9h1V656.0h1V664.0h1V654.7h1V663.1h1V661.4h1V648.0h1V660.2h1V664.4h1V670.6h1V670.6h1V666.0h1V671.6h1V669.6h1V667.0h1V673.6h1V676.1h1V674.0h1V672.8h1V675.8h1V676.0h1V676.2h1V676.3h1V677.9h1V678.3h1V678.5h1V679.0h1V679.7h1V680.7h1V679.7h1V679.5h1V679.4h1V678.5h1V679.5h1V677.7h1V678.8h1V679.4h1V679.6h1V679.3h1V680.6h1V681.6h1V682.6h1V682.6h1V682.5h1V682.3h1V682.8h1V682.2h1V682.6h1V682.4h1V682.3h1V682.2h1V682.4h1V682.3h1V682.2h1V682.7h1V681.1h1V680.1h1V679.5h1V678.9h1V679.4h1V680.3h1V679.9h1V681.1h1V680.9h1V681.7h1V682.3h1V682.2h1V681.7h1V682.0h1V680.7h1V680.8h1V680.4h1V679.5h1V679.1h1V678.9h1V679.7h1V679.6h1V679.3h1V679.5h1V680.3h1V681.0h1V680.0h1V681.1h1V680.6h1V680.5h1V680.1h1V680.7h1V668.7h1V679.9h1V679.1h1V679.9h1V680.3h1V680.0h1V679.3h1V678.3h1V679.3h1V679.1h1V677.2h1V676.7h1V676.3h1V675.8h1V674.9h1V676.4h1V676.9h1V675.9h1V676.3h1V675.1h1V673.1h1V673.3h1V669.0h1V661.9h1V653.7h1V653.2h1V645.1h1V644.7h1V649.9h1V646.7h1V653.8h1V649.6h1V655.1h1V655.0h1V650.4h1V652.3h1V653.0h1V665.4h1V673.8h1V672.5h1V672.7h1V674.2h1V677.0h1V675.9h1V678.6h1V678.3h1V679.3h1V680.2h1V681.2h1V681.3h1V682.0h1V682.5h1V682.6h1V682.2h1V682.5h1V682.7h1V682.5h1V682.3h1V682.6h1V682.8h1V682.4h1V682.8h1V682.5h1V682.5h1V682.7h1V682.6h1V682.7h1V682.5h1V682.5h1V682.7h1V682.7h1V682.4h1V682.4h1V682.4h1V682.7h1V682.5h1V682.5h1V682.5h1V682.4h1V682.7h1V682.3h1V682.8h1V682.3h1V682.5h1V682.7h1V682.5h1V682.7h1V682.5h1V682.3h1V682.2h1V681.2h1V681.2h1V681.5h1V680.7h1V681.2h1V680.0h1V679.8h1V679.7h1V680.6h1V679.1h1V679.8h1V679.0h1V679.1h1V677.0h1V676.9h1V674.7h1V668.4h1V668.4h1V661.5h1V662.9h1V655.7h1V660.7h1V667.1h1V669.0h1V678.0h1V680.0h1V681.2h1V667.9h1V662.6h1V658.6h1V657.4h1V660.0h1V661.5h1V659.6h1V662.0h1V662.3h1V662.3h1V659.7h1V660.8h1V663.7h1V671.3h1V674.8h1V678.1h1V679.2h1V669.4h1V650.0h1V642.0h1V654.3h1V666.2h1V672.7h1V678.9h1V680.8h1V679.8h1V679.8h1V681.0h1V680.7h1V680.5h1V680.0h1V679.8h1V677.5h1V676.2h1V675.9h1V674.7h1V672.8h1V673.6h1V673.3h1V673.6h1V672.8h1V676.2h1V675.5h1V674.7h1V670.6h1V666.3h1V667.2h1V657.9h1V669.1h1V677.9h1V681.4h1V680.7h1V681.7h1V681.6h1V675.5h1V661.2h1V680.5h1V680.0h1V678.3h1V677.2h1V674.8h1V674.2h1V674.1h1V673.8h1V673.7h1V674.5h1V675.0h1V672.0h1V667.9h1V664.4h1V651.2h1V663.7h1V662.7h1V661.8h1V669.6h1V673.0h1V673.5h1V674.1h1V672.9h1V675.5h1V673.6h1V667.8h1V653.8h1V651.8h1V649.1h1V651.8h1V646.6h1V647.2h1V647.2h1V647.0h1V649.7h1V645.5h1V648.2h1V646.4h1V650.6h1V652.9h1V655.9h1V664.4h1V662.9h1V661.4h1V666.3h1V669.7h1V669.9h1V667.6h1V672.1h1V669.9h1V672.1h1V673.8h1V671.5h1V674.0h1V673.1h1V674.3h1V675.2h1V675.8h1V674.3h1V674.9h1V673.9h1V673.6h1V675.7h1V674.5h1V674.6h1V676.7h1V677.4h1V676.1h1V677.2h1V677.3h1V676.5h1V677.5h1V677.5h1V676.2h1V677.4h1V676.9h1V676.3h1V677.9h1V676.6h1V677.8h1V677.1h1V676.9h1V678.4h1V678.9h1V678.2h1V678.6h1V679.1h1V678.7h1V678.8h1V679.3h1V677.2h1V678.5h1V677.2h1V676.4h1V676.7h1V678.0h1V677.9h1V679.2h1V677.8h1V678.2h1V678.6h1V678.7h1V678.4h1V678.8h1V678.6h1V678.7h1V679.4h1V680.0h1V678.1h1V678.9h1V678.2h1V678.7h1V679.4h1V680.1h1V680.0h1h0.9V684.8Z" fill="#000" clip-path="url(#cp11)"/>
<path d="M135.1,684.8V682.6h0.9V682.6h1V682.4h1V682.1h1V682.2h1V682.2h1V682.3h1V681.7h1V682.1h1V681.7h1V681.5h1V681.8h1V682.0h1V681.6h1V681.8h1V682.0h1V681.8h1V681.8h1V681.7h1V681.7h1V681.4h1V680.6h1V680.4h1V680.4h1V680.8h1V681.0h1V682.3h1V682.2h1V682.3h1V682.4h1V682.3h1V682.2h1V682.1h1V682.3h1V682.3h1V682.5h1V682.4h1V682.0h1V682.6h1V682.2h1V682.4h1V682.5h1V682.6h1V682.6h1V682.7h1V682.4h1V682.4h1V682.7h1V682.6h1V682.4h1V682.5h1V682.8h1V682.3h1V682.2h1V682.7h1V682.5h1V682.2h1V682.5h1V682.3h1V682.2h1V682.4h1V676.6h1V672.1h1V673.7h1V678.4h1V681.0h1V682.8h1V682.7h1V682.4h1V682.4h1V682.3h1V682.3h1V682.2h1V682.6h1V682.2h1V682.5h1V682.7h1V682.6h1V682.5h1V682.2h1V679.8h1V675.2h1V674.5h1V676.0h1V674.8h1V673.7h1V673.5h1V674.7h1V675.0h1V677.0h1V678.8h1V678.1h1V676.9h1V676.8h1V677.6h1V678.3h1V678.7h1V679.5h1V679.5h1V679.6h1V680.1h1V680.6h1V681.2h1V681.1h1V681.5h1V681.8h1V681.7h1V681.5h1V682.4h1V682.3h1V681.9h1V682.0h1V681.9h1V682.3h1V682.3h1V681.7h1V682.2h1V682.1h1V682.4h1V682.0h1V681.9h1V681.8h1V682.1h1V681.8h1V682.1h1V682.2h1V682.3h1V681.9h1V681.8h1V682.2h1V682.0h1V682.3h1V682.1h1V682.3h1V681.8h1V682.0h1V682.1h1V682.3h1V682.3h1V681.7h1V682.1h1V681.9h1V682.0h1V682.1h1V681.8h1V681.8h1V682.0h1V681.8h1V681.8h1V681.7h1V682.1h1V681.7h1V681.7h1V682.2h1V682.3h1V682.2h1V681.9h1V681.9h1V682.4h1V682.2h1V682.2h1V682.3h1V682.2h1V681.7h1V682.3h1V681.5h1V680.8h1V681.1h1V680.7h1V680.9h1V681.4h1V682.1h1V682.1h1V681.9h1V682.2h1V681.8h1V681.9h1V681.8h1V682.2h1V681.9h1V681.9h1V682.4h1V681.8h1V682.4h1V682.3h1V681.5h1V681.1h1V680.7h1V680.2h1V679.7h1V678.3h1V676.4h1V674.3h1V674.4h1V674.2h1V673.8h1V671.8h1V672.8h1V675.4h1V674.3h1V675.0h1V672.9h1V676.5h1V677.1h1V675.8h1V678.5h1V678.1h1V679.9h1V679.1h1V680.0h1V681.0h1V681.8h1V681.2h1V681.4h1V681.7h1V681.8h1V681.8h1V682.3h1V682.4h1V682.2h1V681.8h1V681.7h1V681.8h1V681.8h1V682.3h1V682.2h1V681.8h1V682.0h1V682.0h1V682.3h1V681.9h1V681.8h1V682.0h1V681.9h1V682.0h1V681.8h1V682.2h1V682.1h1V682.2h1V682.2h1V682.4h1V682.0h1V682.1h1V682.3h1V682.3h1V681.8h1V682.4h1V682.2h1V682.4h1V682.2h1V682.3h1V682.3h1V681.7h1V681.8h1V682.0h1V681.9h1V682.3h1V682.2h1V681.9h1V682.1h1V682.2h1V682.3h1V682.2h1V682.1h1V681.9h1V682.0h1V681.9h1V682.1h1V682.2h1V682.4h1V682.3h1V681.9h1V681.2h1V678.4h1V677.0h1V677.1h1V675.5h1V674.2h1V672.7h1V675.0h1V680.3h1V681.5h1V682.1h1V681.8h1V680.5h1V677.6h1V675.8h1V675.1h1V674.3h1V673.7h1V675.2h1V675.2h1V676.1h1V675.2h1V677.2h1V674.8h1V675.8h1V676.3h1V678.6h1V679.3h1V680.8h1V681.0h1V677.7h1V670.9h1V669.7h1V668.0h1V675.7h1V678.8h1V680.5h1V681.9h1V681.7h1V682.0h1V681.7h1V682.3h1V682.1h1V682.3h1V682.1h1V681.3h1V680.7h1V681.5h1V681.4h1V680.8h1V680.7h1V681.2h1V681.1h1V681.4h1V681.0h1V681.1h1V681.6h1V680.9h1V680.0h1V679.3h1V679.0h1V680.4h1V681.3h1V682.0h1V681.8h1V682.3h1V682.0h1V678.6h1V678.4h1V681.5h1V681.6h1V681.2h1V681.3h1V681.1h1V681.7h1V681.5h1V680.9h1V680.8h1V681.4h1V680.9h1V680.8h1V681.6h1V678.7h1V675.9h1V675.9h1V676.9h1V678.5h1V680.0h1V680.5h1V680.1h1V679.9h1V680.0h1V680.6h1V681.0h1V677.7h1V674.7h1V670.7h1V670.2h1V669.3h1V671.5h1V666.7h1V667.1h1V672.8h1V675.4h1V673.3h1V675.7h1V677.5h1V677.8h1V678.3h1V678.7h1V677.8h1V678.9h1V679.7h1V680.2h1V680.2h1V680.2h1V679.6h1V679.6h1V680.8h1V680.3h1V681.0h1V680.9h1V680.7h1V680.9h1V681.1h1V681.9h1V681.9h1V681.8h1V682.2h1V681.8h1V682.1h1V681.8h1V682.1h1V682.2h1V681.7h1V682.1h1V681.9h1V682.0h1V682.3h1V682.0h1V682.4h1V682.1h1V682.2h1V681.9h1V682.3h1V682.0h1V682.4h1V682.1h1V681.7h1V682.0h1V681.8h1V682.2h1V682.4h1V682.4h1V682.1h1V682.2h1V682.0h1V681.9h1V682.0h1V681.8h1V682.2h1V681.8h1V682.0h1V682.0h1V681.8h1V682.2h1V682.0h1V681.9h1V681.9h1V681.9h1V682.0h1V682.2h1V682.1h1V682.1h1V681.8h1V682.3h1V681.8h1V681.8h1V681.8h1V682.3h1V681.9h1V682.4h1V682.3h1V682.0h1h0.9V684.8Z" fill="#ff0000" clip-path="url(#cp11)" stroke="#fff" stroke-width="1.4" paint-order="stroke" stroke-linejoin="miter"/>
<path d="M135.1,734.6V732.5h0.9V732.5h1V732.8h1V732.6h1V732.8h1V732.8h1V732.6h1V732.6h1V732.9h1V732.5h1V732.5h1V732.6h1V732.5h1V732.7h1V732.6h1V732.6h1V732.7h1V732.7h1V732.7h1V732.8h1V732.7h1V732.7h1V732.6h1V732.8h1V732.6h1V732.7h1V732.6h1V732.6h1V732.6h1V732.7h1V732.8h1V732.8h1V732.7h1V732.5h1V732.7h1V732.6h1V732.8h1V732.8h1V732.9h1V732.7h1V732.5h1V732.7h1V732.8h1V732.8h1V732.6h1V732.7h1V732.5h1V732.5h1V732.8h1V732.9h1V732.8h1V732.6h1V732.8h1V732.8h1V732.6h1V732.8h1V732.5h1V732.8h1V732.8h1V732.7h1V732.7h1V732.5h1V732.8h1V732.6h1V732.7h1V732.7h1V732.6h1V732.6h1V732.9h1V732.8h1V732.6h1V732.8h1V732.8h1V732.5h1V732.8h1V732.6h1V732.6h1V732.7h1V732.7h1V732.6h1V732.5h1V732.8h1V732.5h1V732.6h1V732.5h1V732.7h1V732.6h1V732.7h1V732.6h1V732.6h1V732.6h1V732.7h1V732.7h1V732.6h1V732.6h1V732.7h1V732.8h1V732.8h1V732.8h1V732.7h1V732.7h1V732.7h1V732.8h1V732.7h1V732.8h1V732.8h1V732.7h1V732.7h1V732.7h1V732.8h1V732.9h1V732.7h1V732.9h1V732.9h1V732.7h1V732.7h1V732.8h1V732.6h1V732.8h1V732.8h1V732.8h1V732.6h1V732.6h1V732.7h1V732.5h1V732.8h1V732.7h1V732.8h1V732.8h1V732.5h1V732.7h1V732.5h1V732.8h1V732.8h1V732.6h1V732.7h1V732.6h1V732.7h1V732.8h1V732.8h1V732.7h1V732.9h1V732.6h1V732.5h1V732.5h1V732.6h1V732.9h1V732.7h1V732.7h1V732.6h1V732.5h1V732.6h1V732.7h1V732.8h1V732.8h1V732.8h1V732.8h1V732.8h1V732.6h1V732.8h1V732.7h1V732.7h1V732.8h1V732.8h1V732.7h1V732.8h1V732.8h1V732.8h1V732.6h1V732.6h1V732.6h1V732.5h1V732.7h1V732.7h1V732.7h1V732.8h1V732.7h1V732.7h1V732.6h1V732.7h1V732.8h1V732.7h1V732.8h1V732.6h1V732.7h1V732.8h1V732.6h1V732.6h1V732.5h1V732.8h1V732.7h1V732.8h1V732.5h1V732.8h1V732.5h1V732.7h1V732.7h1V732.7h1V732.7h1V732.5h1V732.8h1V732.6h1V732.6h1V732.5h1V732.5h1V732.7h1V732.6h1V732.7h1V732.7h1V732.8h1V732.6h1V732.6h1V732.6h1V732.7h1V732.6h1V732.6h1V732.8h1V732.5h1V732.6h1V732.7h1V732.5h1V732.7h1V732.8h1V732.5h1V732.5h1V732.8h1V732.6h1V732.8h1V732.7h1V732.6h1V732.7h1V732.8h1V732.8h1V732.9h1V732.9h1V732.8h1V732.8h1V732.6h1V732.6h1V732.6h1V732.6h1V732.7h1V732.6h1V732.8h1V732.6h1V732.6h1V732.8h1V732.5h1V732.7h1V732.8h1V732.6h1V732.9h1V732.7h1V732.9h1V732.8h1V732.7h1V732.7h1V732.7h1V732.9h1V732.6h1V732.6h1V732.9h1V732.6h1V732.8h1V732.8h1V732.6h1V732.5h1V732.6h1V732.2h1V732.4h1V732.2h1V731.6h1V731.5h1V730.0h1V729.9h1V730.5h1V729.9h1V729.1h1V728.3h1V728.4h1V727.1h1V725.0h1V722.0h1V717.2h1V719.2h1V723.2h1V728.6h1V718.3h1V706.0h1V698.6h1V695.3h1V690.8h1V695.4h1V695.3h1V694.9h1V699.3h1V700.8h1V705.8h1V714.2h1V719.2h1V720.4h1V721.6h1V726.2h1V727.4h1V728.3h1V727.8h1V728.4h1V728.3h1V729.5h1V730.0h1V729.7h1V730.4h1V730.9h1V731.2h1V730.2h1V730.1h1V730.8h1V731.5h1V731.4h1V731.4h1V731.8h1V731.5h1V731.9h1V732.2h1V732.4h1V732.4h1V732.6h1V732.2h1V732.4h1V732.6h1V732.5h1V732.5h1V732.6h1V732.8h1V732.6h1V732.7h1V732.8h1V732.7h1V732.7h1V732.8h1V732.7h1V732.6h1V732.7h1V732.8h1V732.5h1V732.5h1V732.5h1V732.8h1V729.6h1V725.0h1V725.5h1V722.9h1V722.4h1V721.5h1V722.0h1V720.4h1V722.7h1V721.4h1V721.6h1V724.2h1V723.6h1V724.5h1V723.9h1V724.8h1V723.2h1V724.6h1V722.3h1V723.3h1V723.2h1V722.3h1V723.3h1V721.2h1V723.3h1V722.1h1V725.5h1V724.2h1V725.9h1V724.9h1V727.3h1V727.1h1V727.5h1V728.7h1V728.1h1V730.0h1V730.1h1V730.2h1V730.7h1V731.0h1V731.8h1V731.9h1V732.4h1V732.2h1V732.3h1V732.7h1V732.6h1V732.8h1V732.6h1V732.7h1V732.4h1V732.7h1V732.7h1V732.6h1V732.8h1V732.8h1V732.7h1V732.7h1V732.8h1V732.8h1V732.8h1V732.8h1V732.6h1V732.5h1V732.5h1V732.8h1V732.5h1V732.5h1V732.4h1V732.7h1V732.6h1V732.7h1V732.7h1V732.5h1V732.8h1V732.8h1V732.5h1V732.7h1V732.8h1V732.7h1V732.6h1V732.5h1V732.8h1V732.6h1V732.7h1V732.6h1V732.6h1V732.6h1V732.5h1V732.8h1V732.5h1V732.6h1V732.5h1V732.6h1V732.8h1V732.8h1V732.6h1V732.7h1V732.8h1V732.5h1V732.6h1V732.7h1V732.6h1V732.8h1V732.6h1V732.9h1V732.8h1V732.8h1h0.9V734.6Z" fill="#000" clip-path="url(#cp12)"/>
<path d="M135.1,734.6V733.1h0.9V733.1h1V733.2h1V733.2h1V733.2h1V733.2h1V733.2h1V733.2h1V733.2h1V733.1h1V733.2h1V733.2h1V733.2h1V733.1h1V733.2h1V733.2h1V733.2h1V733.2h1V733.2h1V733.1h1V733.2h1V733.1h1V733.1h1V733.2h1V733.2h1V733.2h1V733.2h1V733.2h1V733.2h1V733.1h1V733.2h1V733.2h1V733.1h1V733.2h1V733.2h1V733.2h1V733.2h1V733.1h1V733.2h1V733.1h1V733.2h1V733.2h1V733.2h1V733.2h1V733.1h1V733.1h1V733.2h1V733.2h1V733.1h1V733.2h1V733.2h1V733.1h1V733.1h1V733.2h1V733.1h1V733.2h1V733.2h1V733.2h1V733.2h1V733.2h1V733.2h1V733.2h1V733.2h1V733.2h1V733.2h1V733.2h1V733.2h1V733.2h1V733.2h1V733.2h1V733.2h1V733.1h1V733.2h1V733.2h1V733.1h1V733.2h1V733.1h1V733.2h1V733.1h1V733.2h1V733.1h1V733.2h1V733.2h1V733.1h1V733.2h1V733.2h1V733.2h1V733.2h1V733.2h1V733.1h1V733.2h1V733.1h1V733.2h1V733.1h1V733.2h1V733.2h1V733.2h1V733.2h1V733.2h1V733.1h1V733.2h1V733.2h1V733.1h1V733.2h1V733.2h1V733.2h1V733.1h1V733.2h1V733.2h1V733.2h1V733.2h1V733.2h1V733.2h1V733.2h1V733.1h1V733.2h1V733.1h1V733.2h1V733.2h1V733.2h1V733.1h1V733.1h1V733.2h1V733.1h1V733.2h1V733.2h1V733.2h1V733.2h1V733.2h1V733.2h1V733.1h1V733.1h1V733.2h1V733.1h1V733.2h1V733.1h1V733.2h1V733.2h1V733.2h1V733.2h1V733.1h1V733.2h1V733.2h1V733.2h1V733.2h1V733.1h1V733.2h1V733.2h1V733.2h1V733.2h1V733.1h1V733.2h1V733.2h1V733.2h1V733.1h1V733.2h1V733.2h1V733.2h1V733.1h1V733.1h1V733.1h1V733.1h1V733.2h1V733.2h1V733.2h1V733.2h1V733.2h1V733.1h1V733.1h1V733.1h1V733.1h1V733.2h1V733.1h1V733.2h1V733.1h1V733.2h1V733.2h1V733.1h1V733.2h1V733.1h1V733.2h1V733.2h1V733.2h1V733.1h1V733.2h1V733.2h1V733.2h1V733.2h1V733.2h1V733.2h1V733.2h1V733.2h1V733.2h1V733.2h1V733.2h1V733.2h1V733.2h1V733.2h1V733.2h1V733.2h1V733.1h1V733.2h1V733.1h1V733.2h1V733.2h1V733.1h1V733.2h1V733.2h1V733.2h1V733.2h1V733.2h1V733.2h1V733.2h1V733.2h1V733.2h1V733.2h1V733.2h1V733.1h1V733.2h1V733.2h1V733.1h1V733.1h1V733.2h1V733.2h1V733.1h1V733.2h1V733.2h1V733.1h1V733.2h1V733.2h1V733.2h1V733.2h1V733.1h1V733.2h1V733.2h1V733.2h1V733.2h1V733.2h1V733.2h1V733.1h1V733.2h1V733.1h1V733.2h1V733.2h1V733.2h1V733.1h1V733.2h1V733.2h1V733.2h1V733.2h1V733.1h1V733.1h1V733.2h1V733.2h1V733.1h1V733.2h1V733.2h1V733.2h1V733.2h1V733.2h1V733.2h1V733.2h1V733.2h1V733.2h1V733.2h1V733.2h1V733.2h1V733.2h1V733.2h1V733.2h1V733.1h1V732.8h1V732.8h1V732.5h1V732.5h1V731.9h1V731.3h1V730.9h1V730.4h1V729.6h1V728.7h1V727.0h1V725.6h1V724.7h1V724.4h1V726.0h1V728.4h1V723.3h1V714.1h1V709.2h1V706.4h1V705.8h1V698.0h1V694.9h1V704.4h1V707.9h1V712.7h1V716.1h1V721.5h1V725.1h1V725.2h1V726.2h1V727.2h1V728.4h1V728.6h1V729.0h1V730.1h1V730.5h1V731.0h1V730.8h1V731.2h1V731.7h1V731.7h1V731.6h1V732.1h1V732.1h1V732.2h1V732.5h1V732.4h1V732.5h1V732.8h1V732.9h1V732.9h1V733.0h1V732.9h1V733.0h1V732.9h1V733.1h1V733.0h1V733.1h1V733.1h1V733.1h1V733.1h1V733.0h1V733.0h1V733.1h1V733.1h1V733.0h1V733.0h1V733.0h1V733.1h1V733.2h1V733.1h1V733.2h1V733.2h1V733.2h1V733.2h1V733.2h1V732.3h1V730.9h1V729.8h1V729.4h1V728.3h1V728.8h1V727.3h1V728.0h1V726.8h1V727.0h1V727.9h1V728.2h1V729.5h1V729.4h1V728.8h1V729.4h1V729.1h1V728.7h1V728.8h1V728.0h1V727.9h1V728.7h1V727.5h1V728.4h1V728.3h1V728.6h1V728.6h1V728.8h1V729.4h1V728.9h1V729.3h1V729.4h1V730.4h1V730.2h1V730.8h1V731.4h1V732.4h1V732.6h1V733.0h1V733.2h1V733.1h1V733.2h1V733.2h1V733.2h1V733.2h1V733.1h1V733.2h1V733.2h1V733.2h1V733.2h1V733.2h1V733.1h1V733.1h1V733.2h1V733.1h1V733.1h1V733.1h1V733.1h1V733.2h1V733.1h1V733.1h1V733.2h1V733.2h1V733.1h1V733.2h1V733.2h1V733.2h1V733.2h1V733.2h1V733.2h1V733.2h1V733.1h1V733.2h1V733.2h1V733.1h1V733.1h1V733.2h1V733.2h1V733.2h1V733.1h1V733.2h1V733.2h1V733.2h1V733.2h1V733.2h1V733.2h1V733.2h1V733.2h1V733.2h1V733.2h1V733.2h1V733.2h1V733.2h1V733.2h1V733.2h1V733.2h1V733.1h1V733.2h1V733.1h1V733.2h1V733.2h1V733.1h1V733.1h1V733.2h1V733.1h1V733.2h1V733.2h1V733.2h1h0.9V734.6Z" fill="#ff0000" clip-path="url(#cp12)"/>
<path d="M135.1,784.4V758.4h0.9V758.4h1V754.9h1V756.8h1V753.7h1V754.3h1V749.9h1V757.2h1V756.0h1V752.0h1V758.7h1V754.6h1V754.2h1V750.4h1V751.7h1V756.9h1V756.8h1V756.5h1V755.6h1V751.6h1V752.2h1V749.5h1V754.0h1V756.9h1V753.1h1V752.4h1V758.2h1V755.2h1V750.5h1V757.4h1V758.1h1V757.4h1V757.9h1V751.7h1V758.4h1V753.3h1V747.0h1V752.9h1V753.4h1V759.2h1V756.6h1V758.0h1V755.4h1V751.2h1V755.1h1V754.3h1V756.7h1V754.0h1V757.6h1V751.4h1V752.4h1V754.2h1V745.0h1V751.6h1V757.8h1V756.2h1V752.5h1V758.3h1V745.0h1V756.8h1V757.9h1V757.2h1V751.6h1V751.5h1V759.5h1V755.9h1V737.8h1V752.7h1V751.5h1V756.3h1V753.9h1V757.9h1V754.2h1V754.2h1V749.2h1V755.1h1V752.6h1V752.2h1V758.7h1V758.3h1V755.4h1V750.2h1V751.8h1V754.6h1V759.1h1V757.4h1V752.5h1V755.9h1V751.5h1V753.0h1V753.2h1V757.7h1V753.0h1V743.8h1V757.1h1V757.8h1V758.1h1V754.4h1V751.7h1V757.0h1V748.9h1V751.4h1V758.7h1V752.2h1V752.7h1V755.4h1V758.1h1V743.8h1V757.4h1V757.3h1V757.0h1V758.2h1V757.1h1V752.6h1V759.1h1V750.6h1V757.6h1V758.4h1V757.7h1V757.6h1V754.4h1V757.7h1V751.0h1V759.0h1V755.4h1V757.3h1V755.7h1V758.8h1V758.5h1V759.7h1V750.9h1V752.9h1V753.8h1V756.2h1V758.9h1V758.8h1V747.2h1V752.0h1V753.8h1V751.8h1V751.7h1V757.5h1V758.1h1V743.8h1V751.7h1V755.6h1V755.5h1V752.0h1V757.9h1V748.0h1V759.6h1V757.9h1V752.3h1V758.6h1V756.9h1V755.7h1V758.4h1V747.0h1V751.4h1V752.9h1V755.4h1V751.5h1V753.3h1V751.8h1V759.0h1V748.4h1V757.6h1V754.7h1V756.1h1V756.3h1V759.3h1V753.0h1V748.2h1V751.6h1V754.6h1V756.2h1V751.5h1V752.4h1V759.7h1V755.4h1V749.7h1V758.6h1V757.6h1V752.0h1V752.4h1V759.2h1V757.5h1V751.1h1V755.7h1V756.7h1V758.0h1V759.5h1V755.8h1V756.9h1V751.2h1V757.7h1V752.7h1V757.4h1V751.6h1V756.4h1V751.4h1V754.4h1V744.3h1V758.6h1V753.7h1V758.0h1V756.2h1V755.5h1V758.6h1V750.5h1V752.3h1V752.6h1V757.3h1V754.0h1V756.4h1V750.1h1V759.0h1V756.4h1V754.4h1V754.5h1V759.6h1V747.9h1V755.5h1V758.9h1V756.8h1V752.1h1V754.9h1V754.4h1V747.6h1V753.8h1V754.8h1V757.5h1V757.5h1V756.0h1V753.9h1V748.7h1V751.4h1V758.0h1V755.3h1V754.1h1V757.6h1V753.8h1V755.5h1V744.8h1V752.3h1V756.4h1V757.9h1V757.9h1V755.7h1V755.2h1V749.0h1V755.8h1V752.7h1V753.8h1V755.9h1V756.3h1V750.7h1V752.0h1V759.5h1V753.5h1V751.3h1V759.5h1V755.2h1V751.6h1V752.2h1V751.9h1V753.9h1V749.8h1V757.8h1V756.9h1V754.9h1V759.1h1V759.6h1V749.4h1V757.0h1V754.3h1V757.9h1V756.0h1V755.9h1V744.3h1V752.1h1V752.1h1V754.7h1V754.6h1V753.9h1V755.2h1V751.0h1V758.5h1V759.7h1V759.2h1V753.8h1V759.6h1V756.2h1V746.8h1V754.8h1V751.5h1V757.6h1V756.6h1V755.1h1V751.2h1V756.0h1V754.6h1V755.5h1V753.6h1V755.7h1V751.9h1V746.6h1V752.4h1V758.5h1V757.6h1V756.4h1V752.8h1V751.3h1V755.5h1V752.6h1V755.2h1V754.4h1V755.9h1V759.0h1V755.7h1V744.3h1V751.9h1V756.1h1V754.1h1V753.6h1V751.1h1V755.3h1V759.5h1V751.8h1V757.9h1V756.7h1V750.4h1V757.6h1V753.9h1V758.1h1V750.2h1V757.7h1V752.1h1V757.1h1V758.1h1V759.4h1V759.7h1V754.4h1V750.6h1V755.9h1V751.4h1V754.0h1V758.7h1V751.1h1V755.6h1V757.6h1V753.4h1V748.0h1V755.0h1V754.6h1V755.6h1V759.3h1V752.8h1V754.3h1V758.7h1V753.7h1V757.7h1V753.5h1V755.2h1V753.9h1V740.8h1V754.5h1V757.8h1V750.2h1V759.3h1V756.2h1V754.0h1V749.4h1V759.6h1V759.0h1V758.3h1V751.1h1V758.6h1V751.3h1V757.1h1V757.1h1V753.7h1V754.7h1V749.6h1V753.2h1V756.7h1V754.2h1V758.7h1V755.7h1V758.8h1V750.1h1V757.9h1V754.2h1V752.1h1V758.6h1V756.1h1V758.4h1V751.5h1V753.4h1V745.3h1V756.4h1V756.1h1V757.1h1V755.7h1V753.5h1V757.1h1V748.9h1V753.2h1V752.8h1V751.9h1V754.9h1V758.0h1V747.1h1V754.5h1V754.8h1V756.7h1V754.5h1V751.9h1V751.3h1V751.6h1V756.1h1V756.2h1V755.7h1V757.2h1V754.5h1V747.8h1V754.2h1V755.9h1V755.3h1V759.1h1V758.7h1V759.2h1V750.4h1V753.1h1V752.4h1V757.1h1V756.8h1V750.2h1V756.0h1V756.4h1V759.2h1V752.4h1V751.1h1V758.5h1V752.9h1V754.4h1V754.1h1V754.2h1V758.0h1V751.3h1V757.4h1V752.8h1V751.6h1V751.0h1V751.9h1V756.3h1h0.9V784.4Z" fill="#000" clip-path="url(#cp13)"/>
<path d="M135.1,784.4V758.6h0.9V758.6h1V762.1h1V759.0h1V762.0h1V760.5h1V763.1h1V760.6h1V758.8h1V757.4h1V757.7h1V757.8h1V762.3h1V760.9h1V760.5h1V762.0h1V758.6h1V761.9h1V760.5h1V762.4h1V757.4h1V759.8h1V759.5h1V762.3h1V762.4h1V763.0h1V762.3h1V758.4h1V761.5h1V757.5h1V760.8h1V757.9h1V762.4h1V760.2h1V759.8h1V757.8h1V762.0h1V759.1h1V758.9h1V757.3h1V761.5h1V761.6h1V757.4h1V761.4h1V760.3h1V761.0h1V762.7h1V762.2h1V759.2h1V759.2h1V757.9h1V757.6h1V761.1h1V763.2h1V758.3h1V759.5h1V761.5h1V759.2h1V762.6h1V758.7h1V761.6h1V759.6h1V760.1h1V760.8h1V762.0h1V762.6h1V759.5h1V761.0h1V760.4h1V762.0h1V761.8h1V760.0h1V760.0h1V757.5h1V762.1h1V762.9h1V760.1h1V757.8h1V763.1h1V760.6h1V762.2h1V760.7h1V761.8h1V759.1h1V760.2h1V757.7h1V757.7h1V762.4h1V758.5h1V761.9h1V760.1h1V762.2h1V757.3h1V758.7h1V761.6h1V762.8h1V758.5h1V760.9h1V761.8h1V757.5h1V762.4h1V758.9h1V763.4h1V762.9h1V759.5h1V760.0h1V760.0h1V761.7h1V759.9h1V758.9h1V759.4h1V759.9h1V763.3h1V758.0h1V762.6h1V762.3h1V759.6h1V760.5h1V761.4h1V759.2h1V763.4h1V759.7h1V758.6h1V760.7h1V759.8h1V761.8h1V761.1h1V762.4h1V762.3h1V759.6h1V759.8h1V763.5h1V759.0h1V761.7h1V762.8h1V760.9h1V759.2h1V762.2h1V759.9h1V762.6h1V759.0h1V759.9h1V761.5h1V758.9h1V760.2h1V758.5h1V759.5h1V761.4h1V762.2h1V762.6h1V762.7h1V757.4h1V759.1h1V760.9h1V759.1h1V757.4h1V758.2h1V763.5h1V761.7h1V760.7h1V759.0h1V761.1h1V759.8h1V762.3h1V757.8h1V760.9h1V760.7h1V760.1h1V761.3h1V759.7h1V761.7h1V761.6h1V763.6h1V758.2h1V760.5h1V762.6h1V763.2h1V762.3h1V762.4h1V763.5h1V760.6h1V760.9h1V762.9h1V762.2h1V762.5h1V760.8h1V760.7h1V759.7h1V759.5h1V763.4h1V760.2h1V763.2h1V760.9h1V763.3h1V759.1h1V761.9h1V759.4h1V762.1h1V760.4h1V761.4h1V763.3h1V762.9h1V761.6h1V757.9h1V757.6h1V757.9h1V763.2h1V762.8h1V762.3h1V760.7h1V762.4h1V760.0h1V757.4h1V763.2h1V759.3h1V757.7h1V761.8h1V761.2h1V759.4h1V761.2h1V761.4h1V758.7h1V758.9h1V761.9h1V762.7h1V761.2h1V760.9h1V763.5h1V762.1h1V763.5h1V763.1h1V759.6h1V760.9h1V761.0h1V757.9h1V763.6h1V758.8h1V761.5h1V758.7h1V760.4h1V759.3h1V758.3h1V760.0h1V762.0h1V758.6h1V758.3h1V760.2h1V760.7h1V761.1h1V761.4h1V758.3h1V762.9h1V758.8h1V763.2h1V757.8h1V758.2h1V760.8h1V759.7h1V757.6h1V758.1h1V758.9h1V759.6h1V757.6h1V762.9h1V759.0h1V761.4h1V763.6h1V760.8h1V760.0h1V758.5h1V760.0h1V759.3h1V763.6h1V761.4h1V760.2h1V762.2h1V758.1h1V758.1h1V762.4h1V761.1h1V762.5h1V762.8h1V759.9h1V758.8h1V758.9h1V762.9h1V760.9h1V760.3h1V757.5h1V760.5h1V763.6h1V758.6h1V762.0h1V761.8h1V760.8h1V761.8h1V757.7h1V758.7h1V760.9h1V761.3h1V758.1h1V762.4h1V759.2h1V758.5h1V759.7h1V758.8h1V761.9h1V761.3h1V761.7h1V758.8h1V760.1h1V763.2h1V761.8h1V761.7h1V762.0h1V760.3h1V758.8h1V761.1h1V761.9h1V757.7h1V761.0h1V762.5h1V757.5h1V763.2h1V757.5h1V758.8h1V758.4h1V763.6h1V762.3h1V760.0h1V763.1h1V758.4h1V762.5h1V758.6h1V761.9h1V762.0h1V760.9h1V761.8h1V759.2h1V763.4h1V761.3h1V759.6h1V760.1h1V762.2h1V758.5h1V759.4h1V759.1h1V762.0h1V760.8h1V758.6h1V761.2h1V760.2h1V759.1h1V755.0h1V747.9h1V740.8h1V739.2h1V742.6h1V741.8h1V748.0h1V748.0h1V746.7h1V738.4h1V745.7h1V749.3h1V753.7h1V761.2h1V757.9h1V761.4h1V763.0h1V760.1h1V762.5h1V762.2h1V758.8h1V762.4h1V758.2h1V760.2h1V757.5h1V763.6h1V758.7h1V757.8h1V762.7h1V758.6h1V759.7h1V763.0h1V758.0h1V759.1h1V763.1h1V762.1h1V761.3h1V758.0h1V761.3h1V757.7h1V759.9h1V763.5h1V759.1h1V762.4h1V760.7h1V762.8h1V763.5h1V762.9h1V760.2h1V762.1h1V761.8h1V760.1h1V759.2h1V757.9h1V760.8h1V757.8h1V761.0h1V761.3h1V761.0h1V761.9h1V763.5h1V759.0h1V757.7h1V761.0h1V760.4h1V761.5h1V760.6h1V760.1h1V762.8h1V763.4h1V763.1h1V763.0h1V761.8h1V761.4h1V762.0h1V757.3h1V758.5h1V758.3h1V759.2h1V762.1h1V762.7h1V759.9h1V762.6h1V761.0h1V761.4h1V762.0h1V759.7h1V763.3h1V762.6h1V758.3h1V760.1h1V761.0h1V761.6h1V763.2h1V759.6h1V758.6h1V763.1h1V757.4h1V761.4h1V758.2h1V758.4h1V761.2h1V758.5h1h0.9V784.4Z" fill="#ff0000" clip-path="url(#cp13)"/>
<rect x="138.00" y="801.30" width="1.00" height="7.30" fill="#ff0000"/>
<rect x="139.00" y="801.30" width="1.00" height="7.30" fill="#ff0000"/>
<rect x="140.00" y="801.30" width="1.00" height="7.30" fill="#ff0000"/>
<rect x="144.00" y="801.30" width="1.00" height="7.30" fill="#ff0000"/>
<rect x="146.00" y="801.30" width="1.00" height="7.30" fill="#ff0000"/>
<rect x="147.00" y="801.30" width="1.00" height="7.30" fill="#ff0000"/>
<rect x="149.00" y="801.30" width="1.00" height="7.30" fill="#ff0000"/>
<rect x="152.00" y="801.30" width="1.00" height="7.30" fill="#ff0000"/>
<rect x="155.00" y="801.30" width="1.00" height="7.30" fill="#ff0000"/>
<rect x="157.00" y="801.30" width="1.00" height="7.30" fill="#ff0000"/>
<rect x="158.00" y="801.30" width="1.00" height="7.30" fill="#ff0000"/>
<rect x="161.00" y="801.30" width="1.00" height="7.30" fill="#ff0000"/>
<rect x="164.00" y="801.30" width="1.00" height="7.30" fill="#ff0000"/>
<rect x="165.00" y="794.80" width="1.00" height="13.80" fill="#ff0000"/>
<rect x="168.50" y="801.30" width="1.00" height="7.30" fill="#ff0000"/>
<rect x="170.50" y="801.30" width="1.00" height="7.30" fill="#ff0000"/>
<rect x="171.50" y="801.30" width="1.00" height="7.30" fill="#ff0000"/>
<rect x="176.00" y="794.80" width="1.00" height="13.80" fill="#ff0000"/>
<rect x="178.00" y="801.30" width="1.00" height="7.30" fill="#ff0000"/>
<rect x="180.00" y="801.30" width="1.00" height="7.30" fill="#ff0000"/>
<rect x="183.00" y="801.30" width="1.00" height="7.30" fill="#ff0000"/>
<rect x="184.00" y="801.30" width="1.00" height="7.30" fill="#ff0000"/>
<rect x="185.00" y="801.30" width="1.00" height="7.30" fill="#ff0000"/>
<rect x="187.00" y="801.30" width="1.00" height="7.30" fill="#ff0000"/>
<rect x="189.00" y="801.30" width="1.00" height="7.30" fill="#ff0000"/>
<rect x="190.00" y="801.30" width="1.00" height="7.30" fill="#ff0000"/>
<rect x="191.50" y="801.30" width="1.00" height="7.30" fill="#ff0000"/>
<rect x="192.50" y="801.30" width="1.00" height="7.30" fill="#ff0000"/>
<rect x="194.50" y="801.30" width="1.00" height="7.30" fill="#ff0000"/>
<rect x="195.50" y="801.30" width="1.00" height="7.30" fill="#ff0000"/>
<rect x="196.50" y="801.30" width="1.00" height="7.30" fill="#ff0000"/>
<rect x="198.00" y="801.30" width="1.00" height="7.30" fill="#ff0000"/>
<rect x="200.00" y="801.30" width="1.00" height="7.30" fill="#ff0000"/>
<rect x="206.00" y="801.30" width="1.00" height="7.30" fill="#ff0000"/>
<rect x="211.50" y="801.30" width="1.00" height="7.30" fill="#ff0000"/>
<rect x="213.00" y="801.30" width="1.00" height="7.30" fill="#ff0000"/>
<rect x="216.00" y="801.30" width="1.00" height="7.30" fill="#ff0000"/>
<rect x="218.50" y="801.30" width="1.00" height="7.30" fill="#ff0000"/>
<rect x="219.50" y="801.30" width="1.00" height="7.30" fill="#ff0000"/>
<rect x="220.50" y="801.30" width="1.00" height="7.30" fill="#ff0000"/>
<rect x="223.50" y="801.30" width="1.00" height="7.30" fill="#ff0000"/>
<rect x="225.50" y="801.30" width="1.00" height="7.30" fill="#ff0000"/>
<rect x="226.50" y="801.30" width="1.00" height="7.30" fill="#ff0000"/>
<rect x="227.50" y="801.30" width="1.00" height="7.30" fill="#ff0000"/>
<rect x="228.50" y="801.30" width="1.00" height="7.30" fill="#ff0000"/>
<rect x="229.50" y="801.30" width="1.00" height="7.30" fill="#ff0000"/>
<rect x="235.50" y="801.30" width="1.00" height="7.30" fill="#ff0000"/>
<rect x="236.50" y="801.30" width="1.00" height="7.30" fill="#ff0000"/>
<rect x="238.50" y="801.30" width="1.00" height="7.30" fill="#ff0000"/>
<rect x="240.50" y="801.30" width="1.00" height="7.30" fill="#ff0000"/>
<rect x="242.00" y="801.30" width="1.00" height="7.30" fill="#ff0000"/>
<rect x="244.00" y="801.30" width="1.00" height="7.30" fill="#ff0000"/>
<rect x="247.00" y="801.30" width="1.00" height="7.30" fill="#ff0000"/>
<rect x="248.50" y="801.30" width="1.00" height="7.30" fill="#ff0000"/>
<rect x="250.50" y="801.30" width="1.00" height="7.30" fill="#ff0000"/>
<rect x="251.50" y="801.30" width="1.00" height="7.30" fill="#ff0000"/>
<rect x="252.50" y="801.30" width="1.00" height="7.30" fill="#ff0000"/>
<rect x="254.00" y="801.30" width="1.00" height="7.30" fill="#ff0000"/>
<rect x="255.50" y="801.30" width="1.00" height="7.30" fill="#ff0000"/>
<rect x="256.50" y="801.30" width="1.00" height="7.30" fill="#ff0000"/>
<rect x="258.00" y="801.30" width="1.00" height="7.30" fill="#ff0000"/>
<rect x="259.50" y="801.30" width="1.00" height="7.30" fill="#ff0000"/>
<rect x="261.50" y="801.30" width="1.00" height="7.30" fill="#ff0000"/>
<rect x="262.50" y="801.30" width="1.00" height="7.30" fill="#ff0000"/>
<rect x="264.00" y="801.30" width="1.00" height="7.30" fill="#ff0000"/>
<rect x="265.00" y="801.30" width="1.00" height="7.30" fill="#ff0000"/>
<rect x="267.00" y="801.30" width="1.00" height="7.30" fill="#ff0000"/>
<rect x="270.50" y="801.30" width="1.00" height="7.30" fill="#ff0000"/>
<rect x="271.50" y="801.30" width="1.00" height="7.30" fill="#ff0000"/>
<rect x="273.00" y="801.30" width="1.00" height="7.30" fill="#ff0000"/>
<rect x="274.00" y="801.30" width="1.00" height="7.30" fill="#ff0000"/>
<rect x="276.00" y="801.30" width="1.00" height="7.30" fill="#ff0000"/>
<rect x="277.00" y="801.30" width="1.00" height="7.30" fill="#ff0000"/>
<rect x="281.00" y="801.30" width="1.00" height="7.30" fill="#ff0000"/>
<rect x="282.00" y="801.30" width="1.00" height="7.30" fill="#ff0000"/>
<rect x="284.00" y="801.30" width="1.00" height="7.30" fill="#ff0000"/>
<rect x="287.00" y="801.30" width="1.00" height="7.30" fill="#ff0000"/>
<rect x="288.00" y="794.80" width="1.00" height="13.80" fill="#ff0000"/>
<rect x="289.50" y="801.30" width="1.00" height="7.30" fill="#ff0000"/>
<rect x="292.00" y="801.30" width="1.00" height="7.30" fill="#ff0000"/>
<rect x="293.00" y="801.30" width="1.00" height="7.30" fill="#ff0000"/>
<rect x="294.00" y="801.30" width="1.00" height="7.30" fill="#ff0000"/>
<rect x="295.00" y="801.30" width="1.00" height="7.30" fill="#ff0000"/>
<rect x="297.00" y="801.30" width="1.00" height="7.30" fill="#ff0000"/>
<rect x="302.00" y="801.30" width="1.00" height="7.30" fill="#ff0000"/>
<rect x="306.00" y="801.30" width="1.00" height="7.30" fill="#ff0000"/>
<rect x="308.00" y="801.30" width="1.00" height="7.30" fill="#ff0000"/>
<rect x="314.50" y="801.30" width="1.00" height="7.30" fill="#ff0000"/>
<rect x="316.50" y="801.30" width="1.00" height="7.30" fill="#ff0000"/>
<rect x="319.50" y="801.30" width="1.00" height="7.30" fill="#ff0000"/>
<rect x="320.50" y="801.30" width="1.00" height="7.30" fill="#ff0000"/>
<rect x="321.50" y="801.30" width="1.00" height="7.30" fill="#ff0000"/>
<rect x="323.50" y="801.30" width="1.00" height="7.30" fill="#ff0000"/>
<rect x="325.50" y="794.80" width="1.00" height="13.80" fill="#ff0000"/>
<rect x="326.50" y="794.80" width="1.00" height="13.80" fill="#ff0000"/>
<rect x="330.00" y="801.30" width="1.00" height="7.30" fill="#ff0000"/>
<rect x="334.00" y="801.30" width="1.00" height="7.30" fill="#ff0000"/>
<rect x="335.00" y="801.30" width="1.00" height="7.30" fill="#ff0000"/>
<rect x="336.00" y="801.30" width="1.00" height="7.30" fill="#ff0000"/>
<rect x="341.50" y="801.30" width="1.00" height="7.30" fill="#ff0000"/>
<rect x="343.50" y="801.30" width="1.00" height="7.30" fill="#ff0000"/>
<rect x="345.00" y="794.80" width="1.00" height="13.80" fill="#ff0000"/>
<rect x="352.00" y="801.30" width="1.00" height="7.30" fill="#ff0000"/>
<rect x="354.00" y="801.30" width="1.00" height="7.30" fill="#ff0000"/>
<rect x="356.50" y="801.30" width="1.00" height="7.30" fill="#ff0000"/>
<rect x="357.50" y="801.30" width="1.00" height="7.30" fill="#ff0000"/>
<rect x="358.50" y="801.30" width="1.00" height="7.30" fill="#ff0000"/>
<rect x="359.50" y="794.80" width="1.00" height="13.80" fill="#ff0000"/>
<rect x="361.00" y="801.30" width="1.00" height="7.30" fill="#ff0000"/>
<rect x="362.00" y="801.30" width="1.00" height="7.30" fill="#ff0000"/>
<rect x="367.00" y="801.30" width="1.00" height="7.30" fill="#ff0000"/>
<rect x="368.00" y="794.80" width="1.00" height="13.80" fill="#ff0000"/>
<rect x="369.00" y="801.30" width="1.00" height="7.30" fill="#ff0000"/>
<rect x="370.00" y="801.30" width="1.00" height="7.30" fill="#ff0000"/>
<rect x="371.50" y="801.30" width="1.00" height="7.30" fill="#ff0000"/>
<rect x="372.50" y="801.30" width="1.00" height="7.30" fill="#ff0000"/>
<rect x="374.50" y="801.30" width="1.00" height="7.30" fill="#ff0000"/>
<rect x="376.00" y="801.30" width="1.00" height="7.30" fill="#ff0000"/>
<rect x="383.00" y="801.30" width="1.00" height="7.30" fill="#ff0000"/>
<rect x="385.00" y="794.80" width="1.00" height="13.80" fill="#ff0000"/>
<rect x="387.50" y="801.30" width="1.00" height="7.30" fill="#ff0000"/>
<rect x="390.00" y="794.80" width="1.00" height="13.80" fill="#ff0000"/>
<rect x="392.00" y="801.30" width="1.00" height="7.30" fill="#ff0000"/>
<rect x="393.50" y="801.30" width="1.00" height="7.30" fill="#ff0000"/>
<rect x="395.00" y="801.30" width="1.00" height="7.30" fill="#ff0000"/>
<rect x="396.00" y="801.30" width="1.00" height="7.30" fill="#ff0000"/>
<rect x="401.50" y="801.30" width="1.00" height="7.30" fill="#ff0000"/>
<rect x="402.50" y="794.80" width="1.00" height="13.80" fill="#ff0000"/>
<rect x="404.50" y="801.30" width="1.00" height="7.30" fill="#ff0000"/>
<rect x="406.50" y="801.30" width="1.00" height="7.30" fill="#ff0000"/>
<rect x="407.50" y="794.80" width="1.00" height="13.80" fill="#ff0000"/>
<rect x="408.50" y="801.30" width="1.00" height="7.30" fill="#ff0000"/>
<rect x="409.50" y="801.30" width="1.00" height="7.30" fill="#ff0000"/>
<rect x="414.00" y="801.30" width="1.00" height="7.30" fill="#ff0000"/>
<rect x="416.00" y="794.80" width="1.00" height="13.80" fill="#ff0000"/>
<rect x="419.50" y="801.30" width="1.00" height="7.30" fill="#ff0000"/>
<rect x="420.50" y="801.30" width="1.00" height="7.30" fill="#ff0000"/>
<rect x="423.50" y="801.30" width="1.00" height="7.30" fill="#ff0000"/>
<rect x="424.50" y="801.30" width="1.00" height="7.30" fill="#ff0000"/>
<rect x="427.50" y="801.30" width="1.00" height="7.30" fill="#ff0000"/>
<rect x="430.50" y="801.30" width="1.00" height="7.30" fill="#ff0000"/>
<rect x="431.50" y="801.30" width="1.00" height="7.30" fill="#ff0000"/>
<rect x="434.50" y="801.30" width="1.00" height="7.30" fill="#ff0000"/>
<rect x="435.50" y="801.30" width="1.00" height="7.30" fill="#ff0000"/>
<rect x="436.50" y="801.30" width="1.00" height="7.30" fill="#ff0000"/>
<rect x="440.50" y="794.80" width="1.00" height="13.80" fill="#ff0000"/>
<rect x="442.00" y="801.30" width="1.00" height="7.30" fill="#ff0000"/>
<rect x="443.00" y="801.30" width="1.00" height="7.30" fill="#ff0000"/>
<rect x="444.00" y="801.30" width="1.00" height="7.30" fill="#ff0000"/>
<rect x="445.50" y="801.30" width="1.00" height="7.30" fill="#ff0000"/>
<rect x="448.50" y="801.30" width="1.00" height="7.30" fill="#ff0000"/>
<rect x="450.00" y="801.30" width="1.00" height="7.30" fill="#ff0000"/>
<rect x="453.50" y="801.30" width="1.00" height="7.30" fill="#ff0000"/>
<rect x="456.50" y="794.80" width="1.00" height="13.80" fill="#ff0000"/>
<rect x="457.50" y="801.30" width="1.00" height="7.30" fill="#ff0000"/>
<rect x="459.50" y="801.30" width="1.00" height="7.30" fill="#ff0000"/>
<rect x="460.50" y="801.30" width="1.00" height="7.30" fill="#ff0000"/>
<rect x="462.50" y="801.30" width="1.00" height="7.30" fill="#ff0000"/>
<rect x="464.50" y="801.30" width="1.00" height="7.30" fill="#ff0000"/>
<rect x="466.50" y="801.30" width="1.00" height="7.30" fill="#ff0000"/>
<rect x="469.00" y="801.30" width="1.00" height="7.30" fill="#ff0000"/>
<rect x="470.50" y="794.80" width="1.00" height="13.80" fill="#ff0000"/>
<rect x="472.00" y="801.30" width="1.00" height="7.30" fill="#ff0000"/>
<rect x="475.50" y="801.30" width="1.00" height="7.30" fill="#ff0000"/>
<rect x="477.00" y="801.30" width="1.00" height="7.30" fill="#ff0000"/>
<rect x="478.00" y="801.30" width="1.00" height="7.30" fill="#ff0000"/>
<rect x="479.00" y="801.30" width="1.00" height="7.30" fill="#ff0000"/>
<rect x="480.50" y="801.30" width="1.00" height="7.30" fill="#ff0000"/>
<rect x="484.00" y="801.30" width="1.00" height="7.30" fill="#ff0000"/>
<rect x="488.00" y="801.30" width="1.00" height="7.30" fill="#ff0000"/>
<rect x="490.00" y="801.30" width="1.00" height="7.30" fill="#ff0000"/>
<rect x="491.00" y="801.30" width="1.00" height="7.30" fill="#ff0000"/>
<rect x="493.00" y="801.30" width="1.00" height="7.30" fill="#ff0000"/>
<rect x="494.50" y="801.30" width="1.00" height="7.30" fill="#ff0000"/>
<rect x="496.50" y="801.30" width="1.00" height="7.30" fill="#ff0000"/>
<rect x="498.50" y="801.30" width="1.00" height="7.30" fill="#ff0000"/>
<rect x="499.50" y="801.30" width="1.00" height="7.30" fill="#ff0000"/>
<rect x="500.50" y="801.30" width="1.00" height="7.30" fill="#ff0000"/>
<rect x="503.00" y="801.30" width="1.00" height="7.30" fill="#ff0000"/>
<rect x="504.00" y="801.30" width="1.00" height="7.30" fill="#ff0000"/>
<rect x="506.00" y="801.30" width="1.00" height="7.30" fill="#ff0000"/>
<rect x="508.00" y="801.30" width="1.00" height="7.30" fill="#ff0000"/>
<rect x="509.00" y="794.80" width="1.00" height="13.80" fill="#ff0000"/>
<rect x="510.00" y="801.30" width="1.00" height="7.30" fill="#ff0000"/>
<rect x="511.50" y="801.30" width="1.00" height="7.30" fill="#ff0000"/>
<rect x="513.50" y="801.30" width="1.00" height="7.30" fill="#ff0000"/>
<rect x="516.00" y="801.30" width="1.00" height="7.30" fill="#ff0000"/>
<rect x="518.00" y="801.30" width="1.00" height="7.30" fill="#ff0000"/>
<rect x="519.50" y="801.30" width="1.00" height="7.30" fill="#ff0000"/>
<rect x="524.50" y="801.30" width="1.00" height="7.30" fill="#ff0000"/>
<rect x="525.50" y="801.30" width="1.00" height="7.30" fill="#ff0000"/>
<rect x="531.50" y="801.30" width="1.00" height="7.30" fill="#ff0000"/>
<rect x="533.50" y="801.30" width="1.00" height="7.30" fill="#ff0000"/>
<rect x="534.50" y="801.30" width="1.00" height="7.30" fill="#ff0000"/>
<rect x="537.00" y="801.30" width="1.00" height="7.30" fill="#ff0000"/>
<rect x="540.00" y="801.30" width="1.00" height="7.30" fill="#ff0000"/>
<rect x="543.50" y="801.30" width="1.00" height="7.30" fill="#ff0000"/>
<rect x="544.50" y="801.30" width="1.00" height="7.30" fill="#ff0000"/>
<rect x="547.50" y="801.30" width="1.00" height="7.30" fill="#ff0000"/>
<rect x="550.00" y="801.30" width="1.00" height="7.30" fill="#ff0000"/>
<rect x="553.00" y="801.30" width="1.00" height="7.30" fill="#ff0000"/>
<rect x="554.50" y="801.30" width="1.00" height="7.30" fill="#ff0000"/>
<rect x="557.50" y="801.30" width="1.00" height="7.30" fill="#ff0000"/>
<rect x="558.50" y="801.30" width="1.00" height="7.30" fill="#ff0000"/>
<rect x="559.50" y="801.30" width="1.00" height="7.30" fill="#ff0000"/>
<rect x="561.00" y="801.30" width="1.00" height="7.30" fill="#ff0000"/>
<rect x="563.00" y="801.30" width="1.00" height="7.30" fill="#ff0000"/>
<rect x="564.00" y="801.30" width="1.00" height="7.30" fill="#ff0000"/>
<rect x="565.50" y="801.30" width="1.00" height="7.30" fill="#ff0000"/>
<rect x="566.50" y="794.80" width="1.00" height="13.80" fill="#ff0000"/>
<rect x="567.50" y="801.30" width="1.00" height="7.30" fill="#ff0000"/>
<rect x="570.50" y="801.30" width="1.00" height="7.30" fill="#ff0000"/>
<rect x="572.00" y="801.30" width="1.00" height="7.30" fill="#ff0000"/>
<rect x="573.50" y="801.30" width="1.00" height="7.30" fill="#ff0000"/>
<rect x="574.50" y="801.30" width="1.00" height="7.30" fill="#ff0000"/>
<rect x="577.00" y="794.80" width="1.00" height="13.80" fill="#ff0000"/>
<rect x="578.00" y="801.30" width="1.00" height="7.30" fill="#ff0000"/>
<rect x="579.50" y="801.30" width="1.00" height="7.30" fill="#ff0000"/>
<rect x="580.50" y="801.30" width="1.00" height="7.30" fill="#ff0000"/>
<rect x="582.00" y="801.30" width="1.00" height="7.30" fill="#ff0000"/>
<rect x="584.00" y="801.30" width="1.00" height="7.30" fill="#ff0000"/>
<rect x="586.00" y="801.30" width="1.00" height="7.30" fill="#ff0000"/>
<rect x="587.00" y="801.30" width="1.00" height="7.30" fill="#ff0000"/>
<rect x="136.60" y="789.60" width="1.20" height="19.00" fill="#777"/>
<rect x="135.10" y="807.80" width="456.80" height="26.70" fill="#ff0000"/>
<g clip-path="url(#cp7)"><rect x="136.0" y="475.8" width="455.0" height="3.8" fill="#ff0000"/><rect x="136.0" y="479.5" width="455.0" height="5.50" fill="#bb0000"/><path d="M137.0,475.9h1V479.50h-1z" fill="#ff8000"/><path d="M139.0,475.9h1V479.50h-1z" fill="#ff4000"/><path d="M140.0,475.9h1V479.50h-1z" fill="#e0e000"/><path d="M141.0,475.9h1V479.50h-1z" fill="#e0e000"/><path d="M142.0,475.9h1V479.50h-1z" fill="#e0e000"/><path d="M143.0,475.9h1V479.50h-1z" fill="#ffc000"/><path d="M144.0,475.9h1V479.50h-1z" fill="#ffc000"/><path d="M145.0,475.9h1V479.50h-1z" fill="#ffc000"/><path d="M148.0,475.9h1V479.50h-1z" fill="#ffc000"/><path d="M150.0,475.9h1V479.50h-1z" fill="#ff5000"/><path d="M185.0,475.9h1V479.50h-1z" fill="#ff5000"/><path d="M187.0,475.9h1V479.50h-1z" fill="#ff3000"/><path d="M189.0,475.9h1V479.50h-1z" fill="#ff3000"/><path d="M204.0,475.9h1V479.50h-1z" fill="#ff5000"/><path d="M214.0,475.9h1V479.50h-1z" fill="#ff3000"/><path d="M215.0,475.9h1V479.50h-1z" fill="#ff5000"/><path d="M224.0,475.9h1V479.50h-1z" fill="#ff5000"/><path d="M228.0,475.9h1V479.50h-1z" fill="#ff3000"/><path d="M232.0,475.9h1V479.50h-1z" fill="#ff3000"/><path d="M235.0,475.9h1V479.50h-1z" fill="#ff5000"/><path d="M240.0,475.9h1V479.50h-1z" fill="#ff3000"/><path d="M243.0,475.9h1V479.50h-1z" fill="#ff7000"/><path d="M244.0,475.9h1V479.50h-1z" fill="#ff5000"/><path d="M254.0,475.9h1V479.50h-1z" fill="#ff7000"/><path d="M256.0,475.9h1V479.50h-1z" fill="#ff3000"/><path d="M268.0,475.9h1V479.50h-1z" fill="#ff3000"/><path d="M272.0,475.9h1V479.50h-1z" fill="#ff5000"/><path d="M275.0,475.9h1V479.50h-1z" fill="#ff5000"/><path d="M277.0,475.9h1V479.50h-1z" fill="#ff7000"/><path d="M280.0,475.9h1V479.50h-1z" fill="#ff5000"/><path d="M283.0,475.9h1V479.50h-1z" fill="#ff5000"/><path d="M285.0,475.9h1V479.50h-1z" fill="#ff3000"/><path d="M289.0,475.9h1V479.50h-1z" fill="#ff3000"/><path d="M296.0,475.9h1V479.50h-1z" fill="#ff5000"/><path d="M303.0,475.9h1V479.50h-1z" fill="#ff7000"/><path d="M305.0,475.9h1V479.50h-1z" fill="#ff7000"/><path d="M308.0,475.9h1V479.50h-1z" fill="#ff5000"/><path d="M316.0,475.9h1V479.50h-1z" fill="#ff5000"/><path d="M321.0,475.9h1V479.50h-1z" fill="#ff5000"/><path d="M323.0,475.9h1V479.50h-1z" fill="#ff7000"/><path d="M324.0,475.9h1V479.50h-1z" fill="#ff7000"/><path d="M326.0,475.9h1V479.50h-1z" fill="#ff5000"/><path d="M327.0,475.9h1V479.50h-1z" fill="#ff5000"/><path d="M328.0,475.9h1V479.50h-1z" fill="#ff7000"/><path d="M331.0,475.9h1V479.50h-1z" fill="#ff7000"/><path d="M333.0,475.9h1V479.50h-1z" fill="#ff5000"/><path d="M343.0,475.9h1V479.50h-1z" fill="#ff4000"/><path d="M362.0,475.9h1V479.50h-1z" fill="#ff6000"/><path d="M377.0,475.9h1V479.50h-1z" fill="#ff6000"/><path d="M399.0,475.9h1V479.50h-1z" fill="#ff4000"/><path d="M406.0,475.9h1V479.50h-1z" fill="#ff4000"/><path d="M421.0,475.9h1V479.50h-1z" fill="#ff4000"/><path d="M424.0,475.9h1V479.50h-1z" fill="#ff4000"/><path d="M431.0,475.9h1V479.50h-1z" fill="#ff4000"/><path d="M441.0,475.9h1V479.50h-1z" fill="#ff6000"/><path d="M445.0,475.9h1V479.50h-1z" fill="#ff6000"/><path d="M450.0,475.9h1V479.50h-1z" fill="#ff6000"/><rect x="466" y="475.8" width="22" height="3.8" fill="#c00000"/><path d="M473.0,475.9h1V479.50h-1z" fill="#e02000"/><path d="M488.0,475.9h1V479.50h-1z" fill="#ff4000"/><path d="M489.0,475.9h1V479.50h-1z" fill="#ff4000"/><path d="M492.0,475.9h1V479.50h-1z" fill="#ff6000"/><path d="M493.0,475.9h1V479.50h-1z" fill="#ff3000"/><path d="M501.0,475.9h1V479.50h-1z" fill="#ff4000"/><path d="M510.0,475.9h1V479.50h-1z" fill="#ff6000"/><path d="M513.0,475.9h1V479.50h-1z" fill="#ff4000"/><path d="M515.0,475.9h1V479.50h-1z" fill="#ff6000"/><path d="M518.0,475.9h1V479.50h-1z" fill="#ff6000"/><path d="M526.0,475.9h1V479.50h-1z" fill="#ff4000"/><path d="M530.0,475.9h1V479.50h-1z" fill="#ff6000"/><path d="M538.0,475.9h1V479.50h-1z" fill="#ff4000"/><path d="M539.0,475.9h1V479.50h-1z" fill="#ff3000"/><path d="M542.0,475.9h1V479.50h-1z" fill="#ff3000"/><path d="M544.0,475.9h1V479.50h-1z" fill="#ff4000"/><path d="M545.0,475.9h1V479.50h-1z" fill="#ff6000"/><path d="M558.0,475.9h1V479.50h-1z" fill="#ff6000"/><path d="M566.0,475.9h1V479.50h-1z" fill="#ff6000"/><path d="M576.0,475.9h1V479.50h-1z" fill="#ff3000"/><path d="M150.0,479.5h1V485.00h-1z" fill="#d00000"/><path d="M168.0,479.5h1V485.00h-1z" fill="#d00000"/><path d="M174.0,479.5h1V485.00h-1z" fill="#a00000"/><path d="M183.0,479.5h1V485.00h-1z" fill="#a00000"/><path d="M185.0,479.5h1V485.00h-1z" fill="#d00000"/><path d="M186.0,479.5h1V485.00h-1z" fill="#d00000"/><path d="M195.0,479.5h1V485.00h-1z" fill="#a00000"/><path d="M198.0,479.5h1V485.00h-1z" fill="#a00000"/><path d="M202.0,479.5h1V485.00h-1z" fill="#d00000"/><path d="M226.0,479.5h1V485.00h-1z" fill="#d00000"/><path d="M236.0,479.5h1V485.00h-1z" fill="#a00000"/><path d="M241.0,479.5h1V485.00h-1z" fill="#a00000"/><path d="M249.0,479.5h1V485.00h-1z" fill="#d00000"/><path d="M264.0,479.5h1V485.00h-1z" fill="#a00000"/><path d="M270.0,479.5h1V485.00h-1z" fill="#d00000"/><path d="M288.0,479.5h1V485.00h-1z" fill="#a00000"/><path d="M308.0,479.5h1V485.00h-1z" fill="#d00000"/><path d="M309.0,479.5h1V485.00h-1z" fill="#d00000"/><path d="M326.0,479.5h1V485.00h-1z" fill="#a00000"/><path d="M328.0,479.5h1V485.00h-1z" fill="#d00000"/><path d="M351.0,479.5h1V485.00h-1z" fill="#d00000"/><path d="M358.0,479.5h1V485.00h-1z" fill="#a00000"/><path d="M362.0,479.5h1V485.00h-1z" fill="#a00000"/><path d="M367.0,479.5h1V485.00h-1z" fill="#a00000"/><path d="M378.0,479.5h1V485.00h-1z" fill="#a00000"/><path d="M384.0,479.5h1V485.00h-1z" fill="#a00000"/><path d="M392.0,479.5h1V485.00h-1z" fill="#d00000"/><path d="M404.0,479.5h1V485.00h-1z" fill="#a00000"/><path d="M427.0,479.5h1V485.00h-1z" fill="#d00000"/><path d="M443.0,479.5h1V485.00h-1z" fill="#a00000"/><path d="M485.0,479.5h1V485.00h-1z" fill="#a00000"/><path d="M496.0,479.5h1V485.00h-1z" fill="#d00000"/><path d="M509.0,479.5h1V485.00h-1z" fill="#a00000"/><path d="M566.0,479.5h1V485.00h-1z" fill="#d00000"/><path d="M568.0,479.5h1V485.00h-1z" fill="#d00000"/><path d="M587.0,479.5h1V485.00h-1z" fill="#a00000"/><rect x="136.0" y="477.5" width="5" height="7.5" fill="#300000"/><rect x="141" y="479.5" width="4" height="5.5" fill="#600000"/><rect x="585" y="479.5" width="6" height="5.5" fill="#500000"/><path d="M144.0,476h1V483.00h-1z" fill="#ffa000"/><path d="M145.0,476h1V483.00h-1z" fill="#80c000"/><path d="M146.0,476h1V483.00h-1z" fill="#c0c000"/><path d="M147.0,476h1V483.00h-1z" fill="#80c000"/><path d="M148.0,476h1V483.00h-1z" fill="#ffa000"/><path d="M149.0,476h1V483.00h-1z" fill="#80c000"/><path d="M143.0,459.5h1v1h-1zM153.0,460.5h1v1h-1zM276.6,462.7h1v1h-1zM221.0,470.5h1v2h-1zM225.0,470.5h1v2h-1zM237.0,474.5h1v2h-1zM239.0,472.5h1v2h-1zM293.0,471.8h1v1h-1zM319.0,460.5h1v1h-1zM330.0,458.0h1v1h-1zM331.0,461.0h1v1h-1zM332.0,460.0h1v1h-1zM333.0,455.0h1v1h-1zM333.0,459.0h1v1h-1zM335.0,459.0h1v1h-1zM336.0,460.0h1v1h-1zM337.0,455.0h1v1h-1zM339.0,456.0h1v1h-1zM339.0,459.0h1v1h-1zM340.0,456.0h1v1h-1zM340.0,457.0h1v1h-1zM340.0,461.0h1v1h-1zM329.0,465.0h1v1h-1zM332.0,465.0h1v1h-1zM333.0,464.0h1v1h-1zM333.0,466.0h1v1h-1zM334.0,466.0h1v1h-1zM334.0,467.0h1v1h-1zM339.0,464.0h1v1h-1zM340.0,463.0h1v1h-1zM340.0,464.0h1v1h-1zM340.0,466.0h1v1h-1zM340.0,467.0h1v1h-1zM348.0,466.0h1v1h-1zM320.0,464.0h1v1h-1zM404.0,475.0h1v2h-1zM409.0,473.0h1v2h-1zM444.0,472.0h1v1h-1zM480.4,462.2h1v1h-1zM481.4,461.2h1v1h-1zM483.4,463.2h1v1h-1zM485.4,461.2h1v1h-1zM487.4,459.2h1v1h-1zM488.4,460.2h1v1h-1zM490.4,457.2h1v1h-1zM491.4,459.2h1v1h-1zM496.4,462.2h1v1h-1zM497.4,459.2h1v1h-1zM504.0,459.0h1v1h-1zM507.0,457.0h1v1h-1zM509.0,459.0h1v1h-1zM509.0,469.0h1v1h-1zM514.0,463.0h1v1h-1zM514.0,465.0h1v1h-1zM514.0,466.0h1v1h-1zM515.0,455.0h1v1h-1zM515.0,467.0h1v1h-1zM517.0,466.0h1v1h-1zM502.0,472.5h1v2h-1zM509.0,474.5h1v2h-1zM511.0,470.5h1v2h-1zM519.0,472.5h1v2h-1zM530.0,471.0h1v1h-1zM536.2,458.0h1v1h-1zM536.2,460.0h1v1h-1zM537.2,462.0h1v1h-1zM541.2,461.0h1v1h-1zM542.2,459.0h1v1h-1zM544.2,460.0h1v1h-1zM547.2,460.0h1v1h-1zM547.2,463.0h1v1h-1zM549.2,461.0h1v1h-1zM549.2,463.0h1v1h-1zM550.2,460.0h1v1h-1zM553.2,458.0h1v1h-1zM554.2,459.0h1v1h-1zM554.2,460.0h1v1h-1zM557.2,459.0h1v1h-1zM558.2,461.0h1v1h-1zM562.2,461.0h1v1h-1zM564.2,460.0h1v1h-1zM564.2,463.0h1v1h-1zM565.2,462.0h1v1h-1zM570.2,459.0h1v1h-1zM571.2,462.0h1v1h-1zM573.2,458.0h1v1h-1zM573.2,459.0h1v1h-1zM574.2,458.0h1v1h-1z" fill="#00ffc0"/><path d="M144.0,460.5h1v1h-1zM148.0,460.5h1v1h-1zM150.0,460.5h1v1h-1zM151.0,460.5h1v1h-1zM158.0,458.0h1v1h-1zM159.0,468.0h1v1h-1zM272.6,462.7h1v1h-1zM273.6,465.7h1v1h-1zM316.0,460.5h1v1h-1zM320.0,460.5h1v1h-1zM329.0,459.0h1v1h-1zM330.0,459.0h1v1h-1zM331.0,455.0h1v1h-1zM332.0,459.0h1v1h-1zM334.0,455.0h1v1h-1zM335.0,456.0h1v1h-1zM370.0,468.0h1v1h-1zM360.0,470.0h1v1h-1zM402.0,471.0h1v2h-1zM406.0,471.0h1v2h-1zM442.0,467.0h1v1h-1zM444.0,471.0h1v1h-1zM452.0,468.0h1v1h-1zM452.0,469.0h1v1h-1zM482.4,456.2h1v1h-1zM482.4,458.2h1v1h-1zM483.4,456.2h1v1h-1zM483.4,462.2h1v1h-1zM487.4,456.2h1v1h-1zM489.4,458.2h1v1h-1zM495.4,458.2h1v1h-1zM496.4,459.2h1v1h-1zM496.4,460.2h1v1h-1zM503.0,460.0h1v1h-1zM504.0,457.0h1v1h-1zM504.0,465.0h1v1h-1zM505.0,462.0h1v1h-1zM506.0,461.0h1v1h-1zM508.0,458.0h1v1h-1zM509.0,460.0h1v1h-1zM509.0,461.0h1v1h-1zM511.0,461.0h1v1h-1zM540.2,460.0h1v1h-1zM542.2,462.0h1v1h-1zM546.2,461.0h1v1h-1zM548.2,462.0h1v1h-1zM551.2,462.0h1v1h-1zM552.2,458.0h1v1h-1zM553.2,459.0h1v1h-1zM554.2,463.0h1v1h-1zM558.2,458.0h1v1h-1zM558.2,459.0h1v1h-1zM562.2,458.0h1v1h-1zM562.2,462.0h1v1h-1zM563.2,460.0h1v1h-1zM567.2,462.0h1v1h-1zM568.2,462.0h1v1h-1zM570.2,461.0h1v1h-1zM573.2,462.0h1v1h-1zM573.2,463.0h1v1h-1z" fill="#00ff60"/><path d="M145.0,459.5h1v1h-1zM150.0,459.5h1v1h-1zM273.6,463.7h1v1h-1zM225.0,474.5h1v2h-1zM230.0,472.5h1v2h-1zM248.0,472.5h1v2h-1zM293.0,475.8h1v1h-1zM308.0,460.5h1v1h-1zM310.0,460.5h1v1h-1zM316.0,459.5h1v1h-1zM317.0,459.5h1v1h-1zM319.0,459.5h1v1h-1zM332.0,455.0h1v1h-1zM333.0,460.0h1v1h-1zM334.0,458.0h1v1h-1zM336.0,456.0h1v1h-1zM336.0,461.0h1v1h-1zM339.0,461.0h1v1h-1zM341.0,461.0h1v1h-1zM345.0,464.0h1v1h-1zM355.0,472.0h1v1h-1zM372.0,476.0h1v1h-1zM398.0,469.0h1v2h-1zM398.0,475.0h1v2h-1zM405.0,473.0h1v2h-1zM412.0,471.0h1v2h-1zM442.0,470.0h1v1h-1zM443.0,473.0h1v1h-1zM455.0,473.0h1v1h-1zM481.4,463.2h1v1h-1zM484.4,461.2h1v1h-1zM485.4,458.2h1v1h-1zM486.4,457.2h1v1h-1zM491.4,456.2h1v1h-1zM498.4,458.2h1v1h-1zM501.0,456.0h1v1h-1zM502.0,458.0h1v1h-1zM502.0,469.0h1v1h-1zM504.0,460.0h1v1h-1zM508.0,457.0h1v1h-1zM508.0,466.0h1v1h-1zM510.0,458.0h1v1h-1zM511.0,462.0h1v1h-1zM513.0,461.0h1v1h-1zM515.0,460.0h1v1h-1zM525.0,469.0h1v1h-1zM533.0,468.0h1v1h-1zM537.2,460.0h1v1h-1zM537.2,463.0h1v1h-1zM538.2,462.0h1v1h-1zM540.2,458.0h1v1h-1zM541.2,459.0h1v1h-1zM543.2,462.0h1v1h-1zM545.2,463.0h1v1h-1zM549.2,458.0h1v1h-1zM552.2,459.0h1v1h-1zM552.2,462.0h1v1h-1zM556.2,460.0h1v1h-1zM557.2,460.0h1v1h-1zM559.2,458.0h1v1h-1zM559.2,463.0h1v1h-1zM561.2,459.0h1v1h-1zM561.2,462.0h1v1h-1zM563.2,461.0h1v1h-1zM563.2,462.0h1v1h-1zM565.2,459.0h1v1h-1zM565.2,463.0h1v1h-1zM567.2,461.0h1v1h-1zM571.2,463.0h1v1h-1z" fill="#00ffff"/><path d="M146.0,459.5h1v1h-1zM147.0,460.5h1v1h-1zM149.0,460.5h1v1h-1zM152.0,460.5h1v1h-1zM168.0,472.5h1v1h-1zM272.6,464.7h1v1h-1zM273.6,462.7h1v1h-1zM274.6,462.7h1v1h-1zM275.6,463.7h1v1h-1zM335.0,458.0h1v1h-1zM338.0,455.0h1v1h-1zM338.0,457.0h1v1h-1zM339.0,455.0h1v1h-1zM341.0,456.0h1v1h-1zM341.0,459.0h1v1h-1zM399.0,475.0h1v2h-1zM400.0,475.0h1v2h-1zM401.0,469.0h1v2h-1zM407.0,469.0h1v2h-1zM416.0,469.0h1v2h-1zM446.0,469.0h1v1h-1zM447.0,469.0h1v1h-1zM453.0,472.0h1v1h-1zM455.0,467.0h1v1h-1zM479.4,461.2h1v1h-1zM485.4,457.2h1v1h-1zM488.4,459.2h1v1h-1zM490.4,460.2h1v1h-1zM490.4,462.2h1v1h-1zM491.4,461.2h1v1h-1zM491.4,462.2h1v1h-1zM493.4,462.2h1v1h-1zM494.4,457.2h1v1h-1zM494.4,461.2h1v1h-1zM495.4,460.2h1v1h-1zM506.0,458.0h1v1h-1zM506.0,463.0h1v1h-1zM511.0,455.0h1v1h-1zM512.0,464.0h1v1h-1zM513.0,469.0h1v1h-1zM514.0,469.0h1v1h-1zM516.0,456.0h1v1h-1zM516.0,457.0h1v1h-1zM517.0,462.0h1v1h-1zM520.0,469.0h1v1h-1zM521.0,470.0h1v1h-1zM522.0,470.0h1v1h-1zM539.2,459.0h1v1h-1zM540.2,462.0h1v1h-1zM542.2,461.0h1v1h-1zM543.2,460.0h1v1h-1zM555.2,461.0h1v1h-1zM559.2,459.0h1v1h-1zM559.2,460.0h1v1h-1zM560.2,461.0h1v1h-1zM561.2,458.0h1v1h-1zM569.2,459.0h1v1h-1zM572.2,460.0h1v1h-1zM575.2,462.0h1v1h-1z" fill="#00ffe0"/><path d="M146.0,460.5h1v1h-1zM165.0,460.5h1v1h-1zM165.0,461.5h1v1h-1zM166.0,461.5h1v1h-1zM167.0,460.5h1v1h-1zM167.0,461.5h1v1h-1zM168.0,461.5h1v1h-1zM198.0,468.0h1v1h-1zM200.0,468.0h1v1h-1zM274.6,465.7h1v1h-1zM277.6,463.7h1v1h-1zM320.0,459.5h1v1h-1zM331.0,458.0h1v1h-1zM333.0,461.0h1v1h-1zM336.0,458.0h1v1h-1zM336.0,459.0h1v1h-1zM337.0,458.0h1v1h-1zM337.0,461.0h1v1h-1zM341.0,455.0h1v1h-1zM330.0,466.0h1v1h-1zM331.0,464.0h1v1h-1zM332.0,462.0h1v1h-1zM335.0,465.0h1v1h-1zM335.0,466.0h1v1h-1zM337.0,463.0h1v1h-1zM338.0,462.0h1v1h-1zM339.0,465.0h1v1h-1zM340.0,465.0h1v1h-1zM341.0,463.0h1v1h-1zM303.5,469.0h1v1h-1zM303.5,470.0h1v1h-1zM390.0,472.0h1v1h-1zM394.0,466.5h1v1h-1zM395.0,466.5h1v1h-1zM396.0,467.5h1v1h-1zM399.0,466.5h1v1h-1zM399.0,467.5h1v1h-1zM400.0,467.5h1v1h-1zM402.0,467.5h1v1h-1zM403.0,466.5h1v1h-1zM404.0,465.5h1v1h-1zM407.0,464.5h1v1h-1zM411.0,467.5h1v1h-1zM412.0,467.5h1v1h-1zM414.0,467.5h1v1h-1zM417.0,464.5h1v1h-1zM417.0,466.5h1v1h-1zM418.0,464.5h1v1h-1zM419.0,464.5h1v1h-1zM424.0,467.5h1v1h-1zM425.0,467.5h1v1h-1zM430.0,465.5h1v1h-1zM431.0,467.5h1v1h-1zM432.0,464.5h1v1h-1zM432.0,466.5h1v1h-1zM434.0,464.5h1v1h-1zM438.0,464.5h1v1h-1zM445.0,467.5h1v1h-1zM446.0,464.5h1v1h-1zM447.0,464.5h1v1h-1zM454.0,465.5h1v1h-1zM399.0,471.0h1v2h-1zM400.0,473.0h1v2h-1zM402.0,473.0h1v2h-1zM404.0,471.0h1v2h-1zM404.0,473.0h1v2h-1zM406.0,469.0h1v2h-1zM442.0,469.0h1v1h-1zM446.0,470.0h1v1h-1zM447.0,472.0h1v1h-1zM456.0,468.0h1v1h-1zM489.4,463.2h1v1h-1zM490.4,458.2h1v1h-1zM495.4,462.2h1v1h-1zM496.4,458.2h1v1h-1zM498.4,457.2h1v1h-1zM503.0,465.0h1v1h-1zM504.0,461.0h1v1h-1zM505.0,459.0h1v1h-1zM506.0,457.0h1v1h-1zM506.0,464.0h1v1h-1zM507.0,455.0h1v1h-1zM508.0,468.0h1v1h-1zM511.0,464.0h1v1h-1zM515.0,461.0h1v1h-1zM503.0,472.5h1v2h-1zM507.0,470.5h1v2h-1zM509.0,472.5h1v2h-1zM510.0,474.5h1v2h-1zM515.0,472.5h1v2h-1zM516.0,474.5h1v2h-1zM517.0,474.5h1v2h-1zM518.0,474.5h1v2h-1zM528.0,468.0h1v1h-1zM539.2,460.0h1v1h-1zM542.2,460.0h1v1h-1zM544.2,462.0h1v1h-1zM545.2,458.0h1v1h-1zM546.2,460.0h1v1h-1zM546.2,463.0h1v1h-1zM547.2,458.0h1v1h-1zM560.2,462.0h1v1h-1zM564.2,459.0h1v1h-1zM569.2,458.0h1v1h-1zM571.2,461.0h1v1h-1zM576.2,459.0h1v1h-1zM576.2,462.0h1v1h-1z" fill="#40ff00"/><path d="M147.0,459.5h1v1h-1zM153.0,459.5h1v1h-1zM159.0,466.0h1v1h-1zM276.6,465.7h1v1h-1zM246.0,472.5h1v2h-1zM309.0,459.5h1v1h-1zM309.0,460.5h1v1h-1zM311.0,459.5h1v1h-1zM314.0,459.5h1v1h-1zM314.0,460.5h1v1h-1zM318.0,460.5h1v1h-1zM329.0,458.0h1v1h-1zM330.0,456.0h1v1h-1zM335.0,461.0h1v1h-1zM337.0,460.0h1v1h-1zM338.0,459.0h1v1h-1zM407.0,475.0h1v2h-1zM415.0,471.0h1v2h-1zM417.0,475.0h1v2h-1zM442.0,468.0h1v1h-1zM449.0,468.0h1v1h-1zM450.0,468.0h1v1h-1zM454.0,468.0h1v1h-1zM457.0,468.0h1v1h-1zM478.4,463.2h1v1h-1zM480.4,459.2h1v1h-1zM481.4,460.2h1v1h-1zM481.4,462.2h1v1h-1zM482.4,462.2h1v1h-1zM483.4,459.2h1v1h-1zM486.4,462.2h1v1h-1zM487.4,458.2h1v1h-1zM487.4,463.2h1v1h-1zM490.4,459.2h1v1h-1zM495.4,456.2h1v1h-1zM496.4,456.2h1v1h-1zM498.4,461.2h1v1h-1zM498.4,462.2h1v1h-1zM498.4,463.2h1v1h-1zM503.0,457.0h1v1h-1zM503.0,464.0h1v1h-1zM504.0,458.0h1v1h-1zM504.0,469.0h1v1h-1zM507.0,458.0h1v1h-1zM508.0,461.0h1v1h-1zM511.0,468.0h1v1h-1zM522.0,471.0h1v1h-1zM533.0,470.0h1v1h-1zM536.2,461.0h1v1h-1zM542.2,463.0h1v1h-1zM544.2,459.0h1v1h-1zM545.2,460.0h1v1h-1zM545.2,461.0h1v1h-1zM555.2,463.0h1v1h-1zM556.2,459.0h1v1h-1zM560.2,463.0h1v1h-1zM561.2,461.0h1v1h-1zM564.2,461.0h1v1h-1zM564.2,462.0h1v1h-1zM566.2,461.0h1v1h-1zM570.2,462.0h1v1h-1zM571.2,459.0h1v1h-1zM572.2,461.0h1v1h-1zM575.2,463.0h1v1h-1z" fill="#00e0ff"/><path d="M165.0,459.5h1v1h-1zM166.0,459.5h1v1h-1zM167.0,459.5h1v1h-1zM168.0,459.5h1v1h-1zM392.0,464.5h1v1h-1zM392.0,467.5h1v1h-1zM393.0,464.5h1v1h-1zM394.0,465.5h1v1h-1zM399.0,465.5h1v1h-1zM406.0,464.5h1v1h-1zM411.0,466.5h1v1h-1zM412.0,466.5h1v1h-1zM413.0,465.5h1v1h-1zM416.0,466.5h1v1h-1zM420.0,465.5h1v1h-1zM433.0,466.5h1v1h-1zM434.0,467.5h1v1h-1zM436.0,465.5h1v1h-1zM436.0,466.5h1v1h-1zM449.0,466.5h1v1h-1zM452.0,466.5h1v1h-1zM453.0,464.5h1v1h-1zM453.0,465.5h1v1h-1zM454.0,467.5h1v1h-1zM455.0,465.5h1v1h-1zM419.0,474.0h1v1h-1zM420.0,468.0h1v1h-1zM421.0,472.0h1v1h-1zM437.0,473.0h1v1h-1zM438.0,470.0h1v1h-1zM439.0,474.0h1v1h-1zM440.0,472.0h1v1h-1zM441.0,472.0h1v1h-1zM432.0,468.5h1v1h-1zM433.0,468.5h1v1h-1zM549.0,454.0h1v1h-1zM562.0,452.0h1v1h-1zM564.0,454.0h1v1h-1zM565.0,454.0h1v1h-1zM565.0,455.0h1v1h-1zM566.0,452.0h1v1h-1zM566.0,453.0h1v1h-1z" fill="#ff8000"/><path d="M168.0,460.5h1v1h-1zM395.0,467.5h1v1h-1zM396.0,466.5h1v1h-1zM397.0,466.5h1v1h-1zM398.0,467.5h1v1h-1zM399.0,464.5h1v1h-1zM404.0,464.5h1v1h-1zM404.0,466.5h1v1h-1zM407.0,465.5h1v1h-1zM407.0,467.5h1v1h-1zM408.0,466.5h1v1h-1zM410.0,465.5h1v1h-1zM429.0,466.5h1v1h-1zM429.0,467.5h1v1h-1zM433.0,467.5h1v1h-1zM447.0,465.5h1v1h-1zM448.0,464.5h1v1h-1zM448.0,466.5h1v1h-1zM449.0,467.5h1v1h-1zM452.0,464.5h1v1h-1zM452.0,467.5h1v1h-1zM416.0,470.0h1v1h-1zM417.0,475.0h1v1h-1zM418.0,473.0h1v1h-1zM418.0,474.0h1v1h-1zM420.0,475.0h1v1h-1zM423.0,469.0h1v1h-1zM437.0,470.0h1v1h-1zM438.0,472.0h1v1h-1zM439.0,469.0h1v1h-1zM439.0,473.0h1v1h-1zM441.0,474.0h1v1h-1zM442.0,468.0h1v1h-1zM442.0,469.0h1v1h-1zM425.0,468.5h1v1h-1zM429.0,467.5h1v1h-1zM430.0,468.5h1v1h-1zM431.0,467.5h1v1h-1zM433.0,467.5h1v1h-1zM435.0,467.5h1v1h-1zM485.2,474.5h1v2h-1zM486.2,472.5h1v2h-1zM490.2,472.5h1v2h-1zM493.2,470.5h1v2h-1zM494.2,474.5h1v2h-1zM497.2,472.5h1v2h-1zM499.2,474.5h1v2h-1zM523.2,453.5h1v2h-1zM528.2,455.5h1v2h-1zM528.2,457.5h1v2h-1zM532.2,457.5h1v2h-1zM535.2,451.5h1v2h-1zM536.2,451.5h1v2h-1zM536.2,455.5h1v2h-1zM539.2,451.5h1v2h-1zM539.2,453.5h1v2h-1zM543.2,455.5h1v2h-1zM544.2,457.5h1v2h-1zM548.2,453.5h1v2h-1zM555.2,457.5h1v2h-1zM564.2,455.5h1v2h-1zM565.2,457.5h1v2h-1zM571.2,455.5h1v2h-1zM573.2,451.5h1v2h-1zM573.2,453.5h1v2h-1zM575.2,455.5h1v2h-1zM577.2,457.5h1v2h-1zM582.0,451.7h1v1h-1zM583.0,453.7h1v1h-1zM584.0,452.7h1v1h-1zM584.0,453.7h1v1h-1zM586.0,454.7h1v1h-1zM586.0,456.7h1v1h-1zM588.0,451.7h1v1h-1zM588.0,452.7h1v1h-1zM588.0,453.7h1v1h-1zM588.0,455.7h1v1h-1z" fill="#ffc000"/><path d="M197.0,466.0h1v1h-1zM199.0,466.0h1v1h-1zM199.0,467.0h1v1h-1zM548.0,453.0h1v1h-1zM549.0,453.0h1v1h-1zM562.0,453.0h1v1h-1zM563.0,452.0h1v1h-1zM565.0,452.0h1v1h-1zM565.0,453.0h1v1h-1zM582.0,453.7h1v1h-1zM582.0,454.7h1v1h-1zM583.0,452.7h1v1h-1zM583.0,454.7h1v1h-1zM584.0,451.7h1v1h-1zM585.0,451.7h1v1h-1zM585.0,452.7h1v1h-1zM585.0,454.7h1v1h-1zM585.0,455.7h1v1h-1zM586.0,451.7h1v1h-1zM586.0,455.7h1v1h-1zM587.0,454.7h1v1h-1zM587.0,455.7h1v1h-1z" fill="#ff6000"/><path d="M197.0,468.0h1v1h-1zM197.0,469.0h1v1h-1zM198.0,467.0h1v1h-1zM200.0,467.0h1v1h-1zM395.0,464.5h1v1h-1zM395.0,465.5h1v1h-1zM396.0,465.5h1v1h-1zM401.0,466.5h1v1h-1zM402.0,465.5h1v1h-1zM405.0,464.5h1v1h-1zM407.0,466.5h1v1h-1zM408.0,467.5h1v1h-1zM409.0,466.5h1v1h-1zM413.0,466.5h1v1h-1zM413.0,467.5h1v1h-1zM421.0,465.5h1v1h-1zM423.0,465.5h1v1h-1zM425.0,465.5h1v1h-1zM426.0,467.5h1v1h-1zM427.0,465.5h1v1h-1zM430.0,464.5h1v1h-1zM431.0,464.5h1v1h-1zM431.0,466.5h1v1h-1zM432.0,467.5h1v1h-1zM438.0,467.5h1v1h-1zM440.0,467.5h1v1h-1zM441.0,465.5h1v1h-1zM441.0,466.5h1v1h-1zM442.0,466.5h1v1h-1zM443.0,467.5h1v1h-1zM450.0,464.5h1v1h-1zM453.0,466.5h1v1h-1zM454.0,464.5h1v1h-1zM455.0,464.5h1v1h-1zM439.0,463.0h1v1h-1zM440.0,463.0h1v1h-1zM441.0,463.0h1v1h-1zM441.0,465.0h1v1h-1zM424.0,469.0h1v1h-1zM425.0,469.0h1v1h-1zM426.0,470.0h1v1h-1zM426.0,472.0h1v1h-1zM427.0,470.0h1v1h-1zM427.0,473.0h1v1h-1zM428.0,471.0h1v1h-1zM431.0,469.0h1v1h-1zM434.0,473.0h1v1h-1zM435.0,472.0h1v1h-1zM435.0,473.0h1v1h-1zM418.0,470.0h1v1h-1zM440.0,474.0h1v1h-1zM441.0,471.0h1v1h-1zM442.0,472.0h1v1h-1zM424.0,467.5h1v1h-1zM429.0,468.5h1v1h-1zM436.0,467.5h1v1h-1zM548.0,454.0h1v1h-1zM563.0,453.0h1v1h-1zM564.0,455.0h1v1h-1zM582.0,455.7h1v1h-1zM582.0,456.7h1v1h-1zM584.0,454.7h1v1h-1zM586.0,453.7h1v1h-1z" fill="#ff0000"/><path d="M198.0,466.0h1v1h-1zM199.0,468.0h1v1h-1zM200.0,466.0h1v1h-1zM200.0,469.0h1v1h-1zM437.0,464.0h1v1h-1zM424.0,471.0h1v1h-1zM425.0,472.0h1v1h-1zM426.0,469.0h1v1h-1zM427.0,469.0h1v1h-1zM427.0,471.0h1v1h-1zM429.0,469.0h1v1h-1zM430.0,469.0h1v1h-1zM430.0,471.0h1v1h-1zM430.0,473.0h1v1h-1zM432.0,469.0h1v1h-1zM432.0,470.0h1v1h-1zM432.0,473.0h1v1h-1zM433.0,469.0h1v1h-1zM433.0,471.0h1v1h-1zM433.0,473.0h1v1h-1zM435.0,469.0h1v1h-1zM435.0,471.0h1v1h-1zM436.0,469.0h1v1h-1zM436.0,473.0h1v1h-1zM583.0,451.7h1v1h-1zM583.0,455.7h1v1h-1zM583.0,456.7h1v1h-1zM586.0,452.7h1v1h-1zM587.0,451.7h1v1h-1zM587.0,452.7h1v1h-1zM587.0,453.7h1v1h-1zM588.0,454.7h1v1h-1z" fill="#d00000"/><path d="M217.7,457.5h1v2h-1zM224.7,463.5h1v2h-1zM243.4,460.2h1v2h-1zM248.4,462.2h1v2h-1zM295.0,452.0h1v1h-1zM296.0,451.0h1v1h-1zM297.0,452.0h1v1h-1zM299.0,450.0h1v1h-1zM334.5,447.0h1v1h-1zM393.0,465.5h1v1h-1zM398.0,464.5h1v1h-1zM398.0,466.5h1v1h-1zM403.0,467.5h1v1h-1zM405.0,465.5h1v1h-1zM411.0,465.5h1v1h-1zM421.0,467.5h1v1h-1zM422.0,467.5h1v1h-1zM423.0,466.5h1v1h-1zM424.0,464.5h1v1h-1zM424.0,465.5h1v1h-1zM426.0,464.5h1v1h-1zM427.0,466.5h1v1h-1zM428.0,464.5h1v1h-1zM428.0,465.5h1v1h-1zM428.0,467.5h1v1h-1zM438.0,465.5h1v1h-1zM439.0,464.5h1v1h-1zM440.0,466.5h1v1h-1zM442.0,464.5h1v1h-1zM444.0,466.5h1v1h-1zM444.0,467.5h1v1h-1zM446.0,467.5h1v1h-1zM454.0,466.5h1v1h-1zM417.0,468.0h1v1h-1zM418.0,471.0h1v1h-1zM420.0,471.0h1v1h-1zM421.0,469.0h1v1h-1zM421.0,473.0h1v1h-1zM422.0,469.0h1v1h-1zM423.0,472.0h1v1h-1zM423.0,474.0h1v1h-1zM438.0,468.0h1v1h-1zM438.0,471.0h1v1h-1zM438.0,475.0h1v1h-1zM439.0,475.0h1v1h-1zM440.0,471.0h1v1h-1zM441.0,473.0h1v1h-1zM427.0,467.5h1v1h-1zM431.0,468.5h1v1h-1zM405.0,471.0h1v2h-1zM412.0,469.0h1v2h-1zM454.0,467.0h1v1h-1zM454.0,473.0h1v1h-1zM457.0,467.0h1v1h-1zM503.0,467.0h1v1h-1zM504.0,468.0h1v1h-1zM506.0,456.0h1v1h-1zM506.0,460.0h1v1h-1zM509.0,455.0h1v1h-1zM509.0,468.0h1v1h-1zM512.0,457.0h1v1h-1zM513.0,459.0h1v1h-1zM515.0,459.0h1v1h-1zM504.0,461.0h1v1h-1zM505.0,464.0h1v1h-1zM506.0,459.0h1v1h-1zM506.0,461.0h1v1h-1zM507.0,460.0h1v1h-1zM507.0,464.0h1v1h-1zM508.0,460.0h1v1h-1zM508.0,462.0h1v1h-1zM508.0,463.0h1v1h-1zM508.0,464.0h1v1h-1zM509.0,459.0h1v1h-1zM509.0,461.0h1v1h-1zM509.0,463.0h1v1h-1zM509.0,464.0h1v1h-1zM485.2,470.5h1v2h-1zM489.2,470.5h1v2h-1zM492.2,474.5h1v2h-1zM495.2,470.5h1v2h-1zM496.2,470.5h1v2h-1zM496.2,472.5h1v2h-1zM528.2,451.5h1v2h-1zM532.2,455.5h1v2h-1zM533.2,453.5h1v2h-1zM536.2,453.5h1v2h-1zM537.2,451.5h1v2h-1zM544.2,451.5h1v2h-1zM545.2,451.5h1v2h-1zM547.2,451.5h1v2h-1zM547.2,453.5h1v2h-1zM551.2,451.5h1v2h-1zM552.2,455.5h1v2h-1zM555.2,451.5h1v2h-1zM555.2,453.5h1v2h-1zM564.2,457.5h1v2h-1zM568.2,455.5h1v2h-1zM568.2,457.5h1v2h-1zM575.2,451.5h1v2h-1zM576.2,453.5h1v2h-1zM582.0,458.5h1v1h-1zM582.0,459.5h1v1h-1zM582.0,460.5h1v1h-1zM583.0,461.5h1v1h-1zM584.0,457.5h1v1h-1zM585.0,457.5h1v1h-1zM585.0,458.5h1v1h-1zM585.0,459.5h1v1h-1zM585.0,460.5h1v1h-1zM585.0,461.5h1v1h-1zM587.0,460.5h1v1h-1zM587.0,462.5h1v1h-1zM588.0,458.5h1v1h-1zM588.0,459.5h1v1h-1zM588.0,460.5h1v1h-1zM588.0,461.5h1v1h-1zM588.0,462.5h1v1h-1z" fill="#ffff00"/><path d="M219.7,461.5h1v2h-1zM221.7,463.5h1v2h-1zM224.7,465.5h1v2h-1zM244.4,456.2h1v2h-1zM251.4,460.2h1v2h-1zM296.0,453.0h1v1h-1zM333.5,447.0h1v1h-1zM416.0,472.0h1v1h-1zM419.0,473.0h1v1h-1zM421.0,474.0h1v1h-1zM423.0,468.0h1v1h-1zM437.0,468.0h1v1h-1zM442.0,471.0h1v1h-1zM403.0,475.0h1v2h-1zM409.0,469.0h1v2h-1zM410.0,469.0h1v2h-1zM443.0,469.0h1v1h-1zM448.0,469.0h1v1h-1zM450.0,469.0h1v1h-1zM452.0,467.0h1v1h-1zM452.0,471.0h1v1h-1zM507.0,462.0h1v1h-1zM507.0,468.0h1v1h-1zM508.0,459.0h1v1h-1zM510.0,457.0h1v1h-1zM510.0,463.0h1v1h-1zM512.0,463.0h1v1h-1zM513.0,456.0h1v1h-1zM514.0,468.0h1v1h-1zM515.0,462.0h1v1h-1zM516.0,468.0h1v1h-1zM523.2,455.5h1v2h-1zM526.2,453.5h1v2h-1zM533.2,455.5h1v2h-1zM537.2,453.5h1v2h-1zM540.2,457.5h1v2h-1zM542.2,451.5h1v2h-1zM546.2,457.5h1v2h-1zM550.2,453.5h1v2h-1zM552.2,453.5h1v2h-1zM561.2,451.5h1v2h-1zM561.2,457.5h1v2h-1zM562.2,455.5h1v2h-1zM570.2,453.5h1v2h-1zM570.2,457.5h1v2h-1zM574.2,453.5h1v2h-1zM575.2,457.5h1v2h-1z" fill="#40ff40"/><path d="M221.7,459.5h1v2h-1zM221.7,465.5h1v2h-1zM227.7,465.5h1v2h-1zM247.4,462.2h1v2h-1zM275.6,465.7h1v1h-1zM294.0,452.0h1v1h-1zM294.0,455.0h1v1h-1zM297.0,455.0h1v1h-1zM333.5,444.0h1v1h-1zM416.0,471.0h1v1h-1zM416.0,475.0h1v1h-1zM417.0,473.0h1v1h-1zM418.0,468.0h1v1h-1zM439.0,471.0h1v1h-1zM440.0,468.0h1v1h-1zM442.0,474.0h1v1h-1zM398.0,473.0h1v2h-1zM402.0,469.0h1v2h-1zM417.0,471.0h1v2h-1zM441.0,469.0h1v1h-1zM441.0,472.0h1v1h-1zM444.0,467.0h1v1h-1zM478.4,459.2h1v1h-1zM480.4,457.2h1v1h-1zM481.4,457.2h1v1h-1zM481.4,459.2h1v1h-1zM482.4,460.2h1v1h-1zM484.4,462.2h1v1h-1zM484.4,463.2h1v1h-1zM488.4,458.2h1v1h-1zM489.4,460.2h1v1h-1zM491.4,458.2h1v1h-1zM491.4,460.2h1v1h-1zM492.4,462.2h1v1h-1zM501.0,465.0h1v1h-1zM501.0,469.0h1v1h-1zM502.0,463.0h1v1h-1zM502.0,465.0h1v1h-1zM505.0,466.0h1v1h-1zM510.0,459.0h1v1h-1zM511.0,456.0h1v1h-1zM512.0,455.0h1v1h-1zM512.0,465.0h1v1h-1zM514.0,467.0h1v1h-1zM517.0,455.0h1v1h-1zM501.0,474.5h1v2h-1zM502.0,470.5h1v2h-1zM504.0,470.5h1v2h-1zM506.0,470.5h1v2h-1zM511.0,472.5h1v2h-1zM513.0,470.5h1v2h-1zM517.0,470.5h1v2h-1zM524.2,453.5h1v2h-1zM525.2,453.5h1v2h-1zM534.2,455.5h1v2h-1zM535.2,457.5h1v2h-1zM537.2,455.5h1v2h-1zM540.2,455.5h1v2h-1zM541.2,453.5h1v2h-1zM543.2,453.5h1v2h-1zM544.2,455.5h1v2h-1zM545.2,455.5h1v2h-1zM546.2,453.5h1v2h-1zM548.2,457.5h1v2h-1zM549.2,451.5h1v2h-1zM556.2,453.5h1v2h-1zM556.2,455.5h1v2h-1zM559.2,451.5h1v2h-1zM560.2,453.5h1v2h-1zM560.2,455.5h1v2h-1zM566.2,455.5h1v2h-1zM574.2,451.5h1v2h-1zM582.0,461.5h1v1h-1zM583.0,458.5h1v1h-1zM583.0,459.5h1v1h-1zM583.0,460.5h1v1h-1zM584.0,460.5h1v1h-1zM584.0,462.5h1v1h-1zM586.0,457.5h1v1h-1zM586.0,459.5h1v1h-1zM587.0,457.5h1v1h-1zM587.0,459.5h1v1h-1zM587.0,461.5h1v1h-1z" fill="#00ff00"/><path d="M222.7,463.5h1v2h-1zM225.7,457.5h1v2h-1zM225.7,463.5h1v2h-1zM250.4,462.2h1v2h-1zM252.4,456.2h1v2h-1zM296.0,454.0h1v1h-1zM416.0,469.0h1v1h-1zM418.0,472.0h1v1h-1zM419.0,470.0h1v1h-1zM420.0,470.0h1v1h-1zM421.0,471.0h1v1h-1zM422.0,473.0h1v1h-1zM423.0,473.0h1v1h-1zM437.0,475.0h1v1h-1zM440.0,475.0h1v1h-1zM441.0,469.0h1v1h-1zM407.0,473.0h1v2h-1zM441.0,467.0h1v1h-1zM442.0,471.0h1v1h-1zM444.0,473.0h1v1h-1zM447.0,467.0h1v1h-1zM449.0,471.0h1v1h-1zM455.0,468.0h1v1h-1zM508.0,463.0h1v1h-1zM511.0,458.0h1v1h-1zM514.0,457.0h1v1h-1zM516.0,469.0h1v1h-1zM504.0,459.0h1v1h-1zM504.0,462.0h1v1h-1zM504.0,465.0h1v1h-1zM505.0,458.0h1v1h-1zM506.0,458.0h1v1h-1zM506.0,464.0h1v1h-1zM506.0,465.0h1v1h-1zM508.0,459.0h1v1h-1zM509.0,462.0h1v1h-1zM487.2,474.5h1v2h-1zM488.2,470.5h1v2h-1zM488.2,472.5h1v2h-1zM488.2,474.5h1v2h-1zM495.2,474.5h1v2h-1zM527.2,453.5h1v2h-1zM529.2,457.5h1v2h-1zM530.2,451.5h1v2h-1zM530.2,455.5h1v2h-1zM533.2,451.5h1v2h-1zM534.2,453.5h1v2h-1zM535.2,455.5h1v2h-1zM536.2,457.5h1v2h-1zM538.2,453.5h1v2h-1zM539.2,455.5h1v2h-1zM539.2,457.5h1v2h-1zM542.2,455.5h1v2h-1zM546.2,455.5h1v2h-1zM552.2,457.5h1v2h-1zM553.2,457.5h1v2h-1zM555.2,455.5h1v2h-1zM569.2,455.5h1v2h-1zM569.2,457.5h1v2h-1zM570.2,455.5h1v2h-1zM574.2,457.5h1v2h-1zM575.2,453.5h1v2h-1z" fill="#c0ff00"/><path d="M222.7,465.5h1v2h-1zM224.7,459.5h1v2h-1zM226.7,457.5h1v2h-1zM229.7,461.5h1v2h-1zM229.7,463.5h1v2h-1zM230.7,463.5h1v2h-1zM243.4,462.2h1v2h-1zM294.0,453.0h1v1h-1zM298.0,455.0h1v1h-1zM334.5,444.0h1v1h-1zM329.0,463.0h1v1h-1zM329.0,467.0h1v1h-1zM330.0,464.0h1v1h-1zM331.0,462.0h1v1h-1zM332.0,466.0h1v1h-1zM333.0,462.0h1v1h-1zM333.0,463.0h1v1h-1zM333.0,467.0h1v1h-1zM338.0,463.0h1v1h-1zM338.0,465.0h1v1h-1zM339.0,462.0h1v1h-1zM340.0,462.0h1v1h-1zM341.0,464.0h1v1h-1zM416.0,473.0h1v1h-1zM417.0,469.0h1v1h-1zM417.0,471.0h1v1h-1zM419.0,468.0h1v1h-1zM419.0,472.0h1v1h-1zM422.0,471.0h1v1h-1zM423.0,475.0h1v1h-1zM438.0,469.0h1v1h-1zM403.0,469.0h1v2h-1zM404.0,469.0h1v2h-1zM406.0,475.0h1v2h-1zM408.0,469.0h1v2h-1zM413.0,473.0h1v2h-1zM415.0,475.0h1v2h-1zM456.0,469.0h1v1h-1zM501.0,463.0h1v1h-1zM502.0,464.0h1v1h-1zM502.0,468.0h1v1h-1zM504.0,464.0h1v1h-1zM507.0,461.0h1v1h-1zM509.0,464.0h1v1h-1zM511.0,457.0h1v1h-1zM514.0,456.0h1v1h-1zM516.0,466.0h1v1h-1zM517.0,468.0h1v1h-1zM529.2,451.5h1v2h-1zM529.2,453.5h1v2h-1zM531.2,451.5h1v2h-1zM531.2,453.5h1v2h-1zM531.2,457.5h1v2h-1zM533.2,457.5h1v2h-1zM534.2,457.5h1v2h-1zM538.2,451.5h1v2h-1zM538.2,457.5h1v2h-1zM540.2,451.5h1v2h-1zM546.2,451.5h1v2h-1zM548.2,455.5h1v2h-1zM550.2,451.5h1v2h-1zM553.2,453.5h1v2h-1zM556.2,451.5h1v2h-1zM557.2,451.5h1v2h-1zM558.2,453.5h1v2h-1zM563.2,453.5h1v2h-1zM568.2,451.5h1v2h-1zM571.2,451.5h1v2h-1zM571.2,457.5h1v2h-1z" fill="#00ff80"/><path d="M223.7,465.5h1v2h-1zM245.4,456.2h1v2h-1zM246.4,458.2h1v2h-1zM249.4,460.2h1v2h-1zM249.4,462.2h1v2h-1zM296.0,455.0h1v1h-1zM299.0,449.0h1v1h-1zM299.0,451.0h1v1h-1zM299.0,455.0h1v1h-1zM333.5,446.0h1v1h-1zM334.5,446.0h1v1h-1zM334.5,448.0h1v1h-1zM394.0,467.5h1v1h-1zM397.0,464.5h1v1h-1zM400.0,464.5h1v1h-1zM401.0,464.5h1v1h-1zM408.0,465.5h1v1h-1zM412.0,465.5h1v1h-1zM414.0,464.5h1v1h-1zM417.0,465.5h1v1h-1zM418.0,467.5h1v1h-1zM419.0,467.5h1v1h-1zM420.0,466.5h1v1h-1zM420.0,467.5h1v1h-1zM423.0,467.5h1v1h-1zM425.0,464.5h1v1h-1zM436.0,464.5h1v1h-1zM436.0,467.5h1v1h-1zM438.0,466.5h1v1h-1zM440.0,464.5h1v1h-1zM444.0,465.5h1v1h-1zM445.0,466.5h1v1h-1zM451.0,465.5h1v1h-1zM455.0,467.5h1v1h-1zM419.0,469.0h1v1h-1zM420.0,473.0h1v1h-1zM421.0,468.0h1v1h-1zM437.0,474.0h1v1h-1zM440.0,469.0h1v1h-1zM440.0,470.0h1v1h-1zM441.0,468.0h1v1h-1zM403.0,471.0h1v2h-1zM403.0,473.0h1v2h-1zM405.0,469.0h1v2h-1zM408.0,471.0h1v2h-1zM414.0,469.0h1v2h-1zM414.0,473.0h1v2h-1zM441.0,471.0h1v1h-1zM442.0,473.0h1v1h-1zM444.0,468.0h1v1h-1zM445.0,468.0h1v1h-1zM451.0,468.0h1v1h-1zM456.0,470.0h1v1h-1zM504.0,467.0h1v1h-1zM508.0,460.0h1v1h-1zM509.0,466.0h1v1h-1zM510.0,455.0h1v1h-1zM510.0,460.0h1v1h-1zM510.0,466.0h1v1h-1zM513.0,463.0h1v1h-1zM515.0,457.0h1v1h-1zM515.0,463.0h1v1h-1zM484.2,470.5h1v2h-1zM485.2,472.5h1v2h-1zM486.2,474.5h1v2h-1zM487.2,470.5h1v2h-1zM487.2,472.5h1v2h-1zM490.2,470.5h1v2h-1zM490.2,474.5h1v2h-1zM491.2,470.5h1v2h-1zM491.2,474.5h1v2h-1zM493.2,472.5h1v2h-1zM493.2,474.5h1v2h-1zM496.2,474.5h1v2h-1zM497.2,470.5h1v2h-1zM498.2,474.5h1v2h-1zM499.2,470.5h1v2h-1zM503.0,470.5h1v2h-1zM505.0,472.5h1v2h-1zM505.0,474.5h1v2h-1zM507.0,474.5h1v2h-1zM508.0,472.5h1v2h-1zM508.0,474.5h1v2h-1zM509.0,470.5h1v2h-1zM514.0,472.5h1v2h-1zM516.0,470.5h1v2h-1zM517.0,472.5h1v2h-1zM518.0,470.5h1v2h-1zM518.0,472.5h1v2h-1zM519.0,470.5h1v2h-1zM519.0,474.5h1v2h-1zM523.2,457.5h1v2h-1zM524.2,451.5h1v2h-1zM531.2,455.5h1v2h-1zM532.2,453.5h1v2h-1zM541.2,457.5h1v2h-1zM544.2,453.5h1v2h-1zM547.2,457.5h1v2h-1zM549.2,453.5h1v2h-1zM549.2,455.5h1v2h-1zM550.2,455.5h1v2h-1zM550.2,457.5h1v2h-1zM554.2,451.5h1v2h-1zM556.2,457.5h1v2h-1zM557.2,453.5h1v2h-1zM558.2,451.5h1v2h-1zM561.2,453.5h1v2h-1zM562.2,451.5h1v2h-1zM566.2,451.5h1v2h-1zM569.2,453.5h1v2h-1zM582.0,457.5h1v1h-1zM583.0,457.5h1v1h-1zM584.0,458.5h1v1h-1zM584.0,459.5h1v1h-1zM584.0,461.5h1v1h-1zM585.0,462.5h1v1h-1zM586.0,461.5h1v1h-1zM586.0,462.5h1v1h-1zM587.0,458.5h1v1h-1z" fill="#80ff00"/><path d="M330.0,465.0h1v1h-1zM331.0,466.0h1v1h-1zM334.0,462.0h1v1h-1zM334.0,464.0h1v1h-1zM334.0,465.0h1v1h-1zM335.0,463.0h1v1h-1zM336.0,462.0h1v1h-1zM336.0,466.0h1v1h-1zM337.0,464.0h1v1h-1zM337.0,465.0h1v1h-1zM341.0,465.0h1v1h-1z" fill="#00ff40"/><path d="M437.0,463.0h1v1h-1zM438.0,465.0h1v1h-1zM416.0,468.0h1v1h-1zM418.0,469.0h1v1h-1zM420.0,469.0h1v1h-1zM420.0,474.0h1v1h-1zM421.0,475.0h1v1h-1zM422.0,472.0h1v1h-1zM422.0,474.0h1v1h-1zM423.0,470.0h1v1h-1zM437.0,471.0h1v1h-1zM438.0,473.0h1v1h-1zM438.0,474.0h1v1h-1zM442.0,470.0h1v1h-1zM442.0,473.0h1v1h-1zM442.0,475.0h1v1h-1zM424.0,468.5h1v1h-1zM432.0,467.5h1v1h-1zM434.0,467.5h1v1h-1zM436.0,468.5h1v1h-1z" fill="#ff4000"/><path d="M437.0,465.0h1v1h-1zM438.0,464.0h1v1h-1zM440.0,464.0h1v1h-1zM440.0,465.0h1v1h-1z" fill="#e00000"/><path d="M438.0,463.0h1v1h-1zM439.0,464.0h1v1h-1zM439.0,465.0h1v1h-1zM441.0,464.0h1v1h-1z" fill="#b00000"/><path d="M424.0,470.0h1v1h-1zM424.0,472.0h1v1h-1zM424.0,473.0h1v1h-1zM425.0,470.0h1v1h-1zM425.0,473.0h1v1h-1zM426.0,473.0h1v1h-1zM427.0,472.0h1v1h-1zM428.0,472.0h1v1h-1zM428.0,473.0h1v1h-1zM429.0,471.0h1v1h-1zM429.0,472.0h1v1h-1zM429.0,473.0h1v1h-1zM430.0,472.0h1v1h-1zM431.0,473.0h1v1h-1zM432.0,472.0h1v1h-1zM433.0,470.0h1v1h-1zM434.0,470.0h1v1h-1zM434.0,471.0h1v1h-1zM436.0,470.0h1v1h-1zM436.0,472.0h1v1h-1z" fill="#a00000"/><path d="M426.0,471.0h1v1h-1zM428.0,469.0h1v1h-1zM428.0,470.0h1v1h-1zM429.0,470.0h1v1h-1zM431.0,470.0h1v1h-1zM431.0,471.0h1v1h-1zM431.0,472.0h1v1h-1zM432.0,471.0h1v1h-1zM433.0,472.0h1v1h-1zM434.0,469.0h1v1h-1zM434.0,472.0h1v1h-1zM435.0,470.0h1v1h-1zM436.0,471.0h1v1h-1z" fill="#c00000"/><path d="M503.0,461.0h1v1h-1zM503.0,463.0h1v1h-1zM505.0,459.0h1v1h-1zM505.0,461.0h1v1h-1zM505.0,462.0h1v1h-1zM506.0,463.0h1v1h-1zM507.0,459.0h1v1h-1zM507.0,461.0h1v1h-1zM507.0,463.0h1v1h-1zM508.0,461.0h1v1h-1zM508.0,465.0h1v1h-1zM509.0,458.0h1v1h-1zM509.0,460.0h1v1h-1zM509.0,465.0h1v1h-1z" fill="#e0ff00"/></g>
<path d="M136.0,483.83h4M591.0,483.83h-4M136.0,482.61h4M591.0,482.61h-4M136.0,481.61h4M591.0,481.61h-4M136.0,480.76h4M591.0,480.76h-4M136.0,480.03h4M591.0,480.03h-4M136.0,479.38h4M591.0,479.38h-4M136.0,478.80h8M591.0,478.80h-8M136.0,474.99h4M591.0,474.99h-4M136.0,472.76h4M591.0,472.76h-4M136.0,471.18h4M591.0,471.18h-4M136.0,469.96h4M591.0,469.96h-4M136.0,468.96h4M591.0,468.96h-4M136.0,468.11h4M591.0,468.11h-4M136.0,467.38h4M591.0,467.38h-4M136.0,466.73h4M591.0,466.73h-4M136.0,466.15h8M591.0,466.15h-8M136.0,462.34h4M591.0,462.34h-4M136.0,460.11h4M591.0,460.11h-4M136.0,458.53h4M591.0,458.53h-4M136.0,457.31h4M591.0,457.31h-4M136.0,456.31h4M591.0,456.31h-4M136.0,455.46h4M591.0,455.46h-4M136.0,454.73h4M591.0,454.73h-4M136.0,454.08h4M591.0,454.08h-4M136.0,453.50h8M591.0,453.50h-8M136.0,449.69h4M591.0,449.69h-4M136.0,447.46h4M591.0,447.46h-4M136.0,445.88h4M591.0,445.88h-4M136.0,444.66h4M591.0,444.66h-4M136.0,443.66h4M591.0,443.66h-4M136.0,442.81h4M591.0,442.81h-4M136.0,442.08h4M591.0,442.08h-4M136.0,441.43h4M591.0,441.43h-4M136.0,440.85h8M591.0,440.85h-8" stroke="#222" stroke-width="0.8" fill="none"/>
<path d="M136.0,418.60 L137.0,418.83 L138.0,419.47 L139.0,420.42 L140.0,421.54 L141.0,422.75 L142.0,423.97 L143.0,425.15 L144.0,426.28 L145.0,427.35 L146.0,428.35 L147.0,429.28 L148.0,430.15 L149.0,430.97 L150.0,431.73 L151.0,432.44 L152.0,433.11 L153.0,433.74 L154.0,434.33 L155.0,434.89 L156.0,435.42 L157.0,435.92 L158.0,436.39 L159.0,436.84 L160.0,437.26 L161.0,437.67 L162.0,438.05 L163.0,438.42 L164.0,438.77 L165.0,439.10 L166.0,439.42 L167.0,439.73 L168.0,440.02 L169.0,440.30 L170.0,440.57 L171.0,440.82 L172.0,441.07 L173.0,441.31 L174.0,441.53 L175.0,441.75 L176.0,441.96 L177.0,442.16 L178.0,442.36 L179.0,442.54 L180.0,442.72 L181.0,442.89 L182.0,443.05 L183.0,443.21 L184.0,443.36 L185.0,443.51 L186.0,443.65 L187.0,443.78 L188.0,443.91 L189.0,444.04 L190.0,444.16 L191.0,444.27 L192.0,444.38 L193.0,444.48 L194.0,444.58 L195.0,444.68 L196.0,444.77 L197.0,444.85 L198.0,444.94 L199.0,445.01 L200.0,445.09 L201.0,445.16 L202.0,445.22 L203.0,445.29 L204.0,445.35 L205.0,445.40 L206.0,445.45 L207.0,445.50 L208.0,445.55 L209.0,445.59 L210.0,445.63 L211.0,445.66 L212.0,445.69 L213.0,445.72 L214.0,445.74 L215.0,445.76 L216.0,445.78 L217.0,445.80 L218.0,445.81 L219.0,445.81 L220.0,445.82 L221.0,445.82 L222.0,445.82 L223.0,445.81 L224.0,445.81 L225.0,445.80 L226.0,445.78 L227.0,445.76 L228.0,445.74 L229.0,445.72 L230.0,445.69 L231.0,445.66 L232.0,445.63 L233.0,445.59 L234.0,445.55 L235.0,445.50 L236.0,445.45 L237.0,445.40 L238.0,445.35 L239.0,445.29 L240.0,445.22 L241.0,445.16 L242.0,445.09 L243.0,445.01 L244.0,444.94 L245.0,444.85 L246.0,444.77 L247.0,444.68 L248.0,444.58 L249.0,444.48 L250.0,444.38 L251.0,444.27 L252.0,444.16 L253.0,444.04 L254.0,443.91 L255.0,443.78 L256.0,443.65 L257.0,443.51 L258.0,443.36 L259.0,443.21 L260.0,443.05 L261.0,442.89 L262.0,442.72 L263.0,442.54 L264.0,442.36 L265.0,442.16 L266.0,441.96 L267.0,441.75 L268.0,441.53 L269.0,441.31 L270.0,441.07 L271.0,440.82 L272.0,440.57 L273.0,440.30 L274.0,440.02 L275.0,439.73 L276.0,439.42 L277.0,439.10 L278.0,438.77 L279.0,438.42 L280.0,438.05 L281.0,437.67 L282.0,437.26 L283.0,436.84 L284.0,436.39 L285.0,435.92 L286.0,435.42 L287.0,434.89 L288.0,434.33 L289.0,433.74 L290.0,433.11 L291.0,432.44 L292.0,431.73 L293.0,430.97 L294.0,430.15 L295.0,429.28 L296.0,428.35 L297.0,427.35 L298.0,426.28 L299.0,425.15 L300.0,423.97 L301.0,422.75 L302.0,421.54 L303.0,420.42 L304.0,419.47 L305.0,418.83 L306.0,418.60 L307.0,418.83 L308.0,419.47 L309.0,420.42 L310.0,421.54 L311.0,422.75 L312.0,423.97 L313.0,425.15 L314.0,426.28 L315.0,427.35 L316.0,428.35 L317.0,429.28 L318.0,430.15 L319.0,430.97 L320.0,431.73 L321.0,432.44 L322.0,433.11 L323.0,433.74 L324.0,434.33 L325.0,434.89 L326.0,435.42 L327.0,435.92 L328.0,436.39 L329.0,436.84 L330.0,437.26 L331.0,437.67 L332.0,438.05 L333.0,438.42 L334.0,438.77 L335.0,439.10 L336.0,439.42 L337.0,439.73 L338.0,440.02 L339.0,440.30 L340.0,440.57 L341.0,440.82 L342.0,441.07 L343.0,441.31 L344.0,441.53 L345.0,441.75 L346.0,441.96 L347.0,442.16 L348.0,442.36 L349.0,442.54 L350.0,442.72 L351.0,442.89 L352.0,443.05 L353.0,443.21 L354.0,443.36 L355.0,443.51 L356.0,443.65 L357.0,443.78 L358.0,443.91 L359.0,444.04 L360.0,444.16 L361.0,444.27 L362.0,444.38 L363.0,444.48 L364.0,444.58 L365.0,444.68 L366.0,444.77 L367.0,444.85 L368.0,444.94 L369.0,445.01 L370.0,445.09 L371.0,445.16 L372.0,445.22 L373.0,445.29 L374.0,445.35 L375.0,445.40 L376.0,445.45 L377.0,445.50 L378.0,445.55 L379.0,445.59 L380.0,445.63 L381.0,445.66 L382.0,445.69 L383.0,445.72 L384.0,445.74 L385.0,445.76 L386.0,445.78 L387.0,445.80 L388.0,445.81 L389.0,445.81 L390.0,445.82 L391.0,445.82 L392.0,445.82 L393.0,445.81 L394.0,445.81 L395.0,445.80 L396.0,445.78 L397.0,445.76 L398.0,445.74 L399.0,445.72 L400.0,445.69 L401.0,445.66 L402.0,445.63 L403.0,445.59 L404.0,445.55 L405.0,445.50 L406.0,445.45 L407.0,445.40 L408.0,445.35 L409.0,445.29 L410.0,445.22 L411.0,445.16 L412.0,445.09 L413.0,445.01 L414.0,444.94 L415.0,444.85 L416.0,444.77 L417.0,444.68 L418.0,444.58 L419.0,444.48 L420.0,444.38 L421.0,444.27 L422.0,444.16 L423.0,444.04 L424.0,443.91 L425.0,443.78 L426.0,443.65 L427.0,443.51 L428.0,443.36 L429.0,443.21 L430.0,443.05 L431.0,442.89 L432.0,442.72 L433.0,442.54 L434.0,442.36 L435.0,442.16 L436.0,441.96 L437.0,441.75 L438.0,441.53 L439.0,441.31 L440.0,441.07 L441.0,440.82 L442.0,440.57 L443.0,440.30 L444.0,440.02 L445.0,439.73 L446.0,439.42 L447.0,439.10 L448.0,438.77 L449.0,438.42 L450.0,438.05 L451.0,437.67 L452.0,437.26 L453.0,436.84 L454.0,436.39 L455.0,435.92 L456.0,435.42 L457.0,434.89 L458.0,434.33 L459.0,433.74 L460.0,433.11 L461.0,432.44 L462.0,431.73 L463.0,430.97 L464.0,430.15 L465.0,429.28 L466.0,428.35 L467.0,427.35 L468.0,426.28 L469.0,425.15 L470.0,423.97 L471.0,422.75 L472.0,421.54 L473.0,420.42 L474.0,419.47 L475.0,418.83 L476.0,418.60 L477.0,418.83 L478.0,419.47 L479.0,420.42 L480.0,421.54 L481.0,422.75 L482.0,423.97 L483.0,425.15 L484.0,426.28 L485.0,427.35 L486.0,428.35 L487.0,429.28 L488.0,430.15 L489.0,430.97 L490.0,431.73 L491.0,432.44 L492.0,433.11 L493.0,433.74 L494.0,434.33 L495.0,434.89 L496.0,435.42 L497.0,435.92 L498.0,436.39 L499.0,436.84 L500.0,437.26 L501.0,437.67 L502.0,438.05 L503.0,438.42 L504.0,438.77 L505.0,439.10 L506.0,439.42 L507.0,439.73 L508.0,440.02 L509.0,440.30 L510.0,440.57 L511.0,440.82 L512.0,441.07 L513.0,441.31 L514.0,441.53 L515.0,441.75 L516.0,441.96 L517.0,442.16 L518.0,442.36 L519.0,442.54 L520.0,442.72 L521.0,442.89 L522.0,443.05 L523.0,443.21 L524.0,443.36 L525.0,443.51 L526.0,443.65 L527.0,443.78 L528.0,443.91 L529.0,444.04 L530.0,444.16 L531.0,444.27 L532.0,444.38 L533.0,444.48 L534.0,444.58 L535.0,444.68 L536.0,444.77 L537.0,444.85 L538.0,444.94 L539.0,445.01 L540.0,445.09 L541.0,445.16 L542.0,445.22 L543.0,445.29 L544.0,445.35 L545.0,445.40 L546.0,445.45 L547.0,445.50 L548.0,445.55 L549.0,445.59 L550.0,445.63 L551.0,445.66 L552.0,445.69 L553.0,445.72 L554.0,445.74 L555.0,445.76 L556.0,445.78 L557.0,445.80 L558.0,445.81 L559.0,445.81 L560.0,445.82 L561.0,445.82 L562.0,445.82 L563.0,445.81 L564.0,445.81 L565.0,445.80 L566.0,445.78 L567.0,445.76 L568.0,445.74 L569.0,445.72 L570.0,445.69 L571.0,445.66 L572.0,445.63 L573.0,445.59 L574.0,445.55 L575.0,445.50 L576.0,445.45 L577.0,445.40 L578.0,445.35 L579.0,445.29 L580.0,445.22 L581.0,445.16 L582.0,445.09 L583.0,445.01 L584.0,444.94 L585.0,444.85 L586.0,444.77 L587.0,444.68 L588.0,444.58 L589.0,444.48 L590.0,444.38 L591.0,444.27M136.0,422.40 L137.0,422.63 L138.0,423.27 L139.0,424.22 L140.0,425.34 L141.0,426.55 L142.0,427.77 L143.0,428.95 L144.0,430.08 L145.0,431.15 L146.0,432.15 L147.0,433.08 L148.0,433.95 L149.0,434.77 L150.0,435.53 L151.0,436.24 L152.0,436.91 L153.0,437.54 L154.0,438.13 L155.0,438.69 L156.0,439.22 L157.0,439.72 L158.0,440.19 L159.0,440.64 L160.0,441.06 L161.0,441.47 L162.0,441.85 L163.0,442.22 L164.0,442.57 L165.0,442.90 L166.0,443.22 L167.0,443.53 L168.0,443.82 L169.0,444.10 L170.0,444.37 L171.0,444.62 L172.0,444.87 L173.0,445.11 L174.0,445.33 L175.0,445.55 L176.0,445.76 L177.0,445.96 L178.0,446.16 L179.0,446.34 L180.0,446.52 L181.0,446.69 L182.0,446.85 L183.0,447.01 L184.0,447.16 L185.0,447.31 L186.0,447.45 L187.0,447.58 L188.0,447.71 L189.0,447.84 L190.0,447.96 L191.0,448.07 L192.0,448.18 L193.0,448.28 L194.0,448.38 L195.0,448.48 L196.0,448.57 L197.0,448.65 L198.0,448.74 L199.0,448.81 L200.0,448.89 L201.0,448.96 L202.0,449.02 L203.0,449.09 L204.0,449.15 L205.0,449.20 L206.0,449.25 L207.0,449.30 L208.0,449.35 L209.0,449.39 L210.0,449.43 L211.0,449.46 L212.0,449.49 L213.0,449.52 L214.0,449.54 L215.0,449.56 L216.0,449.58 L217.0,449.60 L218.0,449.61 L219.0,449.61 L220.0,449.62 L221.0,449.62 L222.0,449.62 L223.0,449.61 L224.0,449.61 L225.0,449.60 L226.0,449.58 L227.0,449.56 L228.0,449.54 L229.0,449.52 L230.0,449.49 L231.0,449.46 L232.0,449.43 L233.0,449.39 L234.0,449.35 L235.0,449.30 L236.0,449.25 L237.0,449.20 L238.0,449.15 L239.0,449.09 L240.0,449.02 L241.0,448.96 L242.0,448.89 L243.0,448.81 L244.0,448.74 L245.0,448.65 L246.0,448.57 L247.0,448.48 L248.0,448.38 L249.0,448.28 L250.0,448.18 L251.0,448.07 L252.0,447.96 L253.0,447.84 L254.0,447.71 L255.0,447.58 L256.0,447.45 L257.0,447.31 L258.0,447.16 L259.0,447.01 L260.0,446.85 L261.0,446.69 L262.0,446.52 L263.0,446.34 L264.0,446.16 L265.0,445.96 L266.0,445.76 L267.0,445.55 L268.0,445.33 L269.0,445.11 L270.0,444.87 L271.0,444.62 L272.0,444.37 L273.0,444.10 L274.0,443.82 L275.0,443.53 L276.0,443.22 L277.0,442.90 L278.0,442.57 L279.0,442.22 L280.0,441.85 L281.0,441.47 L282.0,441.06 L283.0,440.64 L284.0,440.19 L285.0,439.72 L286.0,439.22 L287.0,438.69 L288.0,438.13 L289.0,437.54 L290.0,436.91 L291.0,436.24 L292.0,435.53 L293.0,434.77 L294.0,433.95 L295.0,433.08 L296.0,432.15 L297.0,431.15 L298.0,430.08 L299.0,428.95 L300.0,427.77 L301.0,426.55 L302.0,425.34 L303.0,424.22 L304.0,423.27 L305.0,422.63 L306.0,422.40 L307.0,422.63 L308.0,423.27 L309.0,424.22 L310.0,425.34 L311.0,426.55 L312.0,427.77 L313.0,428.95 L314.0,430.08 L315.0,431.15 L316.0,432.15 L317.0,433.08 L318.0,433.95 L319.0,434.77 L320.0,435.53 L321.0,436.24 L322.0,436.91 L323.0,437.54 L324.0,438.13 L325.0,438.69 L326.0,439.22 L327.0,439.72 L328.0,440.19 L329.0,440.64 L330.0,441.06 L331.0,441.47 L332.0,441.85 L333.0,442.22 L334.0,442.57 L335.0,442.90 L336.0,443.22 L337.0,443.53 L338.0,443.82 L339.0,444.10 L340.0,444.37 L341.0,444.62 L342.0,444.87 L343.0,445.11 L344.0,445.33 L345.0,445.55 L346.0,445.76 L347.0,445.96 L348.0,446.16 L349.0,446.34 L350.0,446.52 L351.0,446.69 L352.0,446.85 L353.0,447.01 L354.0,447.16 L355.0,447.31 L356.0,447.45 L357.0,447.58 L358.0,447.71 L359.0,447.84 L360.0,447.96 L361.0,448.07 L362.0,448.18 L363.0,448.28 L364.0,448.38 L365.0,448.48 L366.0,448.57 L367.0,448.65 L368.0,448.74 L369.0,448.81 L370.0,448.89 L371.0,448.96 L372.0,449.02 L373.0,449.09 L374.0,449.15 L375.0,449.20 L376.0,449.25 L377.0,449.30 L378.0,449.35 L379.0,449.39 L380.0,449.43 L381.0,449.46 L382.0,449.49 L383.0,449.52 L384.0,449.54 L385.0,449.56 L386.0,449.58 L387.0,449.60 L388.0,449.61 L389.0,449.61 L390.0,449.62 L391.0,449.62 L392.0,449.62 L393.0,449.61 L394.0,449.61 L395.0,449.60 L396.0,449.58 L397.0,449.56 L398.0,449.54 L399.0,449.52 L400.0,449.49 L401.0,449.46 L402.0,449.43 L403.0,449.39 L404.0,449.35 L405.0,449.30 L406.0,449.25 L407.0,449.20 L408.0,449.15 L409.0,449.09 L410.0,449.02 L411.0,448.96 L412.0,448.89 L413.0,448.81 L414.0,448.74 L415.0,448.65 L416.0,448.57 L417.0,448.48 L418.0,448.38 L419.0,448.28 L420.0,448.18 L421.0,448.07 L422.0,447.96 L423.0,447.84 L424.0,447.71 L425.0,447.58 L426.0,447.45 L427.0,447.31 L428.0,447.16 L429.0,447.01 L430.0,446.85 L431.0,446.69 L432.0,446.52 L433.0,446.34 L434.0,446.16 L435.0,445.96 L436.0,445.76 L437.0,445.55 L438.0,445.33 L439.0,445.11 L440.0,444.87 L441.0,444.62 L442.0,444.37 L443.0,444.10 L444.0,443.82 L445.0,443.53 L446.0,443.22 L447.0,442.90 L448.0,442.57 L449.0,442.22 L450.0,441.85 L451.0,441.47 L452.0,441.06 L453.0,440.64 L454.0,440.19 L455.0,439.72 L456.0,439.22 L457.0,438.69 L458.0,438.13 L459.0,437.54 L460.0,436.91 L461.0,436.24 L462.0,435.53 L463.0,434.77 L464.0,433.95 L465.0,433.08 L466.0,432.15 L467.0,431.15 L468.0,430.08 L469.0,428.95 L470.0,427.77 L471.0,426.55 L472.0,425.34 L473.0,424.22 L474.0,423.27 L475.0,422.63 L476.0,422.40 L477.0,422.63 L478.0,423.27 L479.0,424.22 L480.0,425.34 L481.0,426.55 L482.0,427.77 L483.0,428.95 L484.0,430.08 L485.0,431.15 L486.0,432.15 L487.0,433.08 L488.0,433.95 L489.0,434.77 L490.0,435.53 L491.0,436.24 L492.0,436.91 L493.0,437.54 L494.0,438.13 L495.0,438.69 L496.0,439.22 L497.0,439.72 L498.0,440.19 L499.0,440.64 L500.0,441.06 L501.0,441.47 L502.0,441.85 L503.0,442.22 L504.0,442.57 L505.0,442.90 L506.0,443.22 L507.0,443.53 L508.0,443.82 L509.0,444.10 L510.0,444.37 L511.0,444.62 L512.0,444.87 L513.0,445.11 L514.0,445.33 L515.0,445.55 L516.0,445.76 L517.0,445.96 L518.0,446.16 L519.0,446.34 L520.0,446.52 L521.0,446.69 L522.0,446.85 L523.0,447.01 L524.0,447.16 L525.0,447.31 L526.0,447.45 L527.0,447.58 L528.0,447.71 L529.0,447.84 L530.0,447.96 L531.0,448.07 L532.0,448.18 L533.0,448.28 L534.0,448.38 L535.0,448.48 L536.0,448.57 L537.0,448.65 L538.0,448.74 L539.0,448.81 L540.0,448.89 L541.0,448.96 L542.0,449.02 L543.0,449.09 L544.0,449.15 L545.0,449.20 L546.0,449.25 L547.0,449.30 L548.0,449.35 L549.0,449.39 L550.0,449.43 L551.0,449.46 L552.0,449.49 L553.0,449.52 L554.0,449.54 L555.0,449.56 L556.0,449.58 L557.0,449.60 L558.0,449.61 L559.0,449.61 L560.0,449.62 L561.0,449.62 L562.0,449.62 L563.0,449.61 L564.0,449.61 L565.0,449.60 L566.0,449.58 L567.0,449.56 L568.0,449.54 L569.0,449.52 L570.0,449.49 L571.0,449.46 L572.0,449.43 L573.0,449.39 L574.0,449.35 L575.0,449.30 L576.0,449.25 L577.0,449.20 L578.0,449.15 L579.0,449.09 L580.0,449.02 L581.0,448.96 L582.0,448.89 L583.0,448.81 L584.0,448.74 L585.0,448.65 L586.0,448.57 L587.0,448.48 L588.0,448.38 L589.0,448.28 L590.0,448.18 L591.0,448.07M136.0,439.15 L137.0,439.38 L138.0,440.02 L139.0,440.97 L140.0,442.09 L141.0,443.30 L142.0,444.52 L143.0,445.70 L144.0,446.83 L145.0,447.90 L146.0,448.90 L147.0,449.83 L148.0,450.70 L149.0,451.52 L150.0,452.28 L151.0,452.99 L152.0,453.66 L153.0,454.29 L154.0,454.88 L155.0,455.44 L156.0,455.97 L157.0,456.47 L158.0,456.94 L159.0,457.39 L160.0,457.81 L161.0,458.22 L162.0,458.60 L163.0,458.97 L164.0,459.32 L165.0,459.65 L166.0,459.97 L167.0,460.28 L168.0,460.57 L169.0,460.85 L170.0,461.12 L171.0,461.37 L172.0,461.62 L173.0,461.86 L174.0,462.08 L175.0,462.30 L176.0,462.51 L177.0,462.71 L178.0,462.91 L179.0,463.09 L180.0,463.27 L181.0,463.44 L182.0,463.60 L183.0,463.76 L184.0,463.91 L185.0,464.06 L186.0,464.20 L187.0,464.33 L188.0,464.46 L189.0,464.59 L190.0,464.71 L191.0,464.82 L192.0,464.93 L193.0,465.03 L194.0,465.13 L195.0,465.23 L196.0,465.32 L197.0,465.40 L198.0,465.49 L199.0,465.56 L200.0,465.64 L201.0,465.71 L202.0,465.77 L203.0,465.84 L204.0,465.90 L205.0,465.95 L206.0,466.00 L207.0,466.05 L208.0,466.10 L209.0,466.14 L210.0,466.18 L211.0,466.21 L212.0,466.24 L213.0,466.27 L214.0,466.29 L215.0,466.31 L216.0,466.33 L217.0,466.35 L218.0,466.36 L219.0,466.36 L220.0,466.37 L221.0,466.37 L222.0,466.37 L223.0,466.36 L224.0,466.36 L225.0,466.35 L226.0,466.33 L227.0,466.31 L228.0,466.29 L229.0,466.27 L230.0,466.24 L231.0,466.21 L232.0,466.18 L233.0,466.14 L234.0,466.10 L235.0,466.05 L236.0,466.00 L237.0,465.95 L238.0,465.90 L239.0,465.84 L240.0,465.77 L241.0,465.71 L242.0,465.64 L243.0,465.56 L244.0,465.49 L245.0,465.40 L246.0,465.32 L247.0,465.23 L248.0,465.13 L249.0,465.03 L250.0,464.93 L251.0,464.82 L252.0,464.71 L253.0,464.59 L254.0,464.46 L255.0,464.33 L256.0,464.20 L257.0,464.06 L258.0,463.91 L259.0,463.76 L260.0,463.60 L261.0,463.44 L262.0,463.27 L263.0,463.09 L264.0,462.91 L265.0,462.71 L266.0,462.51 L267.0,462.30 L268.0,462.08 L269.0,461.86 L270.0,461.62 L271.0,461.37 L272.0,461.12 L273.0,460.85 L274.0,460.57 L275.0,460.28 L276.0,459.97 L277.0,459.65 L278.0,459.32 L279.0,458.97 L280.0,458.60 L281.0,458.22 L282.0,457.81 L283.0,457.39 L284.0,456.94 L285.0,456.47 L286.0,455.97 L287.0,455.44 L288.0,454.88 L289.0,454.29 L290.0,453.66 L291.0,452.99 L292.0,452.28 L293.0,451.52 L294.0,450.70 L295.0,449.83 L296.0,448.90 L297.0,447.90 L298.0,446.83 L299.0,445.70 L300.0,444.52 L301.0,443.30 L302.0,442.09 L303.0,440.97 L304.0,440.02 L305.0,439.38 L306.0,439.15 L307.0,439.38 L308.0,440.02 L309.0,440.97 L310.0,442.09 L311.0,443.30 L312.0,444.52 L313.0,445.70 L314.0,446.83 L315.0,447.90 L316.0,448.90 L317.0,449.83 L318.0,450.70 L319.0,451.52 L320.0,452.28 L321.0,452.99 L322.0,453.66 L323.0,454.29 L324.0,454.88 L325.0,455.44 L326.0,455.97 L327.0,456.47 L328.0,456.94 L329.0,457.39 L330.0,457.81 L331.0,458.22 L332.0,458.60 L333.0,458.97 L334.0,459.32 L335.0,459.65 L336.0,459.97 L337.0,460.28 L338.0,460.57 L339.0,460.85 L340.0,461.12 L341.0,461.37 L342.0,461.62 L343.0,461.86 L344.0,462.08 L345.0,462.30 L346.0,462.51 L347.0,462.71 L348.0,462.91 L349.0,463.09 L350.0,463.27 L351.0,463.44 L352.0,463.60 L353.0,463.76 L354.0,463.91 L355.0,464.06 L356.0,464.20 L357.0,464.33 L358.0,464.46 L359.0,464.59 L360.0,464.71 L361.0,464.82 L362.0,464.93 L363.0,465.03 L364.0,465.13 L365.0,465.23 L366.0,465.32 L367.0,465.40 L368.0,465.49 L369.0,465.56 L370.0,465.64 L371.0,465.71 L372.0,465.77 L373.0,465.84 L374.0,465.90 L375.0,465.95 L376.0,466.00 L377.0,466.05 L378.0,466.10 L379.0,466.14 L380.0,466.18 L381.0,466.21 L382.0,466.24 L383.0,466.27 L384.0,466.29 L385.0,466.31 L386.0,466.33 L387.0,466.35 L388.0,466.36 L389.0,466.36 L390.0,466.37 L391.0,466.37 L392.0,466.37 L393.0,466.36 L394.0,466.36 L395.0,466.35 L396.0,466.33 L397.0,466.31 L398.0,466.29 L399.0,466.27 L400.0,466.24 L401.0,466.21 L402.0,466.18 L403.0,466.14 L404.0,466.10 L405.0,466.05 L406.0,466.00 L407.0,465.95 L408.0,465.90 L409.0,465.84 L410.0,465.77 L411.0,465.71 L412.0,465.64 L413.0,465.56 L414.0,465.49 L415.0,465.40 L416.0,465.32 L417.0,465.23 L418.0,465.13 L419.0,465.03 L420.0,464.93 L421.0,464.82 L422.0,464.71 L423.0,464.59 L424.0,464.46 L425.0,464.33 L426.0,464.20 L427.0,464.06 L428.0,463.91 L429.0,463.76 L430.0,463.60 L431.0,463.44 L432.0,463.27 L433.0,463.09 L434.0,462.91 L435.0,462.71 L436.0,462.51 L437.0,462.30 L438.0,462.08 L439.0,461.86 L440.0,461.62 L441.0,461.37 L442.0,461.12 L443.0,460.85 L444.0,460.57 L445.0,460.28 L446.0,459.97 L447.0,459.65 L448.0,459.32 L449.0,458.97 L450.0,458.60 L451.0,458.22 L452.0,457.81 L453.0,457.39 L454.0,456.94 L455.0,456.47 L456.0,455.97 L457.0,455.44 L458.0,454.88 L459.0,454.29 L460.0,453.66 L461.0,452.99 L462.0,452.28 L463.0,451.52 L464.0,450.70 L465.0,449.83 L466.0,448.90 L467.0,447.90 L468.0,446.83 L469.0,445.70 L470.0,444.52 L471.0,443.30 L472.0,442.09 L473.0,440.97 L474.0,440.02 L475.0,439.38 L476.0,439.15 L477.0,439.38 L478.0,440.02 L479.0,440.97 L480.0,442.09 L481.0,443.30 L482.0,444.52 L483.0,445.70 L484.0,446.83 L485.0,447.90 L486.0,448.90 L487.0,449.83 L488.0,450.70 L489.0,451.52 L490.0,452.28 L491.0,452.99 L492.0,453.66 L493.0,454.29 L494.0,454.88 L495.0,455.44 L496.0,455.97 L497.0,456.47 L498.0,456.94 L499.0,457.39 L500.0,457.81 L501.0,458.22 L502.0,458.60 L503.0,458.97 L504.0,459.32 L505.0,459.65 L506.0,459.97 L507.0,460.28 L508.0,460.57 L509.0,460.85 L510.0,461.12 L511.0,461.37 L512.0,461.62 L513.0,461.86 L514.0,462.08 L515.0,462.30 L516.0,462.51 L517.0,462.71 L518.0,462.91 L519.0,463.09 L520.0,463.27 L521.0,463.44 L522.0,463.60 L523.0,463.76 L524.0,463.91 L525.0,464.06 L526.0,464.20 L527.0,464.33 L528.0,464.46 L529.0,464.59 L530.0,464.71 L531.0,464.82 L532.0,464.93 L533.0,465.03 L534.0,465.13 L535.0,465.23 L536.0,465.32 L537.0,465.40 L538.0,465.49 L539.0,465.56 L540.0,465.64 L541.0,465.71 L542.0,465.77 L543.0,465.84 L544.0,465.90 L545.0,465.95 L546.0,466.00 L547.0,466.05 L548.0,466.10 L549.0,466.14 L550.0,466.18 L551.0,466.21 L552.0,466.24 L553.0,466.27 L554.0,466.29 L555.0,466.31 L556.0,466.33 L557.0,466.35 L558.0,466.36 L559.0,466.36 L560.0,466.37 L561.0,466.37 L562.0,466.37 L563.0,466.36 L564.0,466.36 L565.0,466.35 L566.0,466.33 L567.0,466.31 L568.0,466.29 L569.0,466.27 L570.0,466.24 L571.0,466.21 L572.0,466.18 L573.0,466.14 L574.0,466.10 L575.0,466.05 L576.0,466.00 L577.0,465.95 L578.0,465.90 L579.0,465.84 L580.0,465.77 L581.0,465.71 L582.0,465.64 L583.0,465.56 L584.0,465.49 L585.0,465.40 L586.0,465.32 L587.0,465.23 L588.0,465.13 L589.0,465.03 L590.0,464.93 L591.0,464.82M136.0,459.70 L137.0,459.93 L138.0,460.57 L139.0,461.52 L140.0,462.64 L141.0,463.85 L142.0,465.07 L143.0,466.25 L144.0,467.38 L145.0,468.45 L146.0,469.45 L147.0,470.38 L148.0,471.25 L149.0,472.07 L150.0,472.83 L151.0,473.54 L152.0,474.21 L153.0,474.84 L154.0,475.43 L155.0,475.99 L156.0,476.52 L157.0,477.02 L158.0,477.49 L159.0,477.94 L160.0,478.36 L161.0,478.77 L162.0,479.15 L163.0,479.52 L164.0,479.87 L165.0,480.20 L166.0,480.52 L167.0,480.83 L168.0,481.12 L169.0,481.40 L170.0,481.67 L171.0,481.92 L172.0,482.17 L173.0,482.41 L174.0,482.63 L175.0,482.85 L176.0,483.06 L177.0,483.26 L178.0,483.46 L179.0,483.64 L180.0,483.82 L181.0,483.99 L182.0,484.15 L183.0,484.31 L184.0,484.46 L185.0,484.61 L186.0,484.75 L187.0,484.88 L188.0,485.01 L189.0,485.14 L190.0,485.26 L191.0,485.37 L192.0,485.48 L193.0,485.58 L194.0,485.68 L195.0,485.78 L196.0,485.87 L197.0,485.95 L198.0,486.04 L199.0,486.11 L200.0,486.19 L201.0,486.26 L202.0,486.32 L203.0,486.39 L204.0,486.45 L205.0,486.50 L206.0,486.55 L207.0,486.60 L208.0,486.65 L209.0,486.69 L210.0,486.73 L211.0,486.76 L212.0,486.79 L213.0,486.82 L214.0,486.84 L215.0,486.86 L216.0,486.88 L217.0,486.90 L218.0,486.91 L219.0,486.91 L220.0,486.92 L221.0,486.92 L222.0,486.92 L223.0,486.91 L224.0,486.91 L225.0,486.90 L226.0,486.88 L227.0,486.86 L228.0,486.84 L229.0,486.82 L230.0,486.79 L231.0,486.76 L232.0,486.73 L233.0,486.69 L234.0,486.65 L235.0,486.60 L236.0,486.55 L237.0,486.50 L238.0,486.45 L239.0,486.39 L240.0,486.32 L241.0,486.26 L242.0,486.19 L243.0,486.11 L244.0,486.04 L245.0,485.95 L246.0,485.87 L247.0,485.78 L248.0,485.68 L249.0,485.58 L250.0,485.48 L251.0,485.37 L252.0,485.26 L253.0,485.14 L254.0,485.01 L255.0,484.88 L256.0,484.75 L257.0,484.61 L258.0,484.46 L259.0,484.31 L260.0,484.15 L261.0,483.99 L262.0,483.82 L263.0,483.64 L264.0,483.46 L265.0,483.26 L266.0,483.06 L267.0,482.85 L268.0,482.63 L269.0,482.41 L270.0,482.17 L271.0,481.92 L272.0,481.67 L273.0,481.40 L274.0,481.12 L275.0,480.83 L276.0,480.52 L277.0,480.20 L278.0,479.87 L279.0,479.52 L280.0,479.15 L281.0,478.77 L282.0,478.36 L283.0,477.94 L284.0,477.49 L285.0,477.02 L286.0,476.52 L287.0,475.99 L288.0,475.43 L289.0,474.84 L290.0,474.21 L291.0,473.54 L292.0,472.83 L293.0,472.07 L294.0,471.25 L295.0,470.38 L296.0,469.45 L297.0,468.45 L298.0,467.38 L299.0,466.25 L300.0,465.07 L301.0,463.85 L302.0,462.64 L303.0,461.52 L304.0,460.57 L305.0,459.93 L306.0,459.70 L307.0,459.93 L308.0,460.57 L309.0,461.52 L310.0,462.64 L311.0,463.85 L312.0,465.07 L313.0,466.25 L314.0,467.38 L315.0,468.45 L316.0,469.45 L317.0,470.38 L318.0,471.25 L319.0,472.07 L320.0,472.83 L321.0,473.54 L322.0,474.21 L323.0,474.84 L324.0,475.43 L325.0,475.99 L326.0,476.52 L327.0,477.02 L328.0,477.49 L329.0,477.94 L330.0,478.36 L331.0,478.77 L332.0,479.15 L333.0,479.52 L334.0,479.87 L335.0,480.20 L336.0,480.52 L337.0,480.83 L338.0,481.12 L339.0,481.40 L340.0,481.67 L341.0,481.92 L342.0,482.17 L343.0,482.41 L344.0,482.63 L345.0,482.85 L346.0,483.06 L347.0,483.26 L348.0,483.46 L349.0,483.64 L350.0,483.82 L351.0,483.99 L352.0,484.15 L353.0,484.31 L354.0,484.46 L355.0,484.61 L356.0,484.75 L357.0,484.88 L358.0,485.01 L359.0,485.14 L360.0,485.26 L361.0,485.37 L362.0,485.48 L363.0,485.58 L364.0,485.68 L365.0,485.78 L366.0,485.87 L367.0,485.95 L368.0,486.04 L369.0,486.11 L370.0,486.19 L371.0,486.26 L372.0,486.32 L373.0,486.39 L374.0,486.45 L375.0,486.50 L376.0,486.55 L377.0,486.60 L378.0,486.65 L379.0,486.69 L380.0,486.73 L381.0,486.76 L382.0,486.79 L383.0,486.82 L384.0,486.84 L385.0,486.86 L386.0,486.88 L387.0,486.90 L388.0,486.91 L389.0,486.91 L390.0,486.92 L391.0,486.92 L392.0,486.92 L393.0,486.91 L394.0,486.91 L395.0,486.90 L396.0,486.88 L397.0,486.86 L398.0,486.84 L399.0,486.82 L400.0,486.79 L401.0,486.76 L402.0,486.73 L403.0,486.69 L404.0,486.65 L405.0,486.60 L406.0,486.55 L407.0,486.50 L408.0,486.45 L409.0,486.39 L410.0,486.32 L411.0,486.26 L412.0,486.19 L413.0,486.11 L414.0,486.04 L415.0,485.95 L416.0,485.87 L417.0,485.78 L418.0,485.68 L419.0,485.58 L420.0,485.48 L421.0,485.37 L422.0,485.26 L423.0,485.14 L424.0,485.01 L425.0,484.88 L426.0,484.75 L427.0,484.61 L428.0,484.46 L429.0,484.31 L430.0,484.15 L431.0,483.99 L432.0,483.82 L433.0,483.64 L434.0,483.46 L435.0,483.26 L436.0,483.06 L437.0,482.85 L438.0,482.63 L439.0,482.41 L440.0,482.17 L441.0,481.92 L442.0,481.67 L443.0,481.40 L444.0,481.12 L445.0,480.83 L446.0,480.52 L447.0,480.20 L448.0,479.87 L449.0,479.52 L450.0,479.15 L451.0,478.77 L452.0,478.36 L453.0,477.94 L454.0,477.49 L455.0,477.02 L456.0,476.52 L457.0,475.99 L458.0,475.43 L459.0,474.84 L460.0,474.21 L461.0,473.54 L462.0,472.83 L463.0,472.07 L464.0,471.25 L465.0,470.38 L466.0,469.45 L467.0,468.45 L468.0,467.38 L469.0,466.25 L470.0,465.07 L471.0,463.85 L472.0,462.64 L473.0,461.52 L474.0,460.57 L475.0,459.93 L476.0,459.70 L477.0,459.93 L478.0,460.57 L479.0,461.52 L480.0,462.64 L481.0,463.85 L482.0,465.07 L483.0,466.25 L484.0,467.38 L485.0,468.45 L486.0,469.45 L487.0,470.38 L488.0,471.25 L489.0,472.07 L490.0,472.83 L491.0,473.54 L492.0,474.21 L493.0,474.84 L494.0,475.43 L495.0,475.99 L496.0,476.52 L497.0,477.02 L498.0,477.49 L499.0,477.94 L500.0,478.36 L501.0,478.77 L502.0,479.15 L503.0,479.52 L504.0,479.87 L505.0,480.20 L506.0,480.52 L507.0,480.83 L508.0,481.12 L509.0,481.40 L510.0,481.67 L511.0,481.92 L512.0,482.17 L513.0,482.41 L514.0,482.63 L515.0,482.85 L516.0,483.06 L517.0,483.26 L518.0,483.46 L519.0,483.64 L520.0,483.82 L521.0,483.99 L522.0,484.15 L523.0,484.31 L524.0,484.46 L525.0,484.61 L526.0,484.75 L527.0,484.88 L528.0,485.01 L529.0,485.14 L530.0,485.26 L531.0,485.37 L532.0,485.48 L533.0,485.58 L534.0,485.68 L535.0,485.78 L536.0,485.87 L537.0,485.95 L538.0,486.04 L539.0,486.11 L540.0,486.19 L541.0,486.26 L542.0,486.32 L543.0,486.39 L544.0,486.45 L545.0,486.50 L546.0,486.55 L547.0,486.60 L548.0,486.65 L549.0,486.69 L550.0,486.73 L551.0,486.76 L552.0,486.79 L553.0,486.82 L554.0,486.84 L555.0,486.86 L556.0,486.88 L557.0,486.90 L558.0,486.91 L559.0,486.91 L560.0,486.92 L561.0,486.92 L562.0,486.92 L563.0,486.91 L564.0,486.91 L565.0,486.90 L566.0,486.88 L567.0,486.86 L568.0,486.84 L569.0,486.82 L570.0,486.79 L571.0,486.76 L572.0,486.73 L573.0,486.69 L574.0,486.65 L575.0,486.60 L576.0,486.55 L577.0,486.50 L578.0,486.45 L579.0,486.39 L580.0,486.32 L581.0,486.26 L582.0,486.19 L583.0,486.11 L584.0,486.04 L585.0,485.95 L586.0,485.87 L587.0,485.78 L588.0,485.68 L589.0,485.58 L590.0,485.48 L591.0,485.37" stroke="#111" stroke-width="1.1" fill="none" clip-path="url(#cp7)"/>
<defs><linearGradient id="cbg" x1="0" y1="0" x2="0" y2="1"><stop offset="0.0" stop-color="#b00000"/><stop offset="0.04" stop-color="#e00000"/><stop offset="0.1" stop-color="#ff0000"/><stop offset="0.18" stop-color="#ff8000"/><stop offset="0.26" stop-color="#ffff00"/><stop offset="0.45" stop-color="#00ff00"/><stop offset="0.6" stop-color="#00ffff"/><stop offset="0.75" stop-color="#0000ff"/><stop offset="0.85" stop-color="#6000c0"/><stop offset="0.93" stop-color="#300050"/><stop offset="1.0" stop-color="#000000"/></linearGradient></defs>
<rect x="598" y="440.3" width="6.6" height="44.4" fill="url(#cbg)" stroke="#333" stroke-width="0.9"/>
<line x1="136.0" y1="848.50" x2="591.0" y2="848.50" stroke="#666" stroke-width="1.0"/>
<path d="M136.0,854.95 L137.0,854.89 L138.0,854.74 L139.0,854.49 L140.0,854.19 L141.0,853.84 L142.0,853.45 L143.0,853.05 L144.0,852.65 L145.0,852.23 L146.0,851.82 L147.0,851.41 L148.0,851.01 L149.0,850.61 L150.0,850.22 L151.0,849.84 L152.0,849.47 L153.0,849.11 L154.0,848.75 L155.0,848.40 L156.0,848.06 L157.0,847.73 L158.0,847.41 L159.0,847.09 L160.0,846.79 L161.0,846.49 L162.0,846.19 L163.0,845.91 L164.0,845.63 L165.0,845.36 L166.0,845.10 L167.0,844.84 L168.0,844.59 L169.0,844.34 L170.0,844.11 L171.0,843.87 L172.0,843.65 L173.0,843.43 L174.0,843.22 L175.0,843.01 L176.0,842.80 L177.0,842.61 L178.0,842.42 L179.0,842.23 L180.0,842.05 L181.0,841.87 L182.0,841.70 L183.0,841.54 L184.0,841.38 L185.0,841.22 L186.0,841.07 L187.0,840.93 L188.0,840.79 L189.0,840.65 L190.0,840.52 L191.0,840.39 L192.0,840.27 L193.0,840.15 L194.0,840.04 L195.0,839.93 L196.0,839.82 L197.0,839.72 L198.0,839.63 L199.0,839.54 L200.0,839.45 L201.0,839.37 L202.0,839.29 L203.0,839.21 L204.0,839.14 L205.0,839.08 L206.0,839.01 L207.0,838.95 L208.0,838.90 L209.0,838.85 L210.0,838.80 L211.0,838.76 L212.0,838.73 L213.0,838.69 L214.0,838.66 L215.0,838.64 L216.0,838.61 L217.0,838.60 L218.0,838.58 L219.0,838.57 L220.0,838.57 L221.0,838.56 L222.0,838.57 L223.0,838.57 L224.0,838.58 L225.0,838.60 L226.0,838.61 L227.0,838.64 L228.0,838.66 L229.0,838.69 L230.0,838.73 L231.0,838.76 L232.0,838.80 L233.0,838.85 L234.0,838.90 L235.0,838.95 L236.0,839.01 L237.0,839.08 L238.0,839.14 L239.0,839.21 L240.0,839.29 L241.0,839.37 L242.0,839.45 L243.0,839.54 L244.0,839.63 L245.0,839.72 L246.0,839.82 L247.0,839.93 L248.0,840.04 L249.0,840.15 L250.0,840.27 L251.0,840.39 L252.0,840.52 L253.0,840.65 L254.0,840.79 L255.0,840.93 L256.0,841.07 L257.0,841.22 L258.0,841.38 L259.0,841.54 L260.0,841.70 L261.0,841.87 L262.0,842.05 L263.0,842.23 L264.0,842.42 L265.0,842.61 L266.0,842.80 L267.0,843.01 L268.0,843.22 L269.0,843.43 L270.0,843.65 L271.0,843.87 L272.0,844.11 L273.0,844.34 L274.0,844.59 L275.0,844.84 L276.0,845.10 L277.0,845.36 L278.0,845.63 L279.0,845.91 L280.0,846.19 L281.0,846.49 L282.0,846.79 L283.0,847.09 L284.0,847.41 L285.0,847.73 L286.0,848.06 L287.0,848.40 L288.0,848.75 L289.0,849.11 L290.0,849.47 L291.0,849.84 L292.0,850.22 L293.0,850.61 L294.0,851.01 L295.0,851.41 L296.0,851.82 L297.0,852.23 L298.0,852.65 L299.0,853.05 L300.0,853.45 L301.0,853.84 L302.0,854.19 L303.0,854.49 L304.0,854.74 L305.0,854.89 L306.0,854.95 L307.0,854.89 L308.0,854.74 L309.0,854.49 L310.0,854.19 L311.0,853.84 L312.0,853.45 L313.0,853.05 L314.0,852.65 L315.0,852.23 L316.0,851.82 L317.0,851.41 L318.0,851.01 L319.0,850.61 L320.0,850.22 L321.0,849.84 L322.0,849.47 L323.0,849.11 L324.0,848.75 L325.0,848.40 L326.0,848.06 L327.0,847.73 L328.0,847.41 L329.0,847.09 L330.0,846.79 L331.0,846.49 L332.0,846.19 L333.0,845.91 L334.0,845.63 L335.0,845.36 L336.0,845.10 L337.0,844.84 L338.0,844.59 L339.0,844.34 L340.0,844.11 L341.0,843.87 L342.0,843.65 L343.0,843.43 L344.0,843.22 L345.0,843.01 L346.0,842.80 L347.0,842.61 L348.0,842.42 L349.0,842.23 L350.0,842.05 L351.0,841.87 L352.0,841.70 L353.0,841.54 L354.0,841.38 L355.0,841.22 L356.0,841.07 L357.0,840.93 L358.0,840.79 L359.0,840.65 L360.0,840.52 L361.0,840.39 L362.0,840.27 L363.0,840.15 L364.0,840.04 L365.0,839.93 L366.0,839.82 L367.0,839.72 L368.0,839.63 L369.0,839.54 L370.0,839.45 L371.0,839.37 L372.0,839.29 L373.0,839.21 L374.0,839.14 L375.0,839.08 L376.0,839.01 L377.0,838.95 L378.0,838.90 L379.0,838.85 L380.0,838.80 L381.0,838.76 L382.0,838.73 L383.0,838.69 L384.0,838.66 L385.0,838.64 L386.0,838.61 L387.0,838.60 L388.0,838.58 L389.0,838.57 L390.0,838.57 L391.0,838.56 L392.0,838.57 L393.0,838.57 L394.0,838.58 L395.0,838.60 L396.0,838.61 L397.0,838.64 L398.0,838.66 L399.0,838.69 L400.0,838.73 L401.0,838.76 L402.0,838.80 L403.0,838.85 L404.0,838.90 L405.0,838.95 L406.0,839.01 L407.0,839.08 L408.0,839.14 L409.0,839.21 L410.0,839.29 L411.0,839.37 L412.0,839.45 L413.0,839.54 L414.0,839.63 L415.0,839.72 L416.0,839.82 L417.0,839.93 L418.0,840.04 L419.0,840.15 L420.0,840.27 L421.0,840.39 L422.0,840.52 L423.0,840.65 L424.0,840.79 L425.0,840.93 L426.0,841.07 L427.0,841.22 L428.0,841.38 L429.0,841.54 L430.0,841.70 L431.0,841.87 L432.0,842.05 L433.0,842.23 L434.0,842.42 L435.0,842.61 L436.0,842.80 L437.0,843.01 L438.0,843.22 L439.0,843.43 L440.0,843.65 L441.0,843.87 L442.0,844.11 L443.0,844.34 L444.0,844.59 L445.0,844.84 L446.0,845.10 L447.0,845.36 L448.0,845.63 L449.0,845.91 L450.0,846.19 L451.0,846.49 L452.0,846.79 L453.0,847.09 L454.0,847.41 L455.0,847.73 L456.0,848.06 L457.0,848.40 L458.0,848.75 L459.0,849.11 L460.0,849.47 L461.0,849.84 L462.0,850.22 L463.0,850.61 L464.0,851.01 L465.0,851.41 L466.0,851.82 L467.0,852.23 L468.0,852.65 L469.0,853.05 L470.0,853.45 L471.0,853.84 L472.0,854.19 L473.0,854.49 L474.0,854.74 L475.0,854.89 L476.0,854.95 L477.0,854.89 L478.0,854.74 L479.0,854.49 L480.0,854.19 L481.0,853.84 L482.0,853.45 L483.0,853.05 L484.0,852.65 L485.0,852.23 L486.0,851.82 L487.0,851.41 L488.0,851.01 L489.0,850.61 L490.0,850.22 L491.0,849.84 L492.0,849.47 L493.0,849.11 L494.0,848.75 L495.0,848.40 L496.0,848.06 L497.0,847.73 L498.0,847.41 L499.0,847.09 L500.0,846.79 L501.0,846.49 L502.0,846.19 L503.0,845.91 L504.0,845.63 L505.0,845.36 L506.0,845.10 L507.0,844.84 L508.0,844.59 L509.0,844.34 L510.0,844.11 L511.0,843.87 L512.0,843.65 L513.0,843.43 L514.0,843.22 L515.0,843.01 L516.0,842.80 L517.0,842.61 L518.0,842.42 L519.0,842.23 L520.0,842.05 L521.0,841.87 L522.0,841.70 L523.0,841.54 L524.0,841.38 L525.0,841.22 L526.0,841.07 L527.0,840.93 L528.0,840.79 L529.0,840.65 L530.0,840.52 L531.0,840.39 L532.0,840.27 L533.0,840.15 L534.0,840.04 L535.0,839.93 L536.0,839.82 L537.0,839.72 L538.0,839.63 L539.0,839.54 L540.0,839.45 L541.0,839.37 L542.0,839.29 L543.0,839.21 L544.0,839.14 L545.0,839.08 L546.0,839.01 L547.0,838.95 L548.0,838.90 L549.0,838.85 L550.0,838.80 L551.0,838.76 L552.0,838.73 L553.0,838.69 L554.0,838.66 L555.0,838.64 L556.0,838.61 L557.0,838.60 L558.0,838.58 L559.0,838.57 L560.0,838.57 L561.0,838.56 L562.0,838.57 L563.0,838.57 L564.0,838.58 L565.0,838.60 L566.0,838.61 L567.0,838.64 L568.0,838.66 L569.0,838.69 L570.0,838.73 L571.0,838.76 L572.0,838.80 L573.0,838.85 L574.0,838.90 L575.0,838.95 L576.0,839.01 L577.0,839.08 L578.0,839.14 L579.0,839.21 L580.0,839.29 L581.0,839.37 L582.0,839.45 L583.0,839.54 L584.0,839.63 L585.0,839.72 L586.0,839.82 L587.0,839.93 L588.0,840.04 L589.0,840.15 L590.0,840.27 L591.0,840.39" stroke="#222" stroke-width="1.0" fill="none" clip-path="url(#cp15)"/>
<path d="M136.0,866.1 L139.3,867.3 L142.5,866.1 L145.8,863.7 L152.3,861.2 L160.4,859.3 L168.6,858.0 L184.9,856.8 L201.1,855.9 L217.4,855.5 L233.7,855.1 L250.0,854.2 L266.3,852.8 L282.6,851.0 L292.3,849.8 L297.2,849.0 L300.5,849.0 L302.9,850.3 L305.4,853.9 L307.8,859.6 L310.3,863.7 L313.5,866.1 L318.4,867.3 L331.4,866.1 L347.7,864.5 L364.0,863.2 L380.3,862.1 L396.6,860.9 L412.9,859.9 L429.1,859.1 L445.4,858.3 L458.5,858.0 L466.6,858.5 L473.1,860.1 L478.0,860.8 L482.9,858.8 L487.8,857.2 L494.3,856.2 L510.6,854.7 L526.9,853.6 L543.1,852.3 L559.4,851.3 L575.7,850.3 L591.0,850.1" stroke="#1a1aff" stroke-width="1.2" fill="none"/>
<path d="M136.0,840.50h4.8M591.0,840.50h-4.8M136.0,841.82h4.8M591.0,841.82h-4.8M136.0,843.14h4.8M591.0,843.14h-4.8M136.0,844.46h4.8M591.0,844.46h-4.8M136.0,845.78h4.8M591.0,845.78h-4.8M136.0,847.10h4.8M591.0,847.10h-4.8M136.0,848.42h4.8M591.0,848.42h-4.8M136.0,849.74h4.8M591.0,849.74h-4.8M136.0,851.06h4.8M591.0,851.06h-4.8M136.0,852.38h4.8M591.0,852.38h-4.8M136.0,853.70h4.8M591.0,853.70h-4.8M136.0,855.02h4.8M591.0,855.02h-4.8M136.0,856.34h4.8M591.0,856.34h-4.8M136.0,857.66h4.8M591.0,857.66h-4.8M136.0,858.98h4.8M591.0,858.98h-4.8M136.0,860.30h4.8M591.0,860.30h-4.8M136.0,861.62h4.8M591.0,861.62h-4.8M136.0,862.94h4.8M591.0,862.94h-4.8M136.0,864.26h4.8M591.0,864.26h-4.8M136.0,865.58h4.8M591.0,865.58h-4.8M136.0,866.90h4.8M591.0,866.90h-4.8M136.0,868.22h4.8M591.0,868.22h-4.8M136.0,869.54h4.8M591.0,869.54h-4.8M136.0,870.86h4.8M591.0,870.86h-4.8M136.0,872.18h4.8M591.0,872.18h-4.8M136.0,873.50h4.8M591.0,873.50h-4.8M136.0,874.82h4.8M591.0,874.82h-4.8M136.0,876.14h4.8M591.0,876.14h-4.8M136.0,877.46h4.8M591.0,877.46h-4.8" stroke="#aaa" stroke-width="0.6" fill="none"/>
<path d="M136.0,845.2h9.2M591.0,845.2h-9.2" stroke="#555" stroke-width="1" fill="none"/>
<path d="M136.0,858.3h9.2M591.0,858.3h-9.2" stroke="#555" stroke-width="1" fill="none"/>
<path d="M136.0,872.1h9.2M591.0,872.1h-9.2" stroke="#555" stroke-width="1" fill="none"/>
<path d="M591.0,865.3h-9.2" stroke="#555" stroke-width="1" fill="none"/>
<text transform="translate(132.50,99.80) scale(1.15,1)" x="-15.36 -9.22 -6.10" y="0" font-size="10.84" fill="#1e1e1e">9.2</text>
<text transform="translate(132.50,118.00) scale(1.15,1)" x="-15.36 -9.22 -6.10" y="0" font-size="10.84" fill="#1e1e1e">4.6</text>
<text transform="translate(132.50,136.70) scale(1.15,1)" x="-15.36 -9.22 -6.10" y="0" font-size="10.84" fill="#1e1e1e">0.0</text>
<text transform="translate(132.50,149.60) scale(1.15,1)" x="-15.36 -9.22 -6.10" y="0" font-size="10.84" fill="#1e1e1e">1.9</text>
<text transform="translate(132.50,167.80) scale(1.15,1)" x="-15.36 -9.22 -6.10" y="0" font-size="10.84" fill="#1e1e1e">1.0</text>
<text transform="translate(132.50,186.50) scale(1.15,1)" x="-15.36 -9.22 -6.10" y="0" font-size="10.84" fill="#1e1e1e">0.0</text>
<text transform="translate(132.50,199.40) scale(1.15,1)" x="-15.36 -9.22 -6.10" y="0" font-size="10.84" fill="#1e1e1e">0.5</text>
<text transform="translate(132.50,217.60) scale(1.15,1)" x="-15.36 -9.22 -6.10" y="0" font-size="10.84" fill="#1e1e1e">0.3</text>
<text transform="translate(132.50,236.30) scale(1.15,1)" x="-15.36 -9.22 -6.10" y="0" font-size="10.84" fill="#1e1e1e">0.0</text>
<text transform="translate(132.50,249.20) scale(1.15,1)" x="-15.36 -9.22 -6.10" y="0" font-size="10.84" fill="#1e1e1e">0.3</text>
<text transform="translate(132.50,267.40) scale(1.15,1)" x="-15.36 -9.22 -6.10" y="0" font-size="10.84" fill="#1e1e1e">0.2</text>
<text transform="translate(132.50,286.10) scale(1.15,1)" x="-15.36 -9.22 -6.10" y="0" font-size="10.84" fill="#1e1e1e">0.0</text>
<text transform="translate(132.50,299.00) scale(1.15,1)" x="-15.36 -9.22 -6.10" y="0" font-size="10.84" fill="#1e1e1e">0.5</text>
<text transform="translate(132.50,317.20) scale(1.15,1)" x="-15.36 -9.22 -6.10" y="0" font-size="10.84" fill="#1e1e1e">0.3</text>
<text transform="translate(132.50,335.90) scale(1.15,1)" x="-15.36 -9.22 -6.10" y="0" font-size="10.84" fill="#1e1e1e">0.0</text>
<text transform="translate(132.50,348.80) scale(1.15,1)" x="-15.36 -9.22 -6.10" y="0" font-size="10.84" fill="#1e1e1e">0.2</text>
<text transform="translate(132.50,367.00) scale(1.15,1)" x="-15.36 -9.22 -6.10" y="0" font-size="10.84" fill="#1e1e1e">0.1</text>
<text transform="translate(132.50,385.70) scale(1.15,1)" x="-15.36 -9.22 -6.10" y="0" font-size="10.84" fill="#1e1e1e">0.0</text>
<text transform="translate(132.50,398.60) scale(1.15,1)" x="-15.36 -9.22 -6.10" y="0" font-size="10.84" fill="#1e1e1e">0.2</text>
<text transform="translate(132.50,416.80) scale(1.15,1)" x="-15.36 -9.22 -6.10" y="0" font-size="10.84" fill="#1e1e1e">0.1</text>
<text transform="translate(132.50,435.50) scale(1.15,1)" x="-15.36 -9.22 -6.10" y="0" font-size="10.84" fill="#1e1e1e">0.0</text>
<text transform="translate(132.50,498.20) scale(1.15,1)" x="-21.53 -15.36 -9.22 -6.10" y="0" font-size="10.84" fill="#1e1e1e">62.6</text>
<text transform="translate(132.50,516.40) scale(1.15,1)" x="-21.53 -15.36 -9.22 -6.10" y="0" font-size="10.84" fill="#1e1e1e">31.3</text>
<text transform="translate(132.50,535.10) scale(1.15,1)" x="-15.36 -9.22 -6.10" y="0" font-size="10.84" fill="#1e1e1e">0.0</text>
<text transform="translate(132.50,548.00) scale(1.15,1)" x="-21.53 -15.36 -9.22 -6.10" y="0" font-size="10.84" fill="#1e1e1e">60.3</text>
<text transform="translate(132.50,566.20) scale(1.15,1)" x="-21.53 -15.36 -9.22 -6.10" y="0" font-size="10.84" fill="#1e1e1e">30.2</text>
<text transform="translate(132.50,584.90) scale(1.15,1)" x="-15.36 -9.22 -6.10" y="0" font-size="10.84" fill="#1e1e1e">0.0</text>
<text transform="translate(132.50,597.80) scale(1.15,1)" x="-21.53 -15.36 -9.22 -6.10" y="0" font-size="10.84" fill="#1e1e1e">37.6</text>
<text transform="translate(132.50,616.00) scale(1.15,1)" x="-21.53 -15.36 -9.22 -6.10" y="0" font-size="10.84" fill="#1e1e1e">18.8</text>
<text transform="translate(132.50,634.70) scale(1.15,1)" x="-15.36 -9.22 -6.10" y="0" font-size="10.84" fill="#1e1e1e">0.0</text>
<text transform="translate(132.50,647.60) scale(1.15,1)" x="-21.53 -15.36 -9.22 -6.10" y="0" font-size="10.84" fill="#1e1e1e">28.8</text>
<text transform="translate(132.50,665.80) scale(1.15,1)" x="-21.53 -15.36 -9.22 -6.10" y="0" font-size="10.84" fill="#1e1e1e">14.4</text>
<text transform="translate(132.50,684.50) scale(1.15,1)" x="-15.36 -9.22 -6.10" y="0" font-size="10.84" fill="#1e1e1e">0.0</text>
<text transform="translate(132.50,697.40) scale(1.15,1)" x="-27.71 -21.53 -15.36 -9.22 -6.10" y="0" font-size="10.84" fill="#1e1e1e">155.9</text>
<text transform="translate(132.50,715.60) scale(1.15,1)" x="-21.53 -15.36 -9.22 -6.10" y="0" font-size="10.84" fill="#1e1e1e">78.0</text>
<text transform="translate(132.50,734.30) scale(1.15,1)" x="-15.36 -9.22 -6.10" y="0" font-size="10.84" fill="#1e1e1e">0.0</text>
<text transform="translate(132.50,747.20) scale(1.15,1)" x="-21.53 -15.36 -9.22 -6.10" y="0" font-size="10.84" fill="#1e1e1e">15.7</text>
<text transform="translate(132.50,765.40) scale(1.15,1)" x="-15.36 -9.22 -6.10" y="0" font-size="10.84" fill="#1e1e1e">7.8</text>
<text transform="translate(132.50,784.10) scale(1.15,1)" x="-15.36 -9.22 -6.10" y="0" font-size="10.84" fill="#1e1e1e">0.0</text>
<text transform="translate(132.50,797.00) scale(1.15,1)" x="-21.53 -15.36 -9.22 -6.10" y="0" font-size="10.84" fill="#1e1e1e">11.9</text>
<text transform="translate(132.50,815.20) scale(1.15,1)" x="-15.36 -9.22 -6.10" y="0" font-size="10.84" fill="#1e1e1e">6.0</text>
<text transform="translate(132.50,833.90) scale(1.15,1)" x="-15.36 -9.22 -6.10" y="0" font-size="10.84" fill="#1e1e1e">0.0</text>
<text transform="translate(132.50,447.50) scale(1.15,1)" x="-30.80 -24.62 -18.45 -12.27 -6.10" y="0" font-size="10.84" fill="#1e1e1e">10000</text>
<text transform="translate(132.50,457.30) scale(1.15,1)" x="-24.62 -18.45 -12.27 -6.10" y="0" font-size="10.84" fill="#1e1e1e">1000</text>
<text transform="translate(132.50,469.90) scale(1.15,1)" x="-18.45 -12.27 -6.10" y="0" font-size="10.84" fill="#1e1e1e">100</text>
<text transform="translate(132.50,482.40) scale(1.15,1)" x="-12.27 -6.10" y="0" font-size="10.84" fill="#1e1e1e">10</text>
<text transform="translate(602.70,113.80) scale(1.15,1)" x="-0.66 5.99 12.19 18.40 25.04" y="0" font-size="10.62" fill="#ff0000">RBSPa</text>
<text transform="translate(602.70,124.70) scale(1.15,1)" x="-0.67 5.82 11.87 17.20 23.55" y="0" font-size="10.62" fill="#ff0000">E12DC</text>
<text transform="translate(602.70,163.60) scale(1.15,1)" x="-0.66 5.99 12.19 18.40 25.04" y="0" font-size="10.62" fill="#ff0000">RBSPa</text>
<text transform="translate(602.70,174.50) scale(1.15,1)" x="-0.67 5.82 11.87 17.20 23.55" y="0" font-size="10.62" fill="#ff0000">E12DC</text>
<text transform="translate(602.70,213.40) scale(1.15,1)" x="-0.66 5.99 12.19 18.40 25.04" y="0" font-size="10.62" fill="#ff0000">RBSPa</text>
<text transform="translate(602.70,224.30) scale(1.15,1)" x="-0.67 5.82 11.87 17.20 23.55" y="0" font-size="10.62" fill="#ff0000">E12DC</text>
<text transform="translate(602.70,263.20) scale(1.15,1)" x="-0.66 5.99 12.19 18.40 25.04" y="0" font-size="10.62" fill="#ff0000">RBSPa</text>
<text transform="translate(602.70,274.10) scale(1.15,1)" x="-0.67 5.82 11.87 17.20 23.55" y="0" font-size="10.62" fill="#ff0000">E12DC</text>
<text transform="translate(602.70,313.00) scale(1.15,1)" x="-0.66 5.99 12.19 18.40 25.04" y="0" font-size="10.62" fill="#ff0000">RBSPa</text>
<text transform="translate(602.70,323.90) scale(1.15,1)" x="-0.67 5.82 11.87 17.20 23.55" y="0" font-size="10.62" fill="#ff0000">E12DC</text>
<text transform="translate(602.70,362.80) scale(1.15,1)" x="-0.66 5.99 12.19 18.40 25.04" y="0" font-size="10.62" fill="#ff0000">RBSPa</text>
<text transform="translate(602.70,373.70) scale(1.15,1)" x="-0.67 5.82 11.87 17.20 23.55" y="0" font-size="10.62" fill="#ff0000">E12DC</text>
<text transform="translate(602.70,412.60) scale(1.15,1)" x="-0.66 5.99 12.19 18.40 25.04" y="0" font-size="10.62" fill="#ff0000">RBSPa</text>
<text transform="translate(602.70,423.50) scale(1.15,1)" x="-0.67 5.82 11.87 17.20 23.55" y="0" font-size="10.62" fill="#ff0000">E12DC</text>
<text transform="translate(602.70,512.20) scale(1.15,1)" x="-0.66 5.99 12.19 18.40 25.04" y="0" font-size="10.62" fill="#ff0000">RBSPa</text>
<text transform="translate(602.70,523.10) scale(1.15,1)" x="-0.52 5.39 11.61 18.29" y="0" font-size="10.62" fill="#ff0000">SCMW</text>
<text transform="translate(602.70,562.00) scale(1.15,1)" x="-0.66 5.99 12.19 18.40 25.04" y="0" font-size="10.62" fill="#ff0000">RBSPa</text>
<text transform="translate(602.70,572.90) scale(1.15,1)" x="-0.52 5.39 11.61 18.29" y="0" font-size="10.62" fill="#ff0000">SCMW</text>
<text transform="translate(602.70,611.80) scale(1.15,1)" x="-0.66 5.99 12.19 18.40 25.04" y="0" font-size="10.62" fill="#ff0000">RBSPa</text>
<text transform="translate(602.70,622.70) scale(1.15,1)" x="-0.52 5.39 11.61 18.29" y="0" font-size="10.62" fill="#ff0000">SCMW</text>
<text transform="translate(602.70,661.60) scale(1.15,1)" x="-0.66 5.99 12.19 18.40 25.04" y="0" font-size="10.62" fill="#ff0000">RBSPa</text>
<text transform="translate(602.70,672.50) scale(1.15,1)" x="-0.52 5.39 11.61 18.29" y="0" font-size="10.62" fill="#ff0000">SCMW</text>
<text transform="translate(602.70,711.40) scale(1.15,1)" x="-0.66 5.99 12.19 18.40 25.04" y="0" font-size="10.62" fill="#ff0000">RBSPa</text>
<text transform="translate(602.70,722.30) scale(1.15,1)" x="-0.52 5.39 11.61 18.29" y="0" font-size="10.62" fill="#ff0000">SCMW</text>
<text transform="translate(602.70,761.20) scale(1.15,1)" x="-0.66 5.99 12.19 18.40 25.04" y="0" font-size="10.62" fill="#ff0000">RBSPa</text>
<text transform="translate(602.70,772.10) scale(1.15,1)" x="-0.52 5.39 11.61 18.29" y="0" font-size="10.62" fill="#ff0000">SCMW</text>
<text transform="translate(602.70,811.00) scale(1.15,1)" x="-0.66 5.99 12.19 18.40 25.04" y="0" font-size="10.62" fill="#ff0000">RBSPa</text>
<text transform="translate(602.70,821.90) scale(1.15,1)" x="-0.52 5.39 11.61 18.29" y="0" font-size="10.62" fill="#ff0000">SCMW</text>
<text transform="translate(84.70,114.30) rotate(-90) scale(1.15,1)" x="-18.83 -12.86 -9.83 -3.07 3.97 9.94 12.97" y="0" font-size="10.53" fill="#1e1e1e">3.2−6.5</text>
<text transform="translate(94.70,114.30) rotate(-90) scale(1.15,1)" x="-8.48 -3.80 3.22" y="0" font-size="10.53" fill="#1e1e1e">kHz</text>
<text transform="translate(105.10,114.30) rotate(-90) scale(1.15,1)" x="-18.56 -14.89 -6.81 1.24 6.11 15.64" y="0" font-size="10.53" fill="#1e1e1e">[mV/m]</text>
<text transform="translate(84.70,164.10) rotate(-90) scale(1.15,1)" x="-18.83 -12.86 -9.83 -3.07 3.97 9.94 12.97" y="0" font-size="10.53" fill="#1e1e1e">0.8−1.6</text>
<text transform="translate(94.70,164.10) rotate(-90) scale(1.15,1)" x="-8.48 -3.80 3.22" y="0" font-size="10.53" fill="#1e1e1e">kHz</text>
<text transform="translate(105.10,164.10) rotate(-90) scale(1.15,1)" x="-18.56 -14.89 -6.81 1.24 6.11 15.64" y="0" font-size="10.53" fill="#1e1e1e">[mV/m]</text>
<text transform="translate(84.70,213.90) rotate(-90) scale(1.15,1)" x="-24.83 -18.83 -12.83 -6.07 0.97 6.97 12.97 18.97" y="0" font-size="10.53" fill="#1e1e1e">200−4000</text>
<text transform="translate(94.70,213.90) rotate(-90) scale(1.15,1)" x="-6.35 0.67" y="0" font-size="10.53" fill="#1e1e1e">Hz</text>
<text transform="translate(105.10,213.90) rotate(-90) scale(1.15,1)" x="-18.56 -14.89 -6.81 1.24 6.11 15.64" y="0" font-size="10.53" fill="#1e1e1e">[mV/m]</text>
<text transform="translate(84.70,263.70) rotate(-90) scale(1.15,1)" x="-18.83 -12.83 -6.07 0.97 6.97 12.97" y="0" font-size="10.53" fill="#1e1e1e">50−100</text>
<text transform="translate(94.70,263.70) rotate(-90) scale(1.15,1)" x="-6.35 0.67" y="0" font-size="10.53" fill="#1e1e1e">Hz</text>
<text transform="translate(105.10,263.70) rotate(-90) scale(1.15,1)" x="-18.56 -14.89 -6.81 1.24 6.11 15.64" y="0" font-size="10.53" fill="#1e1e1e">[mV/m]</text>
<text transform="translate(84.70,313.50) rotate(-90) scale(1.15,1)" x="-15.83 -9.83 -3.07 3.97 9.97" y="0" font-size="10.53" fill="#1e1e1e">12−25</text>
<text transform="translate(94.70,313.50) rotate(-90) scale(1.15,1)" x="-6.35 0.67" y="0" font-size="10.53" fill="#1e1e1e">Hz</text>
<text transform="translate(105.10,313.50) rotate(-90) scale(1.15,1)" x="-18.56 -14.89 -6.81 1.24 6.11 15.64" y="0" font-size="10.53" fill="#1e1e1e">[mV/m]</text>
<text transform="translate(84.70,363.30) rotate(-90) scale(1.15,1)" x="-9.83 -3.07 3.97" y="0" font-size="10.53" fill="#1e1e1e">3−6</text>
<text transform="translate(94.70,363.30) rotate(-90) scale(1.15,1)" x="-6.35 0.67" y="0" font-size="10.53" fill="#1e1e1e">Hz</text>
<text transform="translate(105.10,363.30) rotate(-90) scale(1.15,1)" x="-18.56 -14.89 -6.81 1.24 6.11 15.64" y="0" font-size="10.53" fill="#1e1e1e">[mV/m]</text>
<text transform="translate(84.70,413.10) rotate(-90) scale(1.15,1)" x="-18.83 -12.86 -9.83 -3.07 3.97 9.94 12.97" y="0" font-size="10.53" fill="#1e1e1e">0.8−1.5</text>
<text transform="translate(94.70,413.10) rotate(-90) scale(1.15,1)" x="-6.35 0.67" y="0" font-size="10.53" fill="#1e1e1e">Hz</text>
<text transform="translate(105.10,413.10) rotate(-90) scale(1.15,1)" x="-18.56 -14.89 -6.81 1.24 6.11 15.64" y="0" font-size="10.53" fill="#1e1e1e">[mV/m]</text>
<text transform="translate(76.80,462.90) rotate(-90) scale(1.15,1)" x="-15.36 -8.93 -2.93 2.19 7.75" y="0" font-size="10.53" fill="#1e1e1e">E12AC</text>
<text transform="translate(86.80,462.90) rotate(-90) scale(1.15,1)" x="-9.41 -6.35 0.67 6.49" y="0" font-size="10.53" fill="#1e1e1e">[Hz]</text>
<text transform="translate(77.70,512.70) rotate(-90) scale(1.15,1)" x="-18.83 -12.86 -9.83 -3.07 3.97 9.94 12.97" y="0" font-size="10.53" fill="#1e1e1e">3.2−6.5</text>
<text transform="translate(87.30,512.70) rotate(-90) scale(1.15,1)" x="-8.48 -3.80 3.22" y="0" font-size="10.53" fill="#1e1e1e">kHz</text>
<text transform="translate(97.50,512.70) rotate(-90) scale(1.15,1)" x="-8.81 -5.33 -0.37 5.89" y="0" font-size="10.53" fill="#1e1e1e">[pT]</text>
<text transform="translate(77.70,562.50) rotate(-90) scale(1.15,1)" x="-18.83 -12.86 -9.83 -3.07 3.97 9.94 12.97" y="0" font-size="10.53" fill="#1e1e1e">0.8−1.6</text>
<text transform="translate(87.30,562.50) rotate(-90) scale(1.15,1)" x="-8.48 -3.80 3.22" y="0" font-size="10.53" fill="#1e1e1e">kHz</text>
<text transform="translate(97.50,562.50) rotate(-90) scale(1.15,1)" x="-8.81 -5.33 -0.37 5.89" y="0" font-size="10.53" fill="#1e1e1e">[pT]</text>
<text transform="translate(77.70,612.30) rotate(-90) scale(1.15,1)" x="-24.83 -18.83 -12.83 -6.07 0.97 6.97 12.97 18.97" y="0" font-size="10.53" fill="#1e1e1e">200−4000</text>
<text transform="translate(87.30,612.30) rotate(-90) scale(1.15,1)" x="-6.35 0.67" y="0" font-size="10.53" fill="#1e1e1e">Hz</text>
<text transform="translate(97.50,612.30) rotate(-90) scale(1.15,1)" x="-8.81 -5.33 -0.37 5.89" y="0" font-size="10.53" fill="#1e1e1e">[pT]</text>
<text transform="translate(77.70,662.10) rotate(-90) scale(1.15,1)" x="-18.83 -12.83 -6.07 0.97 6.97 12.97" y="0" font-size="10.53" fill="#1e1e1e">50−100</text>
<text transform="translate(87.30,662.10) rotate(-90) scale(1.15,1)" x="-6.35 0.67" y="0" font-size="10.53" fill="#1e1e1e">Hz</text>
<text transform="translate(97.50,662.10) rotate(-90) scale(1.15,1)" x="-8.81 -5.33 -0.37 5.89" y="0" font-size="10.53" fill="#1e1e1e">[pT]</text>
<text transform="translate(70.80,711.90) rotate(-90) scale(1.15,1)" x="-15.83 -9.83 -3.07 3.97 9.97" y="0" font-size="10.53" fill="#1e1e1e">12−25</text>
<text transform="translate(80.40,711.90) rotate(-90) scale(1.15,1)" x="-6.35 0.67" y="0" font-size="10.53" fill="#1e1e1e">Hz</text>
<text transform="translate(90.60,711.90) rotate(-90) scale(1.15,1)" x="-8.81 -5.33 -0.37 5.89" y="0" font-size="10.53" fill="#1e1e1e">[pT]</text>
<text transform="translate(77.70,761.70) rotate(-90) scale(1.15,1)" x="-9.83 -3.07 3.97" y="0" font-size="10.53" fill="#1e1e1e">3−6</text>
<text transform="translate(87.30,761.70) rotate(-90) scale(1.15,1)" x="-6.35 0.67" y="0" font-size="10.53" fill="#1e1e1e">Hz</text>
<text transform="translate(97.50,761.70) rotate(-90) scale(1.15,1)" x="-8.81 -5.33 -0.37 5.89" y="0" font-size="10.53" fill="#1e1e1e">[pT]</text>
<text transform="translate(77.70,811.50) rotate(-90) scale(1.15,1)" x="-18.83 -12.86 -9.83 -3.07 3.97 9.94 12.97" y="0" font-size="10.53" fill="#1e1e1e">0.8−1.5</text>
<text transform="translate(87.30,811.50) rotate(-90) scale(1.15,1)" x="-6.35 0.67" y="0" font-size="10.53" fill="#1e1e1e">Hz</text>
<text transform="translate(97.50,811.50) rotate(-90) scale(1.15,1)" x="-8.81 -5.33 -0.37 5.89" y="0" font-size="10.53" fill="#1e1e1e">[pT]</text>
<text transform="translate(7.00,893.90) scale(1.15,1)" x="-0.65 5.94 12.09 18.24 24.82" y="0" font-size="10.53" fill="#1e1e1e">RBSPa</text>
<text transform="translate(7.00,904.05) scale(1.15,1)" x="-0.79 6.82 11.48" y="0" font-size="10.53" fill="#1e1e1e">MLT</text>
<text transform="translate(7.00,914.20) scale(1.15,1)" x="0.64 4.12 9.82 15.52 21.50 25.12 30.94" y="0" font-size="10.53" fill="#1e1e1e">[hours]</text>
<text transform="translate(7.00,924.35) scale(1.15,1)" x="-0.65 5.94 12.09 18.24 24.82" y="0" font-size="10.53" fill="#1e1e1e">RBSPa</text>
<text transform="translate(7.00,934.50) scale(1.15,1)" x="-0.79 6.82 11.49 16.88" y="0" font-size="10.53" fill="#1e1e1e">MLAT</text>
<text transform="translate(7.00,944.65) scale(1.15,1)" x="0.64 4.12 9.67 15.22 21.20 24.67 30.07 35.62 41.44" y="0" font-size="10.53" fill="#1e1e1e">[degrees]</text>
<text transform="translate(7.00,954.80) scale(1.15,1)" x="-0.65 5.94 12.09 18.24 24.82" y="0" font-size="10.53" fill="#1e1e1e">RBSPa</text>
<text transform="translate(136.00,893.90) scale(1.15,1)" x="-7.43 -1.46 1.57" y="0" font-size="10.53" fill="#1e1e1e">6.9</text>
<text transform="translate(136.00,904.05) scale(1.15,1)" x="-13.57 -6.53 -0.53 5.44 8.47" y="0" font-size="10.53" fill="#1e1e1e">−13.6</text>
<text transform="translate(136.00,914.20) scale(1.15,1)" x="-7.43 -1.46 1.57" y="0" font-size="10.53" fill="#1e1e1e">1.2</text>
<text transform="translate(136.00,924.35) scale(1.15,1)" x="-11.93 -5.93 0.07 6.07" y="0" font-size="10.53" fill="#1e1e1e">0000</text>
<text transform="translate(136.00,934.50) scale(1.15,1)" x="-19.13 -14.18 -8.48 -1.76 3.04 6.97 12.97" y="0" font-size="10.53" fill="#1e1e1e">Jun  18</text>
<text transform="translate(287.67,893.90) scale(1.15,1)" x="-10.43 -4.43 1.54 4.57" y="0" font-size="10.53" fill="#1e1e1e">22.4</text>
<text transform="translate(287.67,904.05) scale(1.15,1)" x="-10.43 -4.43 1.54 4.57" y="0" font-size="10.53" fill="#1e1e1e">13.1</text>
<text transform="translate(287.67,914.20) scale(1.15,1)" x="-7.43 -1.46 1.57" y="0" font-size="10.53" fill="#1e1e1e">3.0</text>
<text transform="translate(287.67,924.35) scale(1.15,1)" x="-11.93 -5.93 0.07 6.07" y="0" font-size="10.53" fill="#1e1e1e">0800</text>
<text transform="translate(439.33,893.90) scale(1.15,1)" x="-10.43 -4.43 1.54 4.57" y="0" font-size="10.53" fill="#1e1e1e">20.5</text>
<text transform="translate(439.33,904.05) scale(1.15,1)" x="-10.57 -3.53 2.44 5.47" y="0" font-size="10.53" fill="#1e1e1e">−0.4</text>
<text transform="translate(439.33,914.20) scale(1.15,1)" x="-7.43 -1.46 1.57" y="0" font-size="10.53" fill="#1e1e1e">4.4</text>
<text transform="translate(439.33,924.35) scale(1.15,1)" x="-11.93 -5.93 0.07 6.07" y="0" font-size="10.53" fill="#1e1e1e">1600</text>
<text transform="translate(591.00,893.90) scale(1.15,1)" x="-10.43 -4.43 1.54 4.57" y="0" font-size="10.53" fill="#1e1e1e">19.6</text>
<text transform="translate(591.00,904.05) scale(1.15,1)" x="-10.43 -4.43 1.54 4.57" y="0" font-size="10.53" fill="#1e1e1e">15.4</text>
<text transform="translate(591.00,914.20) scale(1.15,1)" x="-7.43 -1.46 1.57" y="0" font-size="10.53" fill="#1e1e1e">5.7</text>
<text transform="translate(591.00,924.35) scale(1.15,1)" x="-11.93 -5.93 0.07 6.07" y="0" font-size="10.53" fill="#1e1e1e">0000</text>
<text transform="translate(591.00,934.50) scale(1.15,1)" x="-19.13 -14.18 -8.48 -1.76 3.04 6.97 12.97" y="0" font-size="10.53" fill="#1e1e1e">Jun  19</text>
<text transform="translate(95.50,906.80) rotate(-90) scale(1.15,1)" x="-0.26 7.36 13.78 21.15 26.21 29.77 36.81 44.43 49.49 54.26 58.66 64.97 67.77 74.30 80.21 86.32" y="0" font-size="10.53" fill="#1e1e1e">Rad [RE] (black)</text>
<text transform="translate(106.50,923.00) rotate(-90) scale(1.15,1)" x="-0.79 7.23 9.52 15.63 19.24 24.03 27.96 35.72 40.55 46.82 51.61 56.11 59.59 65.14 70.68 77.10 81.60 85.80 89.58 95.38 97.67 103.22 109.19" y="0" font-size="10.53" fill="#1e1e1e">Mlat*(1/6) [deg] (blue)</text>
<text transform="translate(655.50,463.00) rotate(-90) scale(1.15,1)" x="-35.20 -31.24 -23.16 -15.11 -10.24 -1.00 4.10 10.69 16.09 19.15 26.17 31.99" y="0" font-size="10.53" fill="#1e1e1e">(mV/m)²/[Hz]</text>
<text transform="translate(675.30,463.00) rotate(-90) scale(1.15,1)" x="-40.70 -34.11 -27.96 -21.81 -15.23 -8.51 -5.31 0.53 5.08 14.59 18.37 23.47 29.02 34.72" y="0" font-size="10.53" fill="#1e1e1e">RBSPa EFW spec</text>
<text transform="translate(131.80,845.80) scale(1.15,1)" x="-6.10" y="0" font-size="10.84" fill="#1e1e1e">6</text>
<text transform="translate(131.80,848.85) scale(1.15,1)" x="-6.10" y="0" font-size="10.84" fill="#1e1e1e">4</text>
<text transform="translate(131.80,855.45) scale(1.15,1)" x="-6.10" y="0" font-size="10.84" fill="#1e1e1e">2</text>
<text transform="translate(131.80,862.05) scale(1.15,1)" x="-6.10" y="0" font-size="10.84" fill="#1e1e1e">0</text>
<text transform="translate(131.80,868.65) scale(1.15,1)" x="-13.35 -6.10" y="0" font-size="10.84" fill="#1e1e1e">−2</text>
<text transform="translate(131.80,875.25) scale(1.15,1)" x="-13.35 -6.10" y="0" font-size="10.84" fill="#1e1e1e">−4</text>
<text transform="translate(131.80,878.60) scale(1.15,1)" x="-13.35 -6.10" y="0" font-size="10.84" fill="#1e1e1e">−6</text>
<text transform="translate(607.60,446.90) scale(1.15,1)" x="0.07 6.25" y="0" font-size="10.84" fill="#1e1e1e">10</text>
<text transform="translate(622.60,442.90) scale(1.15,1)" x="0.49 4.68" y="0" font-size="6.26" fill="#1e1e1e">−2</text>
<text transform="translate(607.60,455.70) scale(1.15,1)" x="0.07 6.25" y="0" font-size="10.84" fill="#1e1e1e">10</text>
<text transform="translate(622.60,450.50) scale(1.15,1)" x="0.49 4.68" y="0" font-size="6.26" fill="#1e1e1e">−3</text>
<text transform="translate(607.60,466.60) scale(1.15,1)" x="0.07 6.25" y="0" font-size="10.84" fill="#1e1e1e">10</text>
<text transform="translate(622.60,461.00) scale(1.15,1)" x="0.49 4.68" y="0" font-size="6.26" fill="#1e1e1e">−4</text>
<text transform="translate(607.60,477.40) scale(1.15,1)" x="0.07 6.25" y="0" font-size="10.84" fill="#1e1e1e">10</text>
<text transform="translate(622.60,472.50) scale(1.15,1)" x="0.49 4.68" y="0" font-size="6.26" fill="#1e1e1e">−5</text>
<text transform="translate(607.60,485.30) scale(1.15,1)" x="0.07 6.25" y="0" font-size="10.84" fill="#1e1e1e">10</text>
<text transform="translate(622.60,479.40) scale(1.15,1)" x="0.49 4.68" y="0" font-size="6.26" fill="#1e1e1e">−6</text>
<text transform="translate(596.50,880.00) rotate(-90) scale(1.15,1)" x="-0.43 3.92 7.06 10.76 12.76 15.49 18.69 20.51 22.67 25.98 29.76 31.93 35.23 38.52 40.19 43.49 46.78 48.45 51.75 55.53 57.70 61.00 64.31 67.61 71.39 73.39 76.20 79.51" y="0" font-size="5.80" fill="#1e1e1e">Mon Jul 20 07:38:04 2015 v02</text>
</svg></body></html>
